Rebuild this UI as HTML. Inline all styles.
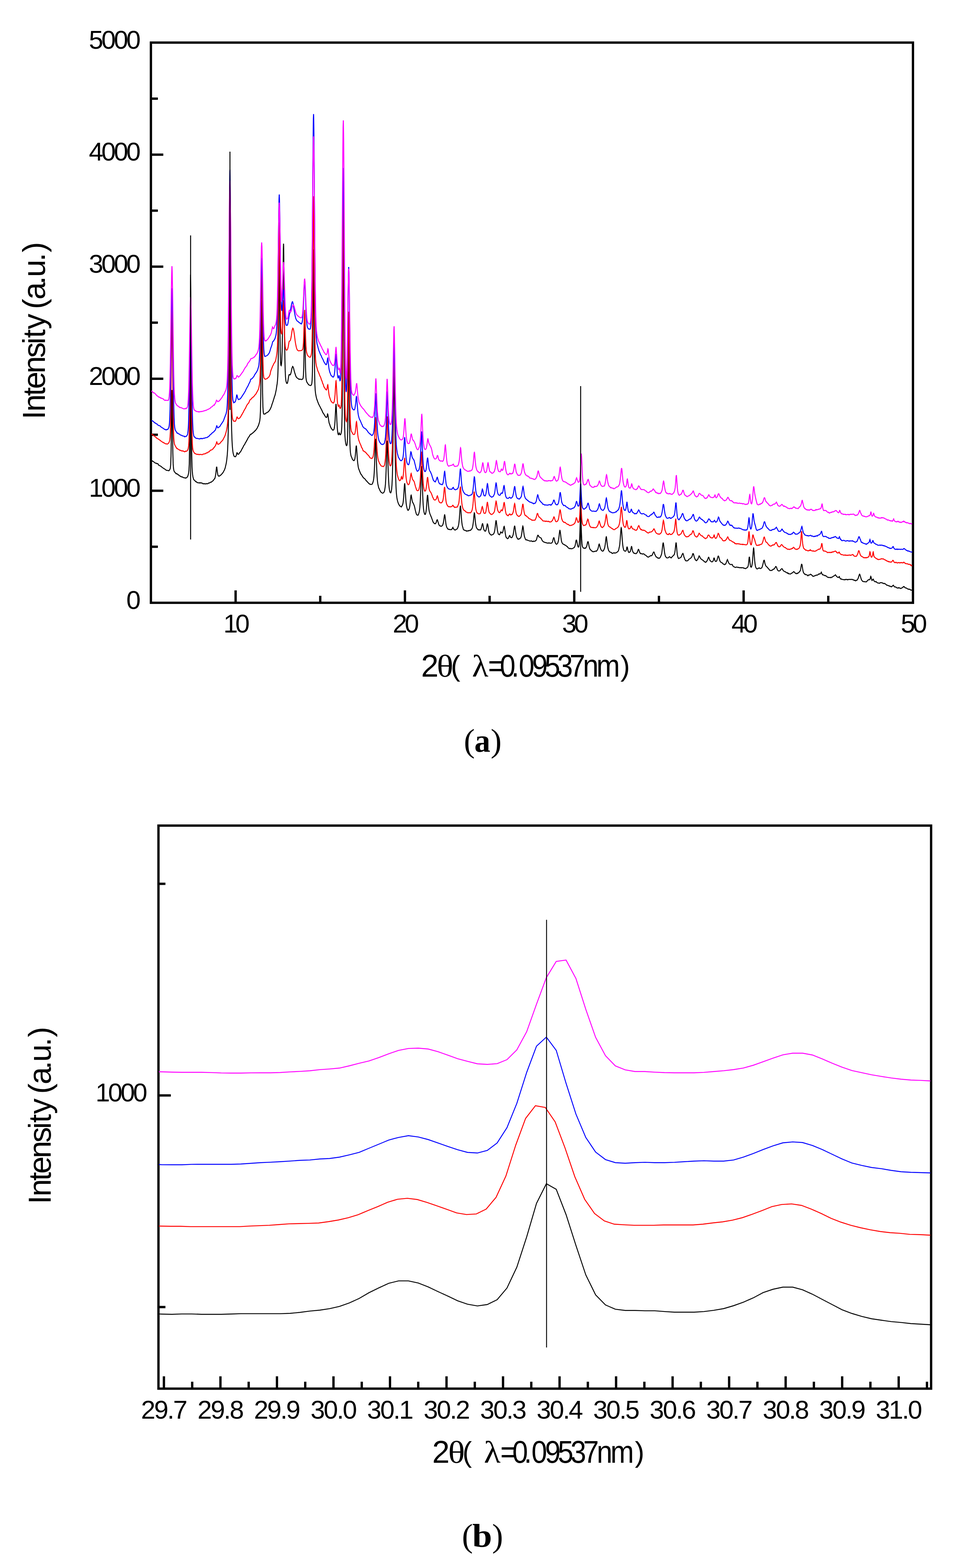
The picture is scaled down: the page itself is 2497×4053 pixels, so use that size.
<!DOCTYPE html>
<html lang="en"><head><meta charset="utf-8"><title>XRD patterns</title>
<style>
html,body{margin:0;padding:0;background:#fff;}
body{width:2497px;height:4053px;overflow:hidden;}
svg{display:block;}
text{font-family:"Liberation Sans",Arial,Helvetica,sans-serif;fill:#000;}
.sym{font-family:"Liberation Serif","DejaVu Serif",serif;}
.cap{font-family:"Liberation Serif","DejaVu Serif",serif;}
.capb{font-family:"Liberation Serif","DejaVu Serif",serif;font-weight:bold;}
.c{fill:none;stroke-linejoin:round;stroke-linecap:butt;}
</style></head><body>
<svg width="2497" height="4053" viewBox="0 0 2497 4053">
<rect width="2497" height="4053" fill="#fff"/>
<rect x="390.1" y="110.1" width="1969.8" height="1448.0" fill="none" stroke="#000" stroke-width="6"/>
<path d="M390.1 1413.3h18M390.1 1268.5h32M390.1 1123.7h18M390.1 978.9h32M390.1 834.1h18M390.1 689.3h32M390.1 544.5h18M390.1 399.7h32M390.1 254.9h18M609.0 1558.1v-32M827.8 1558.1v-18M1046.7 1558.1v-32M1265.6 1558.1v-18M1484.4 1558.1v-32M1703.3 1558.1v-18M1922.2 1558.1v-32M2141.0 1558.1v-18" stroke="#000" stroke-width="6" fill="none"/>
<text x="358.8" y="1573.8" font-size="67" text-anchor="end" letter-spacing="-5" >0</text>
<text x="358.8" y="1284.2" font-size="67" text-anchor="end" letter-spacing="-5" >1000</text>
<text x="358.8" y="994.6" font-size="67" text-anchor="end" letter-spacing="-5" >2000</text>
<text x="358.8" y="705.0" font-size="67" text-anchor="end" letter-spacing="-5" >3000</text>
<text x="358.8" y="415.4" font-size="67" text-anchor="end" letter-spacing="-5" >4000</text>
<text x="358.8" y="125.8" font-size="67" text-anchor="end" letter-spacing="-5" >5000</text>
<text x="577.6 608.3" y="1635" font-size="67">10</text>
<text x="1015.3 1046.0" y="1635" font-size="67">20</text>
<text x="1453.0 1483.7" y="1635" font-size="67">30</text>
<text x="1890.8 1921.5" y="1635" font-size="67">40</text>
<text x="2328.5 2359.2" y="1635" font-size="67">50</text>
<text font-size="81" ><tspan x="1088.5" y="1749.0">2</tspan><tspan x="1128.9" y="1749.0" textLength="42.90" lengthAdjust="spacingAndGlyphs" class="sym">θ</tspan><tspan x="1165.2 1195.0" y="1746.7" font-size="74">( </tspan><tspan x="1219.9" y="1749.0" textLength="42.59" lengthAdjust="spacingAndGlyphs" class="sym">λ</tspan><tspan x="1261.6 1292.1 1321.7 1340.9 1375.2 1407.7 1440.2 1472.3 1506.8 1541.7" y="1749.0" textLength="407.36" lengthAdjust="spacingAndGlyphs">=0.09537nm</tspan><tspan x="1603.8" y="1746.7" font-size="74">)</tspan></text>
<text transform="rotate(-90)" font-size="81" ><tspan x="-1084.0 -1064.0 -1023.4 -1005.4 -965.3 -925.1 -890.1 -873.7 -851.2 -815.0 -799.0 -774.4 -736.1 -716.2 -676.1 -652.5" y="116.0">Intensity (a.u.)</tspan></text>
<text font-size="85.3" ><tspan x="1198.9" y="1942.5" class="cap">(</tspan><tspan x="1226.3" y="1942.5" textLength="41.20" lengthAdjust="spacingAndGlyphs" class="capb">a</tspan><tspan x="1268.3" y="1942.5" class="cap">)</tspan></text>
<path class="c" d="M391.6 1191.4L392.4 1191.4L393.2 1191.0L394.0 1191.8L394.8 1192.5L395.6 1192.5L396.4 1193.1L397.2 1193.7L398.0 1194.2L398.8 1194.8L399.6 1195.7L400.4 1196.4L401.2 1196.5L402.0 1197.1L402.8 1197.4L403.6 1197.5L404.4 1197.4L405.2 1198.2L406.0 1198.8L406.8 1198.4L407.6 1198.3L408.4 1199.0L409.2 1200.7L410.0 1202.2L410.8 1202.6L411.6 1203.0L412.4 1203.2L413.2 1203.9L414.0 1204.1L414.8 1204.8L415.6 1205.1L416.4 1205.5L417.2 1206.3L418.0 1207.0L418.8 1208.0L419.6 1208.4L420.4 1208.9L421.2 1209.4L422.0 1210.3L422.8 1210.6L423.6 1211.3L424.4 1211.6L425.2 1211.9L426.0 1212.5L426.8 1213.1L427.6 1213.8L428.4 1214.4L429.2 1215.1L430.0 1215.7L430.8 1215.7L431.6 1215.8L432.4 1215.9L433.2 1215.9L434.0 1216.3L434.8 1216.3L435.6 1216.4L436.4 1216.9L437.2 1216.2L438.0 1215.1L438.8 1213.9L439.6 1212.2L440.4 1209.0L441.2 1201.2L442.0 1179.1L442.8 1131.4L443.6 1059.8L444.4 1009.7L444.5 1008.1L445.2 1042.0L446.0 1115.8L446.8 1171.3L447.6 1198.9L448.4 1209.8L449.2 1214.8L450.0 1217.6L450.8 1219.7L451.6 1220.1L452.4 1221.2L453.2 1221.8L454.0 1222.7L454.8 1224.4L455.6 1224.8L456.4 1224.1L457.2 1224.8L458.0 1225.3L458.8 1225.3L459.6 1226.4L460.4 1227.4L461.2 1227.6L462.0 1227.6L462.8 1228.9L463.6 1229.5L464.4 1229.7L465.2 1230.1L466.0 1231.1L466.8 1231.7L467.6 1231.8L468.4 1232.3L469.2 1232.7L470.0 1232.3L470.8 1232.9L471.6 1232.8L472.4 1233.4L473.2 1234.3L474.0 1234.4L474.8 1234.4L475.6 1234.7L476.4 1235.3L477.2 1235.3L478.0 1235.0L478.8 1235.2L479.6 1235.4L480.4 1236.0L481.2 1235.0L482.0 1234.6L482.8 1234.1L483.6 1233.5L484.4 1232.8L485.2 1231.4L486.0 1228.8L486.8 1226.1L487.6 1222.0L488.4 1215.7L489.2 1199.8L490.0 1156.0L490.8 1054.7L491.6 885.2L492.4 727.0L492.7 710.1L493.2 755.7L494.0 932.0L494.8 1087.0L495.6 1171.5L496.4 1206.6L497.2 1220.2L498.0 1227.7L498.8 1232.8L499.6 1235.9L500.4 1238.8L501.2 1240.3L502.0 1240.7L502.8 1241.3L503.6 1242.4L504.4 1243.2L505.2 1244.2L506.0 1245.1L506.8 1244.8L507.6 1245.3L508.4 1246.2L509.2 1247.0L510.0 1247.2L510.8 1247.5L511.6 1248.0L512.4 1247.9L513.2 1247.8L514.0 1248.0L514.8 1248.1L515.6 1248.6L516.4 1248.3L517.2 1247.4L518.0 1248.3L518.8 1248.4L519.6 1248.4L520.4 1248.5L521.2 1248.0L522.0 1248.5L522.8 1249.3L523.6 1249.7L524.4 1250.4L525.2 1250.0L526.0 1249.8L526.8 1250.6L527.6 1250.9L528.4 1250.6L529.2 1250.0L530.0 1250.2L530.8 1250.7L531.6 1250.9L532.4 1251.0L533.2 1250.4L534.0 1249.9L534.8 1250.0L535.6 1250.4L536.4 1250.5L537.2 1250.5L538.0 1249.5L538.8 1248.8L539.6 1248.5L540.4 1248.3L541.2 1248.4L542.0 1248.0L542.8 1247.4L543.6 1246.8L544.4 1246.5L545.2 1246.3L546.0 1246.4L546.8 1245.7L547.6 1244.7L548.4 1244.5L549.2 1243.6L550.0 1243.1L550.8 1242.6L551.6 1241.3L552.4 1240.5L553.2 1239.1L554.0 1238.0L554.8 1237.7L555.6 1235.8L556.4 1232.6L557.2 1228.4L558.0 1222.9L558.8 1215.2L559.6 1207.9L559.9 1206.4L560.4 1207.6L561.2 1214.4L562.0 1220.8L562.8 1226.1L563.6 1228.9L564.4 1230.2L565.2 1230.4L566.0 1231.0L566.8 1230.7L567.6 1229.7L568.4 1229.7L569.2 1229.3L570.0 1228.4L570.8 1227.7L571.6 1227.2L572.4 1226.2L573.2 1225.1L574.0 1224.6L574.8 1223.7L575.6 1222.6L576.4 1221.4L577.2 1220.3L578.0 1218.7L578.8 1217.0L579.6 1215.7L580.4 1214.3L581.2 1211.7L582.0 1209.6L582.8 1206.3L583.6 1202.8L584.4 1199.2L585.2 1195.1L586.0 1189.6L586.8 1182.3L587.6 1174.2L588.4 1161.8L589.2 1143.2L590.0 1114.3L590.8 1065.6L591.6 981.2L592.4 842.9L593.2 651.2L594.0 487.2L594.3 469.8L594.8 514.2L595.6 698.0L596.4 878.4L597.2 1000.1L598.0 1072.0L598.8 1112.3L599.6 1136.0L600.4 1150.8L601.2 1160.4L602.0 1167.4L602.8 1172.1L603.6 1175.0L604.4 1177.5L605.2 1179.2L606.0 1180.0L606.8 1180.2L607.6 1180.5L608.4 1180.7L609.2 1180.2L610.0 1178.5L610.8 1176.9L611.6 1173.7L612.4 1170.3L612.8 1170.2L613.2 1170.6L614.0 1172.0L614.8 1174.0L615.6 1174.3L616.4 1174.2L617.2 1173.6L618.0 1172.7L618.8 1170.8L619.6 1170.0L620.4 1169.3L621.2 1168.5L622.0 1167.2L622.8 1166.1L623.6 1164.4L624.4 1162.8L625.2 1161.1L626.0 1159.7L626.8 1158.5L627.6 1156.9L628.4 1155.5L629.2 1153.6L630.0 1152.0L630.8 1150.7L631.6 1149.9L632.4 1149.0L633.2 1147.1L634.0 1145.3L634.8 1143.6L635.6 1143.1L636.4 1141.1L637.2 1140.1L638.0 1138.2L638.8 1137.0L639.6 1135.6L640.4 1133.9L641.2 1132.2L642.0 1130.7L642.8 1129.9L643.6 1129.1L644.4 1127.6L645.2 1126.1L646.0 1125.1L646.8 1123.4L647.2 1123.2L647.6 1122.7L648.4 1122.5L649.2 1122.7L650.0 1121.8L650.8 1120.8L651.6 1120.4L652.4 1120.1L653.2 1119.1L654.0 1118.7L654.8 1117.9L655.6 1116.8L656.4 1116.6L657.2 1115.8L658.0 1114.2L658.8 1114.1L659.6 1113.5L660.4 1112.4L661.2 1111.6L662.0 1110.5L662.8 1109.2L663.6 1108.5L664.4 1107.1L665.2 1105.8L666.0 1103.9L666.8 1102.0L667.6 1100.8L668.4 1098.8L669.2 1096.1L670.0 1093.4L670.8 1090.8L671.6 1086.7L672.4 1079.2L673.2 1063.2L674.0 1025.2L674.8 948.1L675.6 839.6L676.4 776.2L676.4 775.8L677.2 836.2L678.0 942.3L678.8 1016.7L679.6 1051.1L680.4 1064.0L681.2 1069.1L682.0 1070.4L682.8 1070.2L683.6 1070.4L684.4 1069.7L685.2 1070.0L686.0 1069.7L686.8 1068.7L687.6 1067.6L688.4 1067.0L689.2 1067.0L690.0 1066.5L690.8 1066.3L691.6 1065.4L692.4 1064.9L693.2 1064.7L694.0 1063.7L694.8 1062.7L695.6 1061.9L696.4 1060.9L697.2 1059.6L698.0 1058.3L698.8 1056.7L699.6 1055.1L700.4 1053.3L701.2 1051.4L702.0 1049.2L702.8 1046.2L703.6 1043.7L704.4 1041.6L705.2 1039.4L706.0 1036.9L706.8 1033.9L707.6 1031.6L708.4 1029.1L709.2 1026.0L710.0 1024.1L710.8 1022.0L711.6 1018.6L712.4 1014.9L713.2 1011.3L714.0 1007.4L714.8 1002.4L715.6 996.8L716.4 992.0L717.2 984.5L718.0 973.5L718.8 951.5L719.6 900.7L720.4 805.8L721.2 690.1L721.8 648.2L722.0 652.1L722.8 738.2L723.6 844.3L724.4 909.4L725.2 935.9L726.0 943.8L726.8 944.9L727.6 941.1L728.4 930.4L729.2 907.8L730.0 865.3L730.8 797.7L731.6 713.5L732.4 643.3L732.9 629.7L733.2 636.4L734.0 701.4L734.8 793.0L735.6 872.1L736.4 925.9L737.2 957.9L738.0 974.5L738.8 982.7L739.6 986.8L740.4 989.2L741.2 990.8L742.0 991.2L742.8 990.4L743.6 987.7L744.4 983.6L745.2 978.8L746.0 973.6L746.8 969.6L747.0 968.9L747.6 968.1L748.4 968.0L749.2 969.2L750.0 969.1L750.8 968.0L751.6 965.7L752.4 962.7L753.2 959.3L754.0 954.7L754.8 951.1L755.6 949.3L756.1 948.0L756.4 947.1L757.2 947.7L758.0 949.4L758.8 951.6L759.6 955.1L760.4 958.3L761.2 961.0L762.0 964.2L762.8 966.2L763.6 969.0L764.4 971.3L765.2 973.3L766.0 974.4L766.8 975.8L767.6 976.4L768.4 977.1L769.2 977.8L770.0 978.4L770.8 978.7L771.6 979.5L772.4 979.9L773.2 980.7L774.0 980.2L774.8 979.9L775.6 980.3L776.4 980.2L777.2 980.6L778.0 980.7L778.8 981.0L779.6 981.1L780.4 981.0L781.2 980.3L782.0 979.7L782.8 979.3L783.6 976.7L784.4 968.8L785.2 948.8L786.0 909.3L786.8 856.0L787.5 831.9L787.6 833.0L788.4 870.4L789.2 923.5L790.0 959.0L790.8 975.4L791.6 982.1L792.4 985.5L793.2 987.7L794.0 989.0L794.8 990.0L795.6 991.4L796.4 992.5L797.2 993.6L798.0 994.5L798.8 995.1L799.6 995.4L800.4 995.8L801.2 996.4L802.0 996.5L802.8 996.4L803.6 996.4L804.4 995.4L805.2 994.0L806.0 991.0L806.8 983.1L807.6 960.7L808.4 903.9L809.2 797.6L810.0 676.1L810.5 644.7L810.8 658.1L811.6 770.5L812.4 890.8L813.2 963.0L814.0 995.4L814.8 1009.1L815.6 1016.2L816.4 1020.9L817.2 1025.1L818.0 1028.6L818.8 1031.4L819.6 1033.8L820.4 1035.8L821.2 1038.1L822.0 1040.3L822.8 1042.2L823.6 1044.2L824.4 1045.9L825.2 1047.5L826.0 1049.0L826.8 1050.5L827.6 1052.0L828.4 1053.6L829.2 1055.3L830.0 1057.0L830.8 1058.2L831.6 1059.6L832.4 1061.7L833.2 1063.2L834.0 1065.4L834.8 1066.8L835.6 1068.2L836.4 1069.2L837.2 1070.1L838.0 1071.8L838.8 1073.1L839.6 1074.1L840.4 1075.8L841.2 1076.7L842.0 1077.8L842.8 1079.1L843.6 1079.1L844.4 1078.6L845.2 1077.2L846.0 1073.3L846.8 1070.1L847.3 1070.9L847.6 1072.2L848.4 1077.3L849.2 1083.7L850.0 1088.9L850.8 1093.5L851.6 1095.6L852.4 1097.3L853.2 1100.3L854.0 1102.4L854.8 1103.9L855.6 1105.9L856.4 1107.5L857.2 1108.1L858.0 1109.4L858.8 1110.3L859.6 1111.7L860.4 1112.0L861.2 1111.7L862.0 1111.5L862.8 1110.6L863.6 1108.7L864.4 1104.8L865.2 1098.6L866.0 1088.3L866.8 1072.4L867.6 1055.1L868.4 1044.8L868.6 1044.4L869.2 1051.2L870.0 1069.5L870.8 1088.1L871.6 1102.3L872.4 1112.2L873.2 1119.0L874.0 1122.4L874.8 1123.6L875.6 1122.6L876.4 1120.6L877.0 1119.0L877.2 1119.4L878.0 1121.7L878.8 1123.5L879.6 1123.9L880.4 1123.4L881.2 1121.6L882.0 1118.5L882.8 1113.5L883.6 1101.2L884.4 1068.7L885.2 986.3L886.0 825.8L886.8 628.4L887.4 559.5L887.6 568.5L888.4 729.7L889.2 925.6L890.0 1048.4L890.8 1103.6L891.6 1125.8L892.4 1137.0L893.2 1143.4L894.0 1148.0L894.8 1150.4L895.6 1151.9L896.4 1151.6L897.2 1148.8L898.0 1139.9L898.8 1113.4L899.6 1050.6L900.4 949.3L901.2 866.8L901.4 863.2L902.0 902.1L902.8 1009.7L903.6 1096.9L904.4 1142.9L905.2 1162.1L906.0 1170.7L906.8 1175.6L907.6 1179.0L908.4 1180.8L909.2 1182.4L910.0 1184.7L910.8 1186.9L911.6 1188.0L912.4 1189.0L913.2 1189.6L914.0 1190.4L914.8 1190.7L915.6 1189.9L916.4 1188.9L917.2 1186.3L918.0 1181.4L918.8 1173.7L919.6 1163.6L920.4 1154.7L921.1 1152.0L921.2 1151.8L922.0 1160.0L922.8 1173.3L923.6 1185.9L924.4 1194.8L925.2 1201.2L926.0 1206.7L926.8 1210.4L927.6 1212.8L928.4 1214.9L929.2 1217.1L930.0 1219.0L930.8 1220.8L931.6 1223.1L932.4 1224.4L933.2 1226.1L934.0 1226.7L934.8 1227.7L935.6 1229.0L936.4 1230.6L937.2 1231.9L938.0 1232.8L938.8 1234.1L939.6 1235.2L940.4 1235.9L941.2 1236.3L942.0 1236.7L942.8 1237.4L943.6 1238.4L944.4 1239.6L945.2 1240.3L946.0 1241.7L946.8 1243.1L947.6 1243.2L948.4 1243.6L949.2 1245.3L950.0 1246.2L950.8 1246.9L951.6 1247.7L952.4 1248.4L953.2 1249.5L954.0 1250.3L954.8 1250.4L955.6 1251.2L956.4 1251.7L957.2 1251.8L958.0 1252.2L958.8 1252.0L959.6 1252.3L960.4 1252.1L961.2 1251.8L962.0 1251.3L962.8 1250.0L963.6 1247.8L964.4 1245.5L965.2 1242.2L966.0 1237.2L966.8 1229.3L967.6 1216.5L968.4 1197.5L969.2 1172.4L970.0 1146.6L970.8 1134.6L970.8 1134.2L971.6 1144.5L972.4 1170.5L973.2 1197.3L974.0 1217.7L974.8 1231.7L975.6 1242.4L976.4 1249.2L977.2 1253.6L978.0 1257.0L978.8 1260.6L979.6 1262.4L980.4 1263.8L981.2 1265.7L982.0 1267.4L982.8 1268.9L983.6 1270.7L984.4 1271.7L985.2 1272.2L986.0 1273.0L986.8 1273.6L987.6 1274.2L988.4 1274.6L989.2 1274.9L990.0 1274.5L990.8 1274.0L991.6 1273.3L992.4 1272.5L993.2 1270.8L994.0 1268.7L994.8 1264.1L995.6 1258.7L996.4 1250.4L997.2 1236.9L998.0 1217.8L998.8 1192.3L999.6 1163.0L1000.4 1141.4L1000.7 1139.3L1001.2 1144.1L1002.0 1167.7L1002.8 1197.7L1003.6 1222.7L1004.4 1240.1L1005.2 1252.9L1006.0 1261.3L1006.8 1266.8L1007.6 1270.7L1008.4 1272.9L1009.2 1273.6L1010.0 1273.9L1010.8 1272.0L1011.6 1269.1L1012.4 1263.8L1013.2 1254.0L1014.0 1237.7L1014.8 1209.9L1015.6 1166.9L1016.4 1108.2L1017.2 1039.8L1018.0 982.6L1018.6 966.3L1018.8 968.6L1019.6 1009.9L1020.4 1077.6L1021.2 1143.8L1022.0 1196.6L1022.8 1233.7L1023.6 1257.5L1024.4 1272.3L1025.2 1280.6L1026.0 1287.0L1026.8 1291.4L1027.6 1294.8L1028.4 1297.6L1029.2 1299.9L1030.0 1302.1L1030.8 1303.4L1031.6 1304.9L1032.4 1306.5L1033.2 1307.5L1034.0 1308.1L1034.8 1308.6L1035.6 1308.8L1036.4 1309.8L1037.2 1310.4L1038.0 1309.4L1038.8 1308.2L1039.6 1306.9L1040.4 1305.1L1041.2 1302.9L1042.0 1298.7L1042.8 1292.2L1043.6 1282.0L1044.4 1268.9L1045.2 1255.8L1046.0 1249.6L1046.0 1249.0L1046.8 1255.4L1047.6 1269.0L1048.4 1282.5L1049.2 1293.6L1050.0 1302.0L1050.8 1307.5L1051.6 1311.0L1052.4 1314.5L1053.2 1316.7L1054.0 1318.2L1054.8 1319.2L1055.6 1318.6L1056.4 1317.5L1057.2 1316.6L1058.0 1314.2L1058.8 1310.7L1059.6 1305.5L1060.4 1298.1L1061.2 1289.5L1062.0 1282.4L1062.5 1280.1L1062.8 1279.8L1063.6 1283.2L1064.4 1288.5L1065.2 1293.2L1066.0 1296.3L1066.8 1298.6L1067.6 1299.9L1068.4 1301.3L1069.2 1303.3L1070.0 1304.9L1070.8 1307.4L1071.6 1309.9L1072.4 1313.6L1073.2 1317.5L1074.0 1320.8L1074.8 1323.7L1075.6 1326.9L1076.4 1329.0L1077.2 1330.5L1078.0 1331.2L1078.8 1331.1L1079.6 1331.7L1080.4 1331.7L1081.2 1330.8L1082.0 1328.7L1082.8 1326.3L1083.6 1323.2L1084.4 1318.8L1085.2 1311.7L1086.0 1300.8L1086.8 1286.2L1087.6 1265.2L1088.4 1238.7L1089.2 1213.9L1089.9 1205.0L1090.0 1205.9L1090.8 1221.0L1091.6 1247.5L1092.4 1273.1L1093.2 1292.6L1094.0 1306.4L1094.8 1315.6L1095.6 1321.5L1096.4 1325.1L1097.2 1327.6L1098.0 1329.5L1098.8 1329.8L1099.6 1329.0L1100.4 1326.6L1101.2 1322.6L1102.0 1316.7L1102.8 1307.1L1103.6 1295.6L1104.4 1284.3L1105.2 1279.3L1105.2 1279.3L1106.0 1284.6L1106.8 1295.0L1107.6 1305.8L1108.4 1314.1L1109.2 1319.5L1110.0 1323.2L1110.8 1326.4L1111.6 1328.9L1112.4 1330.7L1113.2 1332.3L1114.0 1334.8L1114.8 1336.3L1115.6 1338.2L1116.4 1340.9L1117.2 1342.9L1118.0 1345.1L1118.8 1347.3L1119.6 1349.5L1120.4 1350.7L1121.2 1351.7L1122.0 1352.3L1122.8 1352.8L1123.6 1353.6L1124.4 1353.9L1125.2 1353.8L1126.0 1352.7L1126.8 1351.9L1127.6 1350.3L1128.4 1347.2L1129.2 1344.6L1130.0 1343.5L1130.4 1343.4L1130.8 1343.8L1131.6 1346.8L1132.4 1349.5L1133.2 1352.1L1134.0 1354.9L1134.8 1356.8L1135.6 1358.1L1136.4 1358.8L1137.2 1359.3L1138.0 1359.4L1138.8 1359.9L1139.6 1359.8L1140.4 1360.3L1141.2 1360.0L1142.0 1359.6L1142.8 1359.1L1143.6 1358.3L1144.4 1356.9L1145.2 1354.4L1146.0 1351.4L1146.8 1347.1L1147.6 1341.4L1148.4 1334.8L1149.2 1330.7L1149.4 1330.6L1150.0 1332.5L1150.8 1338.2L1151.6 1344.8L1152.4 1352.0L1153.2 1357.3L1154.0 1360.2L1154.8 1362.7L1155.6 1364.0L1156.4 1365.5L1157.2 1367.2L1158.0 1367.2L1158.8 1367.4L1159.6 1368.5L1160.4 1368.8L1161.2 1368.7L1162.0 1368.2L1162.8 1368.8L1163.6 1369.2L1164.4 1369.1L1165.2 1368.8L1166.0 1369.0L1166.8 1369.2L1167.6 1368.2L1168.4 1367.5L1169.2 1366.2L1170.0 1363.8L1170.6 1363.1L1170.8 1363.8L1171.6 1365.3L1172.4 1366.7L1173.2 1367.6L1174.0 1368.9L1174.8 1369.6L1175.6 1369.9L1176.4 1370.2L1177.2 1369.6L1178.0 1369.7L1178.8 1368.5L1179.6 1368.1L1180.4 1368.0L1181.2 1367.3L1182.0 1366.6L1182.8 1365.3L1183.6 1363.0L1184.4 1360.8L1185.2 1357.8L1186.0 1352.9L1186.8 1346.5L1187.6 1337.4L1188.4 1325.6L1189.2 1313.7L1190.0 1307.6L1190.1 1307.1L1190.8 1310.9L1191.6 1321.9L1192.4 1334.3L1193.2 1344.3L1194.0 1351.8L1194.8 1357.5L1195.6 1360.9L1196.4 1363.2L1197.2 1366.6L1198.0 1368.7L1198.8 1369.5L1199.6 1370.1L1200.4 1370.4L1201.2 1370.3L1202.0 1371.2L1202.8 1371.4L1203.6 1371.4L1204.4 1371.5L1205.2 1372.3L1206.0 1373.0L1206.8 1372.2L1207.6 1372.3L1208.4 1372.4L1209.2 1372.7L1210.0 1372.3L1210.8 1371.4L1211.6 1372.1L1212.4 1371.9L1213.2 1371.2L1214.0 1371.2L1214.8 1370.6L1215.6 1370.8L1216.4 1370.9L1217.2 1369.9L1218.0 1368.6L1218.8 1368.0L1219.6 1367.1L1220.4 1365.6L1221.2 1363.0L1222.0 1359.3L1222.8 1354.6L1223.6 1348.5L1224.4 1340.6L1225.2 1331.5L1226.0 1325.8L1226.2 1326.0L1226.8 1328.1L1227.6 1336.0L1228.4 1344.5L1229.2 1352.0L1230.0 1357.1L1230.8 1361.0L1231.6 1363.9L1232.4 1365.0L1233.2 1366.4L1234.0 1367.3L1234.8 1368.2L1235.6 1369.0L1236.4 1369.9L1237.2 1369.5L1238.0 1369.0L1238.8 1369.4L1239.6 1370.0L1240.4 1369.8L1241.2 1370.0L1242.0 1369.9L1242.8 1368.7L1243.6 1366.4L1244.4 1364.2L1245.2 1361.1L1246.0 1357.0L1246.8 1354.4L1247.4 1353.6L1247.6 1353.9L1248.4 1356.8L1249.2 1361.3L1250.0 1366.0L1250.8 1368.9L1251.6 1370.3L1252.4 1371.8L1253.2 1372.6L1254.0 1373.0L1254.8 1373.0L1255.6 1372.0L1256.4 1369.4L1257.2 1366.3L1258.0 1362.4L1258.8 1357.7L1259.6 1354.2L1259.9 1354.3L1260.4 1354.8L1261.2 1358.2L1262.0 1363.6L1262.8 1369.4L1263.6 1374.2L1264.4 1377.0L1265.2 1378.5L1266.0 1379.6L1266.8 1380.7L1267.6 1381.6L1268.4 1382.0L1269.2 1382.8L1270.0 1383.3L1270.8 1383.0L1271.6 1382.3L1272.4 1382.1L1273.2 1382.0L1274.0 1381.6L1274.8 1380.9L1275.6 1380.6L1276.4 1379.1L1277.2 1377.5L1278.0 1374.9L1278.8 1371.2L1279.6 1366.2L1280.4 1359.1L1281.2 1351.5L1282.0 1345.9L1282.3 1345.0L1282.8 1346.8L1283.6 1352.8L1284.4 1359.8L1285.2 1366.7L1286.0 1372.1L1286.8 1376.0L1287.6 1378.9L1288.4 1380.9L1289.2 1381.1L1290.0 1381.6L1290.8 1382.4L1291.6 1381.7L1292.4 1380.0L1293.2 1378.2L1294.0 1375.7L1294.6 1374.9L1294.8 1375.1L1295.6 1376.1L1296.4 1376.6L1297.2 1377.5L1298.0 1377.8L1298.8 1376.5L1299.6 1374.9L1300.4 1372.5L1301.2 1368.3L1302.0 1364.0L1302.8 1360.9L1303.3 1360.5L1303.6 1361.9L1304.4 1365.6L1305.2 1371.3L1306.0 1377.7L1306.8 1382.7L1307.6 1386.7L1308.4 1389.2L1309.2 1389.8L1310.0 1390.5L1310.8 1391.4L1311.6 1392.5L1312.4 1392.2L1313.2 1392.0L1314.0 1391.0L1314.8 1389.5L1315.6 1387.4L1316.4 1385.7L1317.2 1384.4L1317.4 1384.1L1318.0 1384.7L1318.8 1386.8L1319.6 1388.8L1320.4 1389.0L1321.2 1389.6L1322.0 1389.9L1322.8 1389.7L1323.6 1389.1L1324.4 1387.3L1325.2 1385.6L1326.0 1383.6L1326.8 1380.3L1327.6 1375.1L1328.4 1369.4L1329.2 1363.3L1330.0 1360.0L1330.3 1359.8L1330.8 1360.7L1331.6 1365.9L1332.4 1371.8L1333.2 1377.8L1334.0 1382.2L1334.8 1385.9L1335.6 1388.6L1336.4 1389.9L1337.2 1391.3L1338.0 1392.8L1338.8 1393.4L1339.6 1394.1L1340.4 1393.3L1341.2 1392.6L1342.0 1393.2L1342.8 1392.9L1343.6 1392.0L1344.4 1391.4L1345.2 1390.7L1346.0 1390.2L1346.8 1387.7L1347.6 1385.3L1348.4 1380.8L1349.2 1375.1L1350.0 1368.7L1350.8 1362.8L1351.5 1360.0L1351.6 1360.2L1352.4 1363.3L1353.2 1370.3L1354.0 1376.9L1354.8 1382.5L1355.6 1386.8L1356.4 1388.9L1357.2 1391.4L1358.0 1393.3L1358.8 1394.6L1359.6 1395.7L1360.4 1395.6L1361.2 1395.1L1362.0 1395.4L1362.8 1395.9L1363.6 1396.5L1364.4 1396.8L1365.2 1396.9L1366.0 1397.1L1366.8 1397.4L1367.6 1397.6L1368.4 1398.0L1369.2 1398.6L1370.0 1398.6L1370.8 1398.6L1371.6 1398.6L1372.4 1398.5L1373.2 1398.0L1374.0 1398.4L1374.8 1398.6L1375.6 1399.5L1376.4 1399.3L1377.2 1399.5L1378.0 1399.8L1378.8 1398.9L1379.6 1398.6L1380.4 1399.2L1381.2 1399.4L1382.0 1399.2L1382.8 1398.7L1383.6 1398.5L1384.4 1397.7L1385.2 1396.9L1386.0 1396.4L1386.8 1394.6L1387.6 1391.6L1388.4 1388.5L1389.2 1385.8L1390.0 1384.1L1390.2 1383.6L1390.8 1383.6L1391.6 1384.3L1392.4 1386.2L1393.2 1387.7L1394.0 1388.1L1394.8 1388.5L1395.6 1388.9L1396.4 1389.8L1397.2 1389.9L1398.0 1390.4L1398.8 1391.0L1399.6 1392.7L1400.4 1394.8L1401.2 1396.7L1402.0 1397.7L1402.8 1398.3L1403.6 1399.6L1404.4 1400.4L1405.2 1400.8L1406.0 1401.0L1406.8 1401.0L1407.6 1401.6L1408.4 1402.3L1409.2 1402.5L1410.0 1402.2L1410.8 1402.4L1411.6 1402.9L1412.4 1403.0L1413.2 1403.2L1414.0 1403.7L1414.8 1403.8L1415.6 1404.0L1416.4 1403.9L1417.2 1403.5L1418.0 1403.9L1418.8 1403.6L1419.6 1403.2L1420.4 1403.7L1421.2 1404.1L1422.0 1404.1L1422.8 1404.1L1423.6 1404.3L1424.4 1403.9L1425.2 1403.8L1426.0 1403.8L1426.8 1402.8L1427.6 1401.4L1428.4 1399.8L1429.2 1396.3L1430.0 1392.5L1430.8 1390.4L1431.5 1389.8L1431.6 1389.8L1432.4 1391.6L1433.2 1394.9L1434.0 1398.7L1434.8 1401.6L1435.6 1403.4L1436.4 1405.0L1437.2 1405.8L1438.0 1406.5L1438.8 1406.9L1439.6 1406.1L1440.4 1405.4L1441.2 1404.5L1442.0 1403.0L1442.8 1400.1L1443.6 1397.0L1444.4 1391.8L1445.2 1384.9L1446.0 1377.7L1446.8 1372.1L1447.3 1370.9L1447.6 1371.2L1448.4 1375.8L1449.2 1382.4L1450.0 1389.5L1450.8 1395.3L1451.6 1399.4L1452.4 1401.9L1453.2 1403.7L1454.0 1404.7L1454.8 1405.8L1455.6 1406.2L1456.4 1406.7L1457.2 1407.3L1458.0 1407.5L1458.8 1407.7L1459.6 1408.7L1460.4 1409.1L1461.2 1409.2L1462.0 1409.6L1462.8 1410.4L1463.6 1410.8L1464.4 1411.5L1465.2 1412.4L1466.0 1412.7L1466.8 1412.9L1467.6 1414.5L1468.4 1415.9L1469.2 1416.3L1470.0 1416.7L1470.8 1417.6L1471.6 1417.6L1472.4 1418.3L1473.2 1417.8L1474.0 1417.5L1474.8 1418.2L1475.6 1418.5L1476.4 1418.3L1477.2 1418.3L1478.0 1418.4L1478.8 1418.1L1479.6 1418.1L1480.4 1417.7L1481.2 1417.3L1482.0 1416.6L1482.8 1416.0L1483.6 1415.5L1484.4 1415.2L1485.2 1413.8L1486.0 1411.9L1486.8 1409.3L1487.6 1405.4L1488.4 1400.2L1489.2 1396.5L1490.0 1395.4L1490.0 1395.1L1490.8 1397.9L1491.6 1402.2L1492.4 1406.4L1493.2 1410.1L1494.0 1412.7L1494.8 1414.2L1495.6 1414.1L1496.4 1412.4L1497.2 1407.6L1498.0 1397.1L1498.8 1379.7L1499.6 1356.8L1500.4 1335.7L1500.9 1330.6L1501.2 1331.3L1502.0 1349.7L1502.8 1374.5L1503.6 1392.9L1504.4 1404.7L1505.2 1410.9L1506.0 1413.5L1506.8 1415.1L1507.6 1416.4L1508.4 1416.9L1509.2 1416.7L1510.0 1416.7L1510.8 1417.6L1511.6 1417.6L1512.4 1416.6L1513.2 1416.8L1514.0 1416.9L1514.8 1415.2L1515.6 1413.7L1516.4 1412.0L1517.2 1409.4L1518.0 1405.3L1518.8 1401.6L1519.6 1400.6L1519.8 1400.2L1520.4 1400.6L1521.2 1404.1L1522.0 1408.5L1522.8 1412.6L1523.6 1415.2L1524.4 1418.0L1525.2 1419.9L1526.0 1420.6L1526.8 1421.0L1527.6 1422.2L1528.4 1423.5L1529.2 1423.6L1530.0 1424.3L1530.8 1425.1L1531.6 1425.0L1532.4 1425.7L1533.2 1426.4L1534.0 1426.1L1534.8 1425.7L1535.6 1425.5L1536.4 1425.4L1537.2 1425.6L1538.0 1425.2L1538.8 1424.6L1539.6 1424.8L1540.4 1424.5L1541.2 1424.7L1542.0 1424.7L1542.8 1423.2L1543.6 1422.3L1544.4 1421.1L1545.2 1419.1L1546.0 1416.9L1546.8 1413.8L1547.6 1409.8L1548.4 1406.8L1548.9 1406.3L1549.2 1407.2L1550.0 1409.4L1550.8 1412.8L1551.6 1415.8L1552.4 1418.1L1553.2 1419.9L1554.0 1421.6L1554.8 1422.9L1555.6 1423.4L1556.4 1424.1L1557.2 1424.8L1558.0 1424.4L1558.8 1423.9L1559.6 1424.0L1560.4 1422.3L1561.2 1420.5L1562.0 1418.8L1562.8 1416.5L1563.6 1412.4L1564.4 1407.6L1565.2 1401.5L1566.0 1393.8L1566.8 1388.4L1567.2 1387.6L1567.6 1388.4L1568.4 1394.6L1569.2 1402.4L1570.0 1408.9L1570.8 1413.6L1571.6 1417.4L1572.4 1420.1L1573.2 1422.6L1574.0 1423.9L1574.8 1425.3L1575.6 1426.2L1576.4 1426.9L1577.2 1427.2L1578.0 1427.6L1578.8 1427.8L1579.6 1427.7L1580.4 1428.2L1581.2 1429.1L1582.0 1430.3L1582.8 1430.8L1583.6 1430.3L1584.4 1430.0L1585.2 1429.4L1586.0 1429.1L1586.8 1429.3L1587.6 1428.8L1588.4 1429.1L1589.2 1429.6L1590.0 1429.5L1590.8 1429.3L1591.6 1429.1L1592.4 1428.6L1593.2 1428.5L1594.0 1428.2L1594.8 1427.4L1595.6 1426.8L1596.4 1426.1L1597.2 1425.4L1598.0 1424.5L1598.8 1422.7L1599.6 1419.7L1600.4 1415.7L1601.2 1412.3L1602.0 1407.2L1602.8 1398.6L1603.6 1387.6L1604.4 1376.5L1605.2 1367.5L1605.8 1364.2L1606.0 1364.5L1606.8 1371.6L1607.6 1382.5L1608.4 1393.8L1609.2 1403.6L1610.0 1410.8L1610.8 1416.1L1611.6 1419.2L1612.4 1422.0L1613.2 1423.1L1614.0 1423.7L1614.8 1424.3L1615.6 1424.6L1616.4 1424.7L1617.2 1424.5L1618.0 1424.0L1618.8 1422.1L1619.6 1419.2L1620.4 1414.4L1621.1 1413.0L1621.2 1413.7L1622.0 1416.8L1622.8 1421.2L1623.6 1424.2L1624.4 1426.5L1625.2 1427.3L1626.0 1428.2L1626.8 1427.5L1627.6 1426.8L1628.4 1426.7L1629.2 1425.3L1630.0 1422.8L1630.8 1419.4L1631.6 1414.9L1632.4 1412.4L1632.6 1412.4L1633.2 1414.1L1634.0 1419.0L1634.8 1422.8L1635.6 1425.3L1636.4 1427.1L1637.2 1428.6L1638.0 1429.3L1638.8 1429.5L1639.6 1430.6L1640.4 1430.3L1641.2 1430.3L1642.0 1430.8L1642.8 1430.9L1643.6 1431.2L1644.4 1431.0L1645.2 1430.4L1646.0 1429.1L1646.8 1428.4L1647.6 1426.8L1648.4 1424.5L1649.2 1422.1L1650.0 1419.9L1650.4 1419.9L1650.8 1420.0L1651.6 1422.1L1652.4 1424.5L1653.2 1426.6L1654.0 1428.4L1654.8 1430.0L1655.6 1431.1L1656.4 1431.0L1657.2 1430.9L1658.0 1431.2L1658.8 1431.2L1659.6 1431.5L1660.4 1432.2L1661.2 1431.9L1662.0 1431.9L1662.8 1431.5L1663.6 1431.5L1664.4 1431.9L1665.2 1432.7L1666.0 1433.7L1666.8 1434.1L1667.6 1434.4L1668.4 1435.0L1669.2 1435.1L1670.0 1436.1L1670.8 1436.9L1671.6 1437.5L1672.4 1438.2L1673.2 1439.0L1674.0 1439.4L1674.8 1440.0L1675.6 1440.3L1676.4 1439.6L1677.2 1439.2L1678.0 1439.1L1678.8 1438.4L1679.6 1437.7L1680.4 1437.1L1681.2 1436.4L1682.0 1436.7L1682.8 1436.4L1683.6 1436.6L1684.4 1436.0L1685.2 1435.0L1686.0 1434.7L1686.8 1432.9L1687.6 1430.3L1688.4 1428.8L1689.2 1427.1L1690.0 1426.7L1690.1 1426.7L1690.8 1427.4L1691.6 1429.9L1692.4 1432.5L1693.2 1434.2L1694.0 1435.4L1694.8 1437.3L1695.6 1438.8L1696.4 1440.0L1697.2 1439.8L1698.0 1440.1L1698.8 1441.2L1699.6 1442.1L1700.4 1442.6L1701.2 1442.3L1702.0 1442.2L1702.8 1443.1L1703.6 1443.0L1704.4 1442.7L1705.2 1442.6L1706.0 1441.3L1706.8 1439.9L1707.6 1439.0L1708.4 1436.7L1709.2 1434.8L1710.0 1432.4L1710.8 1428.4L1711.6 1422.2L1712.4 1415.0L1713.2 1408.1L1714.0 1403.6L1714.3 1403.4L1714.8 1404.4L1715.6 1409.8L1716.4 1416.6L1717.2 1423.5L1718.0 1429.3L1718.8 1433.5L1719.6 1436.5L1720.4 1438.5L1721.2 1439.3L1722.0 1440.6L1722.8 1441.7L1723.6 1441.9L1724.4 1441.9L1725.2 1442.1L1726.0 1442.2L1726.8 1441.8L1727.6 1441.4L1728.4 1441.0L1729.2 1440.3L1730.0 1439.0L1730.4 1438.9L1730.8 1439.2L1731.6 1439.7L1732.4 1440.2L1733.2 1440.6L1734.0 1441.8L1734.8 1442.2L1735.6 1441.0L1736.4 1440.4L1737.2 1439.2L1738.0 1438.8L1738.8 1437.9L1739.6 1436.7L1740.4 1435.9L1741.2 1435.6L1742.0 1434.7L1742.8 1433.4L1743.6 1431.0L1744.4 1427.4L1745.2 1421.9L1746.0 1414.7L1746.8 1406.6L1747.6 1402.5L1747.7 1402.3L1748.4 1407.3L1749.2 1417.1L1750.0 1426.5L1750.8 1433.7L1751.6 1437.7L1752.4 1440.5L1753.2 1442.9L1754.0 1443.8L1754.8 1443.1L1755.6 1443.1L1756.4 1442.9L1757.2 1442.3L1758.0 1441.6L1758.8 1441.6L1759.6 1441.0L1760.4 1440.3L1761.2 1438.4L1762.0 1436.6L1762.8 1434.5L1763.6 1432.7L1764.4 1431.4L1765.1 1430.5L1765.2 1430.7L1766.0 1431.7L1766.8 1434.8L1767.6 1438.3L1768.4 1440.8L1769.2 1442.6L1770.0 1445.1L1770.8 1447.0L1771.6 1447.9L1772.4 1449.5L1773.2 1449.7L1774.0 1449.5L1774.8 1449.9L1775.6 1450.0L1776.4 1449.4L1777.2 1449.3L1778.0 1449.1L1778.8 1448.3L1779.6 1446.6L1780.4 1445.9L1781.2 1445.4L1782.0 1445.0L1782.8 1444.6L1783.6 1443.7L1784.4 1443.4L1785.2 1443.0L1786.0 1442.0L1786.8 1440.9L1787.6 1440.1L1788.4 1439.1L1789.2 1437.0L1790.0 1433.9L1790.8 1431.2L1791.6 1431.2L1791.7 1431.1L1792.4 1431.6L1793.2 1434.3L1794.0 1437.7L1794.8 1440.7L1795.6 1442.6L1796.4 1444.9L1797.2 1446.6L1798.0 1447.7L1798.8 1448.2L1799.6 1448.2L1800.4 1449.3L1801.2 1448.3L1802.0 1447.4L1802.8 1447.1L1803.6 1445.6L1804.4 1443.7L1805.2 1442.0L1806.0 1440.1L1806.8 1437.8L1807.2 1437.0L1807.6 1437.6L1808.4 1438.1L1809.2 1440.0L1810.0 1442.0L1810.8 1442.9L1811.6 1444.2L1812.4 1444.8L1813.2 1446.0L1814.0 1446.3L1814.8 1446.6L1815.6 1447.0L1816.4 1447.8L1817.2 1448.6L1818.0 1449.1L1818.8 1449.7L1819.6 1450.8L1820.4 1451.1L1821.2 1452.0L1822.0 1452.6L1822.8 1452.6L1823.6 1453.6L1824.4 1453.2L1825.2 1452.4L1826.0 1452.2L1826.8 1451.0L1827.6 1449.2L1828.4 1447.8L1829.2 1446.5L1830.0 1444.2L1830.8 1441.9L1831.6 1439.7L1831.6 1439.5L1832.4 1441.1L1833.2 1443.6L1834.0 1445.6L1834.8 1447.6L1835.6 1449.3L1836.4 1450.0L1837.2 1450.4L1838.0 1451.3L1838.8 1451.7L1839.6 1451.9L1840.4 1452.5L1841.2 1452.0L1842.0 1451.5L1842.8 1450.5L1843.6 1449.4L1844.4 1446.5L1845.2 1442.8L1845.9 1442.3L1846.0 1442.3L1846.8 1444.3L1847.6 1447.6L1848.4 1449.8L1849.2 1451.1L1850.0 1451.1L1850.8 1451.3L1851.6 1450.8L1852.4 1449.7L1853.2 1448.3L1854.0 1445.4L1854.8 1442.6L1855.6 1439.4L1856.4 1437.4L1856.8 1437.2L1857.2 1437.3L1858.0 1439.3L1858.8 1442.4L1859.6 1445.3L1860.4 1448.3L1861.2 1450.5L1862.0 1452.0L1862.8 1452.7L1863.6 1453.3L1864.4 1453.9L1865.2 1454.0L1866.0 1454.7L1866.8 1455.2L1867.6 1455.5L1868.4 1456.8L1869.2 1457.8L1870.0 1458.2L1870.8 1458.3L1871.6 1458.5L1872.4 1459.4L1873.2 1459.7L1874.0 1459.2L1874.8 1458.1L1875.6 1457.9L1876.4 1456.6L1877.2 1454.3L1878.0 1452.1L1878.8 1450.0L1879.6 1447.8L1880.3 1446.8L1880.4 1446.6L1881.2 1448.7L1882.0 1451.1L1882.8 1453.0L1883.6 1455.0L1884.4 1455.9L1885.2 1457.2L1886.0 1458.2L1886.8 1458.4L1887.6 1458.8L1888.4 1459.2L1889.2 1459.2L1890.0 1459.2L1890.8 1459.0L1891.6 1458.7L1892.4 1458.9L1893.2 1460.5L1894.0 1461.8L1894.8 1463.3L1895.6 1464.2L1896.4 1464.9L1897.2 1465.1L1898.0 1465.4L1898.8 1465.7L1899.6 1466.3L1900.4 1466.5L1901.2 1466.8L1902.0 1466.8L1902.8 1466.3L1903.6 1465.9L1904.4 1465.6L1905.2 1465.9L1906.0 1466.1L1906.8 1466.3L1907.6 1467.1L1908.4 1466.6L1909.2 1466.5L1910.0 1466.7L1910.8 1467.0L1911.6 1467.5L1912.4 1467.7L1913.2 1467.6L1914.0 1467.2L1914.8 1467.1L1915.6 1467.5L1916.4 1467.8L1917.2 1467.3L1918.0 1467.5L1918.8 1467.4L1919.6 1467.4L1920.4 1467.4L1921.2 1467.5L1922.0 1468.3L1922.8 1468.8L1923.6 1468.5L1924.4 1468.9L1925.2 1469.4L1926.0 1469.2L1926.8 1469.6L1927.6 1469.8L1928.4 1469.1L1929.2 1468.3L1930.0 1468.0L1930.8 1467.9L1931.6 1466.8L1932.4 1466.1L1933.2 1464.7L1934.0 1462.3L1934.8 1457.4L1935.6 1449.4L1936.4 1441.5L1937.1 1439.2L1937.2 1439.8L1938.0 1446.0L1938.8 1454.4L1939.6 1461.0L1940.4 1464.8L1941.2 1465.7L1942.0 1466.1L1942.8 1464.7L1943.6 1461.7L1944.4 1457.2L1945.2 1450.0L1946.0 1439.0L1946.8 1427.2L1947.6 1418.2L1948.0 1416.8L1948.4 1417.6L1949.2 1426.8L1950.0 1438.8L1950.8 1449.4L1951.6 1456.6L1952.4 1461.8L1953.2 1465.2L1954.0 1467.4L1954.8 1468.6L1955.6 1469.6L1956.4 1470.5L1957.2 1470.5L1958.0 1470.5L1958.8 1469.7L1959.6 1469.5L1960.4 1469.2L1961.2 1468.4L1962.0 1467.9L1962.8 1468.0L1963.6 1468.8L1964.4 1469.3L1965.2 1469.4L1966.0 1469.7L1966.8 1469.3L1967.6 1468.7L1968.4 1468.1L1969.2 1467.4L1970.0 1465.7L1970.8 1462.8L1971.6 1460.4L1972.4 1457.1L1973.2 1453.5L1974.0 1449.9L1974.8 1447.9L1974.8 1447.4L1975.6 1448.4L1976.4 1451.6L1977.2 1456.2L1978.0 1458.8L1978.8 1460.7L1979.6 1462.4L1980.4 1463.8L1981.2 1464.6L1982.0 1465.0L1982.8 1465.9L1983.6 1466.5L1984.4 1467.6L1985.2 1468.6L1986.0 1469.8L1986.8 1470.5L1987.6 1471.0L1988.4 1472.3L1989.2 1473.6L1990.0 1474.2L1990.8 1474.4L1991.6 1474.5L1992.4 1474.7L1993.2 1474.5L1994.0 1474.7L1994.8 1474.2L1995.6 1473.8L1996.4 1473.6L1997.2 1473.0L1998.0 1471.9L1998.8 1471.1L1999.6 1471.5L2000.4 1471.3L2001.2 1470.4L2002.0 1469.1L2002.8 1468.3L2003.6 1467.3L2004.4 1465.5L2005.2 1464.2L2005.9 1464.4L2006.0 1465.0L2006.8 1465.5L2007.6 1467.2L2008.4 1470.0L2009.2 1472.2L2010.0 1473.1L2010.8 1474.6L2011.6 1475.5L2012.4 1475.5L2013.2 1475.8L2014.0 1475.9L2014.8 1475.7L2015.6 1475.2L2016.4 1475.0L2017.2 1473.4L2018.0 1472.4L2018.8 1471.6L2019.6 1470.8L2020.4 1469.8L2020.4 1470.0L2021.2 1470.0L2022.0 1470.5L2022.8 1471.7L2023.6 1473.6L2024.4 1474.3L2025.2 1475.3L2026.0 1476.2L2026.8 1476.8L2027.6 1476.9L2028.4 1477.5L2029.2 1477.8L2030.0 1478.0L2030.8 1478.2L2031.6 1479.4L2032.4 1480.0L2033.2 1480.2L2034.0 1480.3L2034.8 1480.0L2035.6 1481.3L2036.4 1482.2L2037.2 1481.4L2038.0 1482.4L2038.8 1483.3L2039.6 1483.1L2040.4 1483.1L2041.2 1483.4L2042.0 1483.6L2042.8 1483.9L2043.6 1483.5L2044.4 1482.8L2045.2 1482.6L2046.0 1481.8L2046.8 1481.3L2047.6 1480.8L2048.4 1480.8L2049.2 1480.0L2050.0 1479.0L2050.8 1478.2L2051.5 1477.7L2051.6 1477.8L2052.4 1477.8L2053.2 1478.9L2054.0 1479.9L2054.8 1480.4L2055.6 1481.3L2056.4 1481.9L2057.2 1482.2L2058.0 1483.0L2058.8 1482.4L2059.6 1482.0L2060.4 1481.8L2061.2 1482.7L2062.0 1482.2L2062.8 1480.8L2063.6 1480.8L2064.4 1480.5L2065.2 1479.9L2066.0 1478.3L2066.8 1477.4L2067.6 1476.6L2068.4 1475.6L2069.2 1473.0L2070.0 1468.7L2070.8 1463.8L2071.6 1459.2L2072.4 1457.7L2072.4 1458.0L2073.2 1460.3L2074.0 1465.4L2074.8 1470.8L2075.6 1475.1L2076.4 1478.6L2077.2 1480.5L2078.0 1481.5L2078.8 1482.7L2079.6 1483.7L2080.4 1484.4L2081.2 1484.0L2082.0 1485.0L2082.8 1485.5L2083.6 1485.2L2084.4 1485.4L2085.2 1485.8L2086.0 1486.2L2086.8 1486.7L2087.6 1487.2L2088.4 1488.4L2089.2 1487.3L2090.0 1486.5L2090.8 1486.3L2091.6 1486.2L2092.4 1486.2L2093.2 1485.9L2094.0 1485.0L2094.8 1484.2L2095.2 1484.3L2095.6 1484.7L2096.4 1485.3L2097.2 1485.3L2098.0 1486.5L2098.8 1487.2L2099.6 1487.5L2100.4 1488.4L2101.2 1489.8L2102.0 1489.8L2102.8 1489.2L2103.6 1489.3L2104.4 1489.3L2105.2 1488.8L2106.0 1488.0L2106.8 1487.7L2107.6 1487.9L2108.4 1487.3L2109.2 1486.9L2110.0 1487.1L2110.8 1486.4L2111.6 1486.5L2112.4 1486.4L2113.2 1486.4L2114.0 1485.9L2114.8 1485.0L2115.6 1484.8L2116.4 1483.7L2117.0 1483.3L2117.2 1483.7L2118.0 1483.4L2118.8 1483.7L2119.6 1483.8L2120.4 1483.2L2121.2 1482.1L2122.0 1481.0L2122.8 1479.5L2123.0 1479.1L2123.6 1480.6L2124.4 1482.5L2125.2 1484.4L2126.0 1485.5L2126.8 1486.1L2127.6 1485.6L2128.4 1486.1L2129.2 1486.4L2130.0 1486.9L2130.8 1487.6L2131.6 1487.6L2132.4 1488.2L2133.2 1487.6L2134.0 1488.1L2134.8 1488.7L2135.6 1488.7L2136.4 1489.5L2137.2 1490.5L2138.0 1491.3L2138.8 1491.8L2139.6 1491.9L2140.4 1491.8L2141.2 1492.7L2142.0 1492.8L2142.8 1492.8L2143.6 1492.9L2144.4 1493.0L2145.2 1492.7L2146.0 1492.3L2146.8 1493.0L2147.6 1493.4L2148.4 1493.1L2149.2 1492.5L2150.0 1491.9L2150.8 1491.5L2151.6 1491.5L2152.4 1490.9L2153.2 1490.3L2154.0 1489.6L2154.8 1489.2L2155.6 1488.6L2156.4 1488.4L2157.2 1487.8L2158.0 1486.9L2158.8 1486.9L2159.4 1486.4L2159.6 1486.0L2160.4 1487.1L2161.2 1488.0L2162.0 1489.4L2162.8 1490.3L2163.6 1490.7L2164.4 1491.6L2165.2 1492.1L2166.0 1492.4L2166.8 1492.8L2167.6 1492.5L2168.4 1491.8L2169.2 1490.2L2169.4 1490.1L2170.0 1491.4L2170.8 1493.5L2171.6 1495.1L2172.4 1496.3L2173.2 1496.6L2174.0 1496.1L2174.8 1496.6L2175.6 1497.4L2176.4 1497.4L2177.2 1497.6L2178.0 1497.8L2178.8 1497.9L2179.6 1498.1L2180.4 1498.5L2181.2 1498.2L2182.0 1498.0L2182.8 1498.7L2183.6 1498.7L2184.4 1498.6L2185.2 1497.8L2186.0 1498.1L2186.8 1497.6L2187.6 1497.7L2188.4 1497.8L2189.2 1497.8L2190.0 1498.8L2190.8 1498.8L2191.6 1498.0L2192.4 1497.8L2193.2 1498.1L2194.0 1498.2L2194.8 1497.6L2195.6 1497.8L2196.4 1497.7L2197.2 1497.8L2198.0 1497.6L2198.8 1497.8L2199.6 1498.1L2200.4 1497.7L2201.2 1497.5L2202.0 1497.6L2202.8 1497.7L2203.6 1498.4L2204.4 1498.1L2205.2 1498.2L2206.0 1499.1L2206.8 1499.6L2207.6 1499.6L2208.4 1500.4L2209.2 1500.2L2210.0 1499.8L2210.8 1500.7L2211.6 1501.4L2212.4 1500.9L2213.2 1500.6L2214.0 1499.8L2214.8 1499.5L2215.6 1499.4L2216.4 1497.9L2217.2 1496.7L2218.0 1495.3L2218.8 1493.3L2219.6 1490.0L2220.4 1488.0L2221.2 1485.3L2221.9 1484.0L2222.0 1484.0L2222.8 1485.4L2223.6 1488.0L2224.4 1490.9L2225.2 1493.5L2226.0 1496.1L2226.8 1498.7L2227.6 1499.8L2228.4 1500.7L2229.2 1501.7L2230.0 1502.9L2230.8 1503.3L2231.6 1503.1L2232.4 1503.3L2233.2 1503.5L2234.0 1503.3L2234.8 1503.7L2235.6 1503.8L2236.4 1503.9L2237.2 1503.8L2238.0 1503.7L2238.8 1504.2L2239.6 1503.5L2240.4 1503.2L2241.2 1502.1L2242.0 1500.9L2242.8 1500.5L2243.6 1499.7L2244.4 1498.7L2245.2 1498.5L2246.0 1498.5L2246.8 1498.3L2247.6 1498.5L2248.4 1497.9L2249.2 1496.1L2250.0 1492.8L2250.8 1489.8L2251.1 1490.2L2251.6 1491.8L2252.4 1495.7L2253.2 1498.4L2254.0 1500.4L2254.8 1499.7L2255.6 1499.0L2256.4 1497.8L2257.1 1497.1L2257.2 1497.4L2258.0 1498.6L2258.8 1500.2L2259.6 1501.9L2260.4 1503.1L2261.2 1503.4L2262.0 1503.6L2262.8 1503.8L2263.6 1503.1L2264.4 1502.9L2265.2 1504.4L2266.0 1505.3L2266.8 1505.7L2267.6 1506.2L2268.4 1506.6L2269.2 1507.0L2270.0 1506.9L2270.8 1507.0L2271.6 1507.2L2272.4 1507.5L2273.2 1507.6L2274.0 1507.3L2274.8 1506.6L2275.6 1506.2L2276.4 1506.3L2277.2 1505.8L2278.0 1505.9L2278.8 1506.2L2279.6 1506.4L2280.4 1506.5L2281.2 1506.8L2282.0 1507.7L2282.8 1507.9L2283.6 1508.3L2284.4 1507.9L2285.2 1508.5L2286.0 1508.0L2286.8 1508.4L2287.6 1509.0L2288.4 1509.1L2289.2 1509.8L2290.0 1510.6L2290.8 1511.2L2291.6 1512.3L2292.4 1512.6L2293.2 1512.5L2294.0 1512.6L2294.8 1513.4L2295.6 1513.6L2296.4 1513.8L2297.2 1514.2L2298.0 1513.9L2298.8 1514.9L2299.6 1515.4L2300.4 1515.1L2301.2 1515.3L2302.0 1516.1L2302.8 1516.1L2303.6 1516.8L2304.4 1516.9L2305.2 1516.0L2306.0 1515.4L2306.8 1515.1L2307.6 1514.0L2308.4 1512.8L2309.2 1512.7L2309.2 1513.2L2310.0 1513.8L2310.8 1515.0L2311.6 1516.3L2312.4 1517.1L2313.2 1517.2L2314.0 1517.4L2314.8 1516.9L2315.6 1517.5L2316.4 1517.9L2317.2 1518.2L2318.0 1519.3L2318.8 1519.9L2319.6 1519.7L2320.4 1519.9L2321.2 1520.2L2322.0 1519.4L2322.8 1519.0L2323.6 1519.8L2324.4 1519.6L2325.2 1519.7L2326.0 1519.8L2326.8 1520.5L2327.6 1521.2L2328.4 1520.9L2329.2 1520.8L2330.0 1520.6L2330.8 1519.8L2331.6 1519.5L2332.4 1518.7L2333.2 1518.6L2334.0 1518.4L2334.8 1516.5L2335.6 1516.0L2336.4 1516.6L2336.6 1516.4L2337.2 1516.5L2338.0 1517.1L2338.8 1518.5L2339.6 1519.3L2340.4 1519.6L2341.2 1519.5L2342.0 1519.8L2342.8 1520.1L2343.6 1520.2L2344.4 1521.4L2345.2 1522.0L2346.0 1522.0L2346.8 1522.2L2347.6 1522.9L2348.4 1522.7L2349.2 1523.4L2350.0 1523.6L2350.8 1523.4L2351.6 1522.8L2352.4 1523.4L2353.2 1524.2L2354.0 1525.2L2354.8 1525.6L2355.6 1525.2L2356.4 1525.1L2357.2 1525.7L2357.4 1525.9" stroke="#000000" stroke-width="2.5" style="stroke-linejoin:miter;stroke-miterlimit:3"/>
<path class="c" d="M391.6 1123.0L392.4 1122.8L393.2 1122.7L394.0 1122.6L394.8 1123.8L395.6 1124.5L396.4 1125.0L397.2 1126.0L398.0 1126.6L398.8 1126.7L399.6 1127.3L400.4 1128.3L401.2 1129.4L402.0 1129.9L402.8 1129.8L403.6 1130.5L404.4 1131.9L405.2 1132.9L406.0 1132.9L406.8 1133.1L407.6 1134.0L408.4 1134.2L409.2 1135.0L410.0 1135.8L410.8 1135.9L411.6 1136.4L412.4 1137.2L413.2 1137.6L414.0 1138.3L414.8 1139.0L415.6 1139.8L416.4 1140.3L417.2 1140.8L418.0 1141.3L418.8 1141.9L419.6 1142.4L420.4 1143.1L421.2 1143.7L422.0 1143.5L422.8 1144.6L423.6 1144.7L424.4 1144.7L425.2 1145.4L426.0 1146.3L426.8 1146.8L427.6 1146.7L428.4 1147.3L429.2 1147.5L430.0 1147.1L430.8 1147.2L431.6 1147.8L432.4 1147.9L433.2 1147.7L434.0 1147.1L434.8 1146.2L435.6 1145.6L436.4 1144.7L437.2 1142.7L438.0 1140.6L438.8 1136.9L439.6 1129.3L440.4 1114.4L441.2 1081.4L442.0 1022.1L442.8 934.9L443.6 838.2L444.4 785.0L444.5 784.8L445.2 819.0L446.0 910.8L446.8 1004.9L447.6 1072.9L448.4 1112.3L449.2 1132.1L450.0 1141.8L450.8 1146.7L451.6 1149.5L452.4 1151.3L453.2 1152.7L454.0 1154.0L454.8 1155.8L455.6 1156.6L456.4 1158.3L457.2 1159.5L458.0 1159.2L458.8 1159.7L459.6 1160.5L460.4 1161.4L461.2 1161.5L462.0 1161.9L462.8 1162.4L463.6 1163.0L464.4 1163.7L465.2 1163.4L466.0 1163.9L466.8 1164.5L467.6 1164.7L468.4 1164.5L469.2 1165.4L470.0 1165.7L470.8 1165.9L471.6 1165.6L472.4 1165.1L473.2 1165.7L474.0 1166.5L474.8 1166.5L475.6 1166.7L476.4 1167.6L477.2 1167.8L478.0 1167.3L478.8 1167.3L479.6 1166.0L480.4 1165.8L481.2 1166.6L482.0 1166.3L482.8 1166.0L483.6 1165.4L484.4 1164.3L485.2 1163.1L486.0 1160.9L486.8 1157.3L487.6 1151.9L488.4 1140.3L489.2 1114.9L490.0 1065.7L490.8 990.2L491.6 900.0L492.4 835.9L492.7 830.6L493.2 847.4L494.0 923.8L494.8 1013.6L495.6 1083.2L496.4 1125.0L497.2 1147.0L498.0 1158.0L498.8 1163.1L499.6 1165.8L500.4 1167.7L501.2 1169.1L502.0 1170.0L502.8 1171.6L503.6 1172.3L504.4 1172.5L505.2 1172.4L506.0 1173.0L506.8 1173.8L507.6 1174.0L508.4 1174.0L509.2 1174.5L510.0 1174.7L510.8 1174.3L511.6 1174.3L512.4 1174.2L513.2 1174.4L514.0 1175.2L514.8 1175.3L515.6 1175.1L516.4 1174.5L517.2 1174.5L518.0 1174.8L518.8 1174.8L519.6 1174.9L520.4 1174.6L521.2 1175.0L522.0 1175.4L522.8 1175.2L523.6 1174.8L524.4 1174.0L525.2 1173.9L526.0 1173.6L526.8 1173.7L527.6 1173.3L528.4 1173.0L529.2 1173.0L530.0 1173.1L530.8 1172.7L531.6 1172.0L532.4 1171.3L533.2 1171.0L534.0 1170.5L534.8 1171.0L535.6 1170.5L536.4 1170.1L537.2 1169.4L538.0 1168.4L538.8 1168.1L539.6 1168.2L540.4 1168.1L541.2 1166.7L542.0 1165.9L542.8 1165.3L543.6 1164.1L544.4 1163.5L545.2 1163.5L546.0 1163.2L546.8 1162.9L547.6 1162.8L548.4 1161.9L549.2 1161.3L550.0 1161.1L550.8 1160.1L551.6 1158.2L552.4 1157.7L553.2 1157.3L554.0 1155.9L554.8 1154.9L555.6 1153.9L556.4 1152.6L557.2 1151.2L558.0 1149.4L558.8 1146.8L559.6 1144.0L559.9 1142.7L560.4 1142.2L561.2 1144.7L562.0 1146.8L562.8 1148.2L563.6 1148.4L564.4 1148.0L565.2 1148.1L566.0 1147.2L566.8 1147.0L567.6 1146.9L568.4 1146.3L569.2 1145.4L570.0 1143.4L570.8 1143.0L571.6 1142.3L572.4 1141.3L573.2 1140.5L574.0 1139.4L574.8 1138.9L575.6 1138.0L576.4 1136.4L577.2 1134.8L578.0 1133.4L578.8 1131.8L579.6 1130.5L580.4 1128.6L581.2 1127.0L582.0 1125.0L582.8 1122.4L583.6 1119.7L584.4 1116.7L585.2 1113.6L586.0 1110.0L586.8 1105.8L587.6 1099.8L588.4 1092.0L589.2 1079.4L590.0 1056.0L590.8 1011.3L591.6 930.2L592.4 803.0L593.2 646.9L594.0 531.5L594.3 519.9L594.8 549.6L595.6 682.7L596.4 832.5L597.2 946.4L598.0 1015.3L598.8 1050.4L599.6 1067.7L600.4 1076.6L601.2 1081.8L602.0 1084.6L602.8 1086.7L603.6 1088.2L604.4 1088.8L605.2 1089.0L606.0 1088.7L606.8 1088.6L607.6 1089.4L608.4 1088.9L609.2 1087.6L610.0 1086.1L610.8 1083.9L611.6 1080.8L612.4 1078.4L612.8 1077.6L613.2 1077.7L614.0 1079.6L614.8 1081.1L615.6 1082.1L616.4 1082.3L617.2 1081.9L618.0 1081.5L618.8 1081.4L619.6 1080.3L620.4 1079.6L621.2 1078.1L622.0 1077.4L622.8 1076.2L623.6 1074.2L624.4 1072.5L625.2 1072.2L626.0 1070.2L626.8 1068.6L627.6 1067.5L628.4 1066.2L629.2 1064.7L630.0 1062.8L630.8 1061.1L631.6 1060.1L632.4 1058.3L633.2 1057.1L634.0 1056.0L634.8 1054.6L635.6 1052.7L636.4 1051.0L637.2 1049.4L638.0 1047.6L638.8 1046.5L639.6 1045.3L640.4 1044.1L641.2 1043.4L642.0 1042.4L642.8 1041.7L643.6 1040.0L644.4 1037.5L645.2 1036.1L646.0 1034.3L646.8 1033.0L647.2 1032.6L647.6 1032.4L648.4 1032.0L649.2 1031.7L650.0 1030.6L650.8 1029.1L651.6 1028.6L652.4 1028.0L653.2 1027.3L654.0 1026.5L654.8 1026.3L655.6 1025.1L656.4 1024.5L657.2 1023.5L658.0 1022.8L658.8 1021.3L659.6 1020.5L660.4 1019.3L661.2 1018.8L662.0 1017.8L662.8 1015.6L663.6 1014.3L664.4 1013.3L665.2 1011.6L666.0 1009.8L666.8 1008.7L667.6 1006.8L668.4 1004.6L669.2 1001.5L670.0 997.4L670.8 993.0L671.6 985.5L672.4 969.0L673.2 938.2L674.0 884.7L674.8 808.5L675.6 728.6L676.4 690.2L676.4 690.9L677.2 725.7L678.0 802.4L678.8 876.5L679.6 927.9L680.4 956.3L681.2 970.0L682.0 976.1L682.8 977.5L683.6 978.2L684.4 979.7L685.2 980.2L686.0 980.4L686.8 980.3L687.6 979.3L688.4 979.1L689.2 979.1L690.0 979.1L690.8 978.5L691.6 977.3L692.4 976.5L693.2 976.1L694.0 975.2L694.8 974.8L695.6 973.3L696.4 971.6L697.2 970.0L698.0 968.3L698.8 964.2L699.6 960.0L700.4 957.5L701.2 955.2L702.0 953.3L702.8 951.5L703.6 949.0L704.4 947.2L705.2 945.5L706.0 944.1L706.8 942.3L707.6 940.5L708.4 939.1L709.2 938.1L710.0 936.8L710.8 935.8L711.6 934.0L712.4 931.5L713.2 927.9L714.0 923.8L714.8 919.3L715.6 914.1L716.4 906.0L717.2 893.4L718.0 870.8L718.8 830.5L719.6 764.6L720.4 679.8L721.2 600.5L721.8 575.1L722.0 576.3L722.8 626.8L723.6 708.2L724.4 778.8L725.2 825.0L726.0 849.4L726.8 859.7L727.6 862.8L728.4 863.3L729.2 859.5L730.0 848.5L730.8 828.3L731.6 801.7L732.4 779.8L732.9 776.5L733.2 780.0L734.0 804.6L734.8 837.7L735.6 864.6L736.4 883.1L737.2 894.2L738.0 899.6L738.8 902.2L739.6 904.0L740.4 905.0L741.2 905.1L742.0 904.3L742.8 903.5L743.6 901.9L744.4 899.2L745.2 895.5L746.0 890.5L746.8 885.7L747.6 881.8L747.7 882.6L748.4 881.8L749.2 881.2L750.0 880.7L750.8 878.6L751.6 875.7L752.4 871.4L753.2 866.9L754.0 861.5L754.8 855.8L755.6 851.6L756.4 849.4L757.2 849.4L757.2 848.7L758.0 849.6L758.8 852.5L759.6 856.7L760.4 861.7L761.2 867.2L762.0 873.6L762.8 880.4L763.6 885.6L764.4 890.0L765.2 893.9L766.0 897.8L766.8 900.7L767.6 902.6L768.4 904.4L769.2 905.1L770.0 905.8L770.8 906.6L771.6 906.8L772.4 907.0L773.2 906.6L774.0 906.4L774.8 906.6L775.6 906.6L776.4 906.6L777.2 906.4L778.0 906.1L778.8 906.1L779.6 905.8L780.4 905.1L781.2 904.8L782.0 903.9L782.8 901.8L783.6 896.1L784.4 885.0L785.2 864.6L786.0 837.5L786.8 811.1L787.5 801.2L787.6 801.4L788.4 817.4L789.2 847.5L790.0 875.1L790.8 893.8L791.6 904.4L792.4 910.4L793.2 913.2L794.0 916.1L794.8 918.0L795.6 919.4L796.4 920.0L797.2 920.6L798.0 921.5L798.8 922.3L799.6 923.1L800.4 923.2L801.2 923.3L802.0 923.2L802.8 922.3L803.6 919.8L804.4 917.4L805.2 912.8L806.0 901.1L806.8 874.6L807.6 822.3L808.4 735.9L809.2 623.9L810.0 527.9L810.5 507.2L810.8 515.5L811.6 599.5L812.4 715.9L813.2 812.8L814.0 876.4L814.8 910.8L815.6 927.4L816.4 936.6L817.2 941.8L818.0 946.1L818.8 949.0L819.6 951.5L820.4 954.7L821.2 957.6L822.0 959.2L822.8 961.2L823.6 962.8L824.4 964.8L825.2 967.2L826.0 969.1L826.8 971.2L827.6 973.2L828.4 974.4L829.2 976.4L830.0 979.1L830.8 981.9L831.6 983.3L832.4 985.2L833.2 988.0L834.0 990.7L834.8 992.1L835.6 994.1L836.4 996.6L837.2 999.2L838.0 1001.1L838.8 1001.6L839.6 1002.7L840.4 1004.8L841.2 1006.0L842.0 1006.2L842.8 1007.4L843.6 1008.1L844.4 1006.9L845.2 1004.5L846.0 1000.0L846.8 995.3L847.3 994.5L847.6 995.5L848.4 1002.6L849.2 1010.4L850.0 1017.1L850.8 1022.1L851.6 1025.1L852.4 1027.7L853.2 1029.9L854.0 1032.1L854.8 1034.9L855.6 1036.4L856.4 1038.0L857.2 1038.8L858.0 1039.5L858.8 1040.2L859.6 1041.0L860.4 1041.5L861.2 1041.9L862.0 1041.2L862.8 1040.6L863.6 1038.9L864.4 1035.2L865.2 1029.5L866.0 1020.7L866.8 1007.9L867.6 993.3L868.4 984.7L868.6 984.4L869.2 989.7L870.0 1004.2L870.8 1019.3L871.6 1031.9L872.4 1040.9L873.2 1046.3L874.0 1049.2L874.8 1050.4L875.6 1048.9L876.4 1047.0L876.6 1047.2L877.2 1048.9L878.0 1052.9L878.8 1055.0L879.6 1055.7L880.4 1054.9L881.2 1052.0L882.0 1045.9L882.8 1031.4L883.6 999.0L884.4 931.6L885.2 816.9L886.0 661.3L886.8 517.2L887.4 476.1L887.6 482.6L888.4 588.3L889.2 752.2L890.0 895.3L890.8 990.4L891.6 1042.0L892.4 1067.5L893.2 1079.6L894.0 1086.0L894.8 1088.8L895.6 1090.0L896.4 1087.2L897.2 1077.3L898.0 1053.2L898.8 1008.1L899.6 939.2L900.4 858.8L901.2 807.9L901.4 805.7L902.0 828.0L902.8 902.3L903.6 982.3L904.4 1042.8L905.2 1079.4L906.0 1097.6L906.8 1106.8L907.6 1111.8L908.4 1115.0L909.2 1116.6L910.0 1117.4L910.8 1119.1L911.6 1120.7L912.4 1122.2L913.2 1122.8L914.0 1123.0L914.8 1123.3L915.6 1123.1L916.4 1122.4L917.2 1120.8L918.0 1117.8L918.8 1112.7L919.6 1105.4L920.4 1096.4L921.2 1090.3L921.5 1089.8L922.0 1092.1L922.8 1100.9L923.6 1111.2L924.4 1120.1L925.2 1126.9L926.0 1131.8L926.8 1135.0L927.6 1138.5L928.4 1140.3L929.2 1142.6L930.0 1144.7L930.8 1146.7L931.6 1148.3L932.4 1150.0L933.2 1152.0L934.0 1154.5L934.8 1156.8L935.6 1157.9L936.4 1158.7L937.2 1160.9L938.0 1163.4L938.8 1165.4L939.6 1165.3L940.4 1165.8L941.2 1166.9L942.0 1167.2L942.8 1167.3L943.6 1168.3L944.4 1168.5L945.2 1169.5L946.0 1170.7L946.8 1170.9L947.6 1172.1L948.4 1173.6L949.2 1174.0L950.0 1174.4L950.8 1175.7L951.6 1176.9L952.4 1177.2L953.2 1178.3L954.0 1179.2L954.8 1180.6L955.6 1182.3L956.4 1183.0L957.2 1183.6L958.0 1184.3L958.8 1184.3L959.6 1184.5L960.4 1185.4L961.2 1185.1L962.0 1184.1L962.8 1183.6L963.6 1182.4L964.4 1179.9L965.2 1176.2L966.0 1170.5L966.8 1162.7L967.6 1150.9L968.4 1134.9L969.2 1112.8L970.0 1090.0L970.8 1078.3L970.8 1078.3L971.6 1087.6L972.4 1111.0L973.2 1134.9L974.0 1153.2L974.8 1165.9L975.6 1174.6L976.4 1181.8L977.2 1186.4L978.0 1189.8L978.8 1192.3L979.6 1193.9L980.4 1196.2L981.2 1198.4L982.0 1199.0L982.8 1200.3L983.6 1201.7L984.4 1203.5L985.2 1204.1L986.0 1204.4L986.8 1205.1L987.6 1205.3L988.4 1205.3L989.2 1205.4L990.0 1206.0L990.8 1206.0L991.6 1205.8L992.4 1204.7L993.2 1203.6L994.0 1201.6L994.8 1197.1L995.6 1191.5L996.4 1184.3L997.2 1172.3L998.0 1152.9L998.8 1127.6L999.6 1099.4L1000.4 1078.6L1000.7 1076.3L1001.2 1080.1L1002.0 1103.4L1002.8 1131.9L1003.6 1155.2L1004.4 1172.7L1005.2 1185.4L1006.0 1193.3L1006.8 1198.2L1007.6 1202.0L1008.4 1203.9L1009.2 1204.2L1010.0 1203.7L1010.8 1202.0L1011.6 1198.5L1012.4 1192.0L1013.2 1180.0L1014.0 1160.4L1014.8 1131.4L1015.6 1089.6L1016.4 1036.3L1017.2 978.7L1018.0 932.5L1018.6 921.2L1018.8 922.7L1019.6 954.8L1020.4 1012.1L1021.2 1072.3L1022.0 1122.1L1022.8 1158.9L1023.6 1185.2L1024.4 1202.3L1025.2 1212.4L1026.0 1219.8L1026.8 1225.4L1027.6 1229.1L1028.4 1232.1L1029.2 1235.2L1030.0 1237.1L1030.8 1239.1L1031.6 1240.9L1032.4 1241.6L1033.2 1242.6L1034.0 1242.1L1034.8 1241.4L1035.6 1240.3L1036.4 1237.9L1037.2 1234.0L1037.7 1232.3L1038.0 1231.9L1038.8 1235.0L1039.6 1237.6L1040.4 1238.3L1041.2 1236.2L1042.0 1231.1L1042.8 1224.9L1043.6 1215.4L1044.4 1202.7L1045.2 1189.8L1046.0 1183.3L1046.0 1183.3L1046.8 1190.4L1047.6 1204.3L1048.4 1217.9L1049.2 1228.9L1050.0 1236.6L1050.8 1241.9L1051.6 1246.2L1052.4 1248.4L1053.2 1249.7L1054.0 1251.3L1054.8 1252.9L1055.6 1253.0L1056.4 1252.5L1057.2 1251.6L1058.0 1250.2L1058.8 1247.3L1059.6 1242.6L1060.4 1237.5L1061.2 1231.3L1062.0 1226.2L1062.5 1224.3L1062.8 1223.8L1063.6 1227.2L1064.4 1231.2L1065.2 1234.4L1066.0 1237.8L1066.8 1239.6L1067.6 1240.9L1068.4 1241.7L1069.2 1242.7L1070.0 1244.0L1070.8 1245.7L1071.6 1248.5L1072.4 1251.8L1073.2 1254.8L1074.0 1257.8L1074.8 1260.1L1075.6 1262.2L1076.4 1265.2L1077.2 1266.8L1078.0 1267.8L1078.8 1268.5L1079.6 1268.3L1080.4 1268.2L1081.2 1267.6L1082.0 1267.2L1082.8 1265.1L1083.6 1262.2L1084.4 1258.3L1085.2 1252.3L1086.0 1244.3L1086.8 1232.2L1087.6 1214.9L1088.4 1193.1L1089.2 1174.0L1089.9 1167.7L1090.0 1167.5L1090.8 1179.7L1091.6 1201.5L1092.4 1222.0L1093.2 1238.3L1094.0 1250.1L1094.8 1257.4L1095.6 1261.8L1096.4 1265.3L1097.2 1268.7L1098.0 1269.5L1098.8 1269.0L1099.6 1269.0L1100.4 1267.8L1101.2 1264.4L1102.0 1259.4L1102.8 1253.8L1103.6 1245.3L1104.4 1236.7L1105.2 1233.2L1105.2 1233.0L1106.0 1236.7L1106.8 1244.7L1107.6 1251.9L1108.4 1258.8L1109.2 1263.3L1110.0 1266.3L1110.8 1268.5L1111.6 1270.2L1112.4 1271.3L1113.2 1272.2L1114.0 1273.3L1114.8 1275.2L1115.6 1276.9L1116.4 1278.8L1117.2 1281.5L1118.0 1283.9L1118.8 1285.9L1119.6 1286.9L1120.4 1289.1L1121.2 1290.7L1122.0 1291.6L1122.8 1292.3L1123.6 1292.1L1124.4 1292.5L1125.2 1292.4L1126.0 1292.0L1126.8 1291.0L1127.6 1289.9L1128.4 1288.0L1129.2 1284.9L1130.0 1282.3L1130.6 1281.7L1130.8 1282.4L1131.6 1284.4L1132.4 1288.1L1133.2 1291.7L1134.0 1294.1L1134.8 1296.2L1135.6 1297.6L1136.4 1298.9L1137.2 1299.3L1138.0 1299.4L1138.8 1299.3L1139.6 1299.8L1140.4 1300.1L1141.2 1299.6L1142.0 1298.6L1142.8 1297.9L1143.6 1296.9L1144.4 1294.8L1145.2 1291.5L1146.0 1287.5L1146.8 1280.1L1147.6 1270.9L1148.4 1262.0L1149.2 1258.6L1149.2 1259.1L1150.0 1263.0L1150.8 1272.6L1151.6 1282.6L1152.4 1291.0L1153.2 1297.4L1154.0 1300.9L1154.8 1303.2L1155.6 1304.8L1156.4 1306.6L1157.2 1307.9L1158.0 1308.4L1158.8 1309.0L1159.6 1309.9L1160.4 1310.2L1161.2 1309.9L1162.0 1309.6L1162.8 1309.7L1163.6 1310.4L1164.4 1309.8L1165.2 1310.0L1166.0 1309.9L1166.8 1309.6L1167.6 1309.6L1168.4 1308.7L1169.2 1307.8L1170.0 1306.0L1170.6 1305.9L1170.8 1306.1L1171.6 1306.8L1172.4 1309.1L1173.2 1309.8L1174.0 1309.6L1174.8 1311.2L1175.6 1311.9L1176.4 1311.3L1177.2 1311.2L1178.0 1311.2L1178.8 1310.6L1179.6 1311.0L1180.4 1311.1L1181.2 1310.5L1182.0 1310.5L1182.8 1309.8L1183.6 1307.0L1184.4 1305.1L1185.2 1303.2L1186.0 1299.9L1186.8 1293.9L1187.6 1285.0L1188.4 1274.2L1189.2 1263.5L1190.0 1258.5L1190.1 1257.7L1190.8 1261.9L1191.6 1273.3L1192.4 1284.6L1193.2 1294.3L1194.0 1302.3L1194.8 1307.3L1195.6 1310.5L1196.4 1313.4L1197.2 1315.8L1198.0 1316.9L1198.8 1318.2L1199.6 1319.5L1200.4 1319.9L1201.2 1319.6L1202.0 1320.4L1202.8 1321.4L1203.6 1322.3L1204.4 1323.3L1205.2 1323.9L1206.0 1323.7L1206.8 1323.9L1207.6 1324.5L1208.4 1324.8L1209.2 1325.6L1210.0 1325.5L1210.8 1325.3L1211.6 1325.5L1212.4 1325.1L1213.2 1325.1L1214.0 1325.3L1214.8 1325.6L1215.6 1325.8L1216.4 1325.3L1217.2 1324.5L1218.0 1323.3L1218.8 1322.1L1219.6 1320.4L1220.4 1318.1L1221.2 1314.1L1222.0 1308.9L1222.8 1301.7L1223.6 1292.0L1224.4 1280.5L1225.2 1272.3L1225.6 1270.9L1226.0 1272.4L1226.8 1281.7L1227.6 1292.9L1228.4 1302.2L1229.2 1310.0L1230.0 1316.1L1230.8 1319.5L1231.6 1322.1L1232.4 1324.5L1233.2 1325.4L1234.0 1326.3L1234.8 1327.2L1235.6 1327.4L1236.4 1327.8L1237.2 1328.2L1238.0 1328.3L1238.8 1328.0L1239.6 1328.1L1240.4 1328.0L1241.2 1327.7L1242.0 1326.1L1242.8 1324.0L1243.6 1321.4L1244.4 1317.9L1245.2 1314.1L1246.0 1310.6L1246.6 1309.7L1246.8 1309.4L1247.6 1311.6L1248.4 1316.1L1249.2 1319.9L1250.0 1323.2L1250.8 1325.8L1251.6 1326.9L1252.4 1326.9L1253.2 1327.1L1254.0 1327.1L1254.8 1325.9L1255.6 1323.7L1256.4 1320.2L1257.2 1314.9L1258.0 1309.2L1258.8 1302.7L1259.6 1298.5L1259.9 1298.4L1260.4 1299.8L1261.2 1305.3L1262.0 1311.6L1262.8 1316.8L1263.6 1320.8L1264.4 1324.1L1265.2 1325.5L1266.0 1326.1L1266.8 1327.4L1267.6 1328.4L1268.4 1328.5L1269.2 1329.4L1270.0 1330.0L1270.8 1329.7L1271.6 1329.6L1272.4 1329.2L1273.2 1328.4L1274.0 1327.9L1274.8 1327.1L1275.6 1326.2L1276.4 1325.1L1277.2 1323.9L1278.0 1321.6L1278.8 1318.2L1279.6 1313.1L1280.4 1307.4L1281.2 1301.3L1282.0 1296.5L1282.3 1295.5L1282.8 1296.4L1283.6 1301.2L1284.4 1307.4L1285.2 1312.9L1286.0 1317.2L1286.8 1319.5L1287.6 1321.2L1288.4 1323.1L1289.2 1324.0L1290.0 1324.1L1290.8 1325.1L1291.6 1325.0L1292.4 1324.2L1293.2 1322.7L1294.0 1321.3L1294.8 1319.8L1295.6 1318.5L1295.6 1318.0L1296.4 1318.0L1297.2 1319.4L1298.0 1320.2L1298.8 1318.9L1299.6 1316.5L1300.4 1313.6L1301.2 1309.1L1302.0 1303.2L1302.8 1299.3L1303.3 1298.9L1303.6 1299.4L1304.4 1304.1L1305.2 1311.1L1306.0 1317.1L1306.8 1321.5L1307.6 1325.8L1308.4 1328.5L1309.2 1330.1L1310.0 1331.1L1310.8 1331.6L1311.6 1331.6L1312.4 1332.7L1313.2 1333.2L1314.0 1332.8L1314.8 1331.5L1315.6 1329.9L1316.4 1329.0L1317.2 1328.6L1317.4 1329.0L1318.0 1328.5L1318.8 1329.7L1319.6 1330.8L1320.4 1331.2L1321.2 1330.6L1322.0 1329.7L1322.8 1330.2L1323.6 1329.9L1324.4 1328.8L1325.2 1326.9L1326.0 1324.9L1326.8 1322.5L1327.6 1317.9L1328.4 1312.1L1329.2 1306.2L1330.0 1302.7L1330.3 1301.8L1330.8 1303.1L1331.6 1308.7L1332.4 1315.0L1333.2 1320.8L1334.0 1325.0L1334.8 1328.1L1335.6 1329.8L1336.4 1331.2L1337.2 1332.1L1338.0 1332.6L1338.8 1333.8L1339.6 1333.9L1340.4 1334.7L1341.2 1335.1L1342.0 1334.8L1342.8 1334.1L1343.6 1333.2L1344.4 1332.3L1345.2 1332.1L1346.0 1331.1L1346.8 1329.6L1347.6 1326.4L1348.4 1322.4L1349.2 1316.9L1350.0 1310.8L1350.8 1305.1L1351.5 1302.8L1351.6 1302.4L1352.4 1305.9L1353.2 1312.6L1354.0 1319.1L1354.8 1323.6L1355.6 1326.8L1356.4 1330.0L1357.2 1331.7L1358.0 1332.7L1358.8 1332.6L1359.6 1332.5L1360.4 1333.7L1361.2 1334.8L1362.0 1335.6L1362.8 1335.7L1363.6 1336.2L1364.4 1336.9L1365.2 1337.9L1366.0 1338.6L1366.8 1339.8L1367.6 1340.5L1368.4 1340.8L1369.2 1340.9L1370.0 1341.5L1370.8 1342.0L1371.6 1342.0L1372.4 1342.7L1373.2 1343.0L1374.0 1343.9L1374.8 1344.8L1375.6 1344.7L1376.4 1344.2L1377.2 1344.9L1378.0 1344.8L1378.8 1344.7L1379.6 1344.7L1380.4 1344.5L1381.2 1344.7L1382.0 1344.5L1382.8 1344.5L1383.6 1343.3L1384.4 1341.2L1385.2 1339.8L1386.0 1337.7L1386.8 1334.9L1387.6 1331.5L1388.4 1328.4L1389.2 1326.5L1389.2 1326.3L1390.0 1327.6L1390.8 1330.3L1391.6 1332.7L1392.4 1335.0L1393.2 1336.2L1394.0 1336.6L1394.8 1337.2L1395.6 1337.9L1396.4 1338.8L1397.2 1339.5L1398.0 1340.7L1398.8 1341.5L1399.6 1341.7L1400.4 1342.5L1401.2 1343.8L1402.0 1345.0L1402.8 1345.9L1403.6 1346.5L1404.4 1346.7L1405.2 1346.6L1406.0 1346.8L1406.8 1346.8L1407.6 1347.2L1408.4 1347.3L1409.2 1346.8L1410.0 1347.1L1410.8 1348.0L1411.6 1347.3L1412.4 1347.1L1413.2 1347.1L1414.0 1347.4L1414.8 1348.2L1415.6 1348.0L1416.4 1347.9L1417.2 1347.6L1418.0 1347.3L1418.8 1348.4L1419.6 1348.4L1420.4 1348.7L1421.2 1349.3L1422.0 1349.0L1422.8 1348.9L1423.6 1349.1L1424.4 1349.1L1425.2 1348.0L1426.0 1347.2L1426.8 1346.2L1427.6 1345.9L1428.4 1344.7L1429.2 1342.6L1430.0 1340.7L1430.8 1338.1L1431.6 1336.5L1431.9 1336.0L1432.4 1336.8L1433.2 1338.5L1434.0 1341.4L1434.8 1343.9L1435.6 1345.7L1436.4 1347.7L1437.2 1348.4L1438.0 1348.2L1438.8 1348.4L1439.6 1348.1L1440.4 1347.7L1441.2 1346.9L1442.0 1345.4L1442.8 1343.8L1443.6 1341.2L1444.4 1337.2L1445.2 1332.3L1446.0 1326.6L1446.8 1320.7L1447.6 1318.2L1447.7 1317.9L1448.4 1318.7L1449.2 1323.8L1450.0 1329.4L1450.8 1334.9L1451.6 1339.1L1452.4 1342.0L1453.2 1343.9L1454.0 1346.2L1454.8 1347.5L1455.6 1348.0L1456.4 1348.9L1457.2 1349.9L1458.0 1350.3L1458.8 1350.0L1459.6 1350.6L1460.4 1350.1L1461.2 1350.5L1462.0 1351.4L1462.8 1352.6L1463.6 1353.0L1464.4 1353.6L1465.2 1354.4L1466.0 1354.5L1466.8 1354.9L1467.6 1355.8L1468.4 1355.8L1469.2 1355.5L1470.0 1355.8L1470.8 1357.1L1471.6 1358.3L1472.4 1358.3L1473.2 1358.3L1474.0 1358.4L1474.8 1357.8L1475.6 1358.1L1476.4 1357.9L1477.2 1358.0L1478.0 1357.2L1478.8 1357.2L1479.6 1356.7L1480.4 1356.3L1481.2 1356.1L1482.0 1355.7L1482.8 1355.6L1483.6 1354.3L1484.4 1353.1L1485.2 1353.1L1486.0 1352.0L1486.8 1349.7L1487.6 1347.1L1488.4 1343.4L1489.2 1339.5L1490.0 1337.6L1490.0 1337.9L1490.8 1339.6L1491.6 1342.6L1492.4 1345.1L1493.2 1347.8L1494.0 1350.1L1494.8 1350.4L1495.6 1349.9L1496.4 1348.8L1497.2 1346.2L1498.0 1339.3L1498.8 1327.5L1499.6 1311.6L1500.4 1296.8L1500.9 1293.5L1501.2 1294.6L1502.0 1307.9L1502.8 1325.0L1503.6 1338.6L1504.4 1346.8L1505.2 1351.9L1506.0 1354.6L1506.8 1356.1L1507.6 1357.4L1508.4 1358.5L1509.2 1358.5L1510.0 1358.1L1510.8 1358.1L1511.6 1357.9L1512.4 1356.9L1513.2 1356.8L1514.0 1356.9L1514.8 1356.1L1515.6 1354.3L1516.4 1351.8L1517.2 1348.4L1518.0 1345.6L1518.8 1343.3L1519.6 1342.6L1519.6 1342.3L1520.4 1343.2L1521.2 1347.0L1522.0 1351.1L1522.8 1354.0L1523.6 1356.7L1524.4 1358.9L1525.2 1360.3L1526.0 1361.4L1526.8 1362.5L1527.6 1363.1L1528.4 1363.0L1529.2 1363.0L1530.0 1363.3L1530.8 1363.7L1531.6 1363.7L1532.4 1363.2L1533.2 1363.3L1534.0 1363.7L1534.8 1364.2L1535.6 1363.8L1536.4 1363.7L1537.2 1364.0L1538.0 1363.9L1538.8 1363.9L1539.6 1364.1L1540.4 1363.8L1541.2 1363.3L1542.0 1362.8L1542.8 1361.8L1543.6 1360.7L1544.4 1358.9L1545.2 1357.9L1546.0 1356.4L1546.8 1353.2L1547.6 1349.9L1548.4 1347.3L1548.9 1346.7L1549.2 1347.3L1550.0 1349.6L1550.8 1353.0L1551.6 1355.7L1552.4 1358.3L1553.2 1360.1L1554.0 1361.6L1554.8 1362.6L1555.6 1362.5L1556.4 1362.8L1557.2 1363.7L1558.0 1362.8L1558.8 1362.0L1559.6 1361.5L1560.4 1360.5L1561.2 1359.4L1562.0 1357.4L1562.8 1355.0L1563.6 1351.8L1564.4 1347.8L1565.2 1342.1L1566.0 1336.2L1566.8 1331.6L1567.2 1330.3L1567.6 1331.2L1568.4 1335.3L1569.2 1341.6L1570.0 1348.1L1570.8 1352.8L1571.6 1355.8L1572.4 1358.1L1573.2 1359.7L1574.0 1360.8L1574.8 1361.4L1575.6 1361.7L1576.4 1362.5L1577.2 1362.6L1578.0 1362.9L1578.8 1363.8L1579.6 1364.7L1580.4 1365.4L1581.2 1365.8L1582.0 1366.0L1582.8 1366.4L1583.6 1367.2L1584.4 1367.8L1585.2 1368.1L1586.0 1368.4L1586.8 1369.3L1587.6 1369.2L1588.4 1368.8L1589.2 1368.2L1590.0 1367.8L1590.8 1367.5L1591.6 1366.3L1592.4 1365.9L1593.2 1365.7L1594.0 1365.3L1594.8 1364.7L1595.6 1364.2L1596.4 1363.0L1597.2 1362.8L1598.0 1361.8L1598.8 1360.4L1599.6 1358.5L1600.4 1356.4L1601.2 1353.0L1602.0 1348.7L1602.8 1342.6L1603.6 1335.3L1604.4 1325.7L1605.2 1315.8L1606.0 1311.0L1606.2 1311.0L1606.8 1313.6L1607.6 1321.5L1608.4 1331.9L1609.2 1341.1L1610.0 1347.7L1610.8 1353.6L1611.6 1357.1L1612.4 1359.2L1613.2 1360.4L1614.0 1361.7L1614.8 1363.1L1615.6 1363.1L1616.4 1362.5L1617.2 1361.6L1618.0 1358.6L1618.8 1353.4L1619.6 1347.1L1620.3 1344.7L1620.4 1345.7L1621.2 1349.8L1622.0 1355.9L1622.8 1361.0L1623.6 1363.4L1624.4 1365.5L1625.2 1367.1L1626.0 1367.1L1626.8 1366.7L1627.6 1366.5L1628.4 1366.4L1629.2 1364.7L1630.0 1363.3L1630.8 1361.1L1631.6 1359.3L1631.6 1359.2L1632.4 1360.5L1633.2 1363.3L1634.0 1365.0L1634.8 1365.9L1635.6 1367.0L1636.4 1367.5L1637.2 1367.5L1638.0 1367.6L1638.8 1367.8L1639.6 1368.7L1640.4 1369.6L1641.2 1369.7L1642.0 1370.4L1642.8 1370.6L1643.6 1370.5L1644.4 1370.9L1645.2 1370.3L1646.0 1369.2L1646.8 1368.5L1647.6 1366.9L1648.4 1364.1L1649.2 1362.0L1650.0 1359.9L1650.8 1359.1L1650.8 1359.4L1651.6 1359.3L1652.4 1360.8L1653.2 1362.9L1654.0 1365.3L1654.8 1366.7L1655.6 1367.0L1656.4 1369.0L1657.2 1369.6L1658.0 1368.5L1658.8 1368.9L1659.6 1370.0L1660.4 1370.3L1661.2 1370.6L1662.0 1370.5L1662.8 1370.7L1663.6 1370.2L1664.4 1370.8L1665.2 1371.1L1666.0 1371.1L1666.8 1371.2L1667.6 1372.3L1668.4 1373.4L1669.2 1373.5L1670.0 1374.0L1670.8 1374.7L1671.6 1375.2L1672.4 1376.2L1673.2 1376.9L1674.0 1376.9L1674.8 1377.0L1675.6 1377.9L1676.4 1377.7L1677.2 1377.2L1678.0 1376.7L1678.8 1375.9L1679.6 1375.1L1680.4 1375.2L1681.2 1375.2L1682.0 1375.3L1682.8 1375.1L1683.6 1374.4L1684.4 1374.5L1685.2 1373.9L1686.0 1373.2L1686.8 1372.1L1687.6 1371.2L1688.4 1369.8L1689.2 1368.6L1690.0 1367.0L1690.7 1367.0L1690.8 1367.2L1691.6 1368.5L1692.4 1370.5L1693.2 1372.4L1694.0 1374.1L1694.8 1376.0L1695.6 1377.1L1696.4 1377.6L1697.2 1378.6L1698.0 1378.9L1698.8 1379.4L1699.6 1379.8L1700.4 1380.2L1701.2 1380.4L1702.0 1380.1L1702.8 1380.6L1703.6 1380.3L1704.4 1380.9L1705.2 1380.6L1706.0 1379.6L1706.8 1379.5L1707.6 1378.7L1708.4 1377.5L1709.2 1376.7L1710.0 1374.6L1710.8 1371.4L1711.6 1367.4L1712.4 1361.4L1713.2 1354.7L1714.0 1348.8L1714.8 1345.3L1714.9 1345.5L1715.6 1347.4L1716.4 1352.6L1717.2 1359.1L1718.0 1365.1L1718.8 1369.6L1719.6 1372.3L1720.4 1373.9L1721.2 1376.4L1722.0 1378.1L1722.8 1379.6L1723.6 1380.1L1724.4 1380.7L1725.2 1381.4L1726.0 1381.4L1726.8 1381.2L1727.6 1381.9L1728.4 1381.3L1729.2 1380.1L1730.0 1379.1L1730.4 1379.8L1730.8 1379.7L1731.6 1380.2L1732.4 1380.7L1733.2 1381.7L1734.0 1381.8L1734.8 1381.3L1735.6 1381.4L1736.4 1380.5L1737.2 1380.3L1738.0 1379.9L1738.8 1378.9L1739.6 1377.5L1740.4 1376.5L1741.2 1375.8L1742.0 1374.1L1742.8 1371.2L1743.6 1367.0L1744.4 1361.2L1745.2 1353.7L1746.0 1345.2L1746.7 1342.1L1746.8 1342.0L1747.6 1348.7L1748.4 1359.1L1749.2 1367.6L1750.0 1374.2L1750.8 1378.3L1751.6 1380.6L1752.4 1382.3L1753.2 1383.1L1754.0 1383.1L1754.8 1383.3L1755.6 1382.5L1756.4 1382.9L1757.2 1381.8L1758.0 1381.4L1758.8 1381.0L1759.6 1380.4L1760.4 1379.4L1761.2 1378.2L1762.0 1376.2L1762.8 1374.6L1763.6 1372.5L1764.4 1371.3L1764.9 1371.3L1765.2 1371.0L1766.0 1373.0L1766.8 1376.0L1767.6 1378.7L1768.4 1381.1L1769.2 1382.9L1770.0 1383.9L1770.8 1384.6L1771.6 1385.5L1772.4 1386.5L1773.2 1387.3L1774.0 1387.8L1774.8 1387.4L1775.6 1387.5L1776.4 1387.1L1777.2 1387.1L1778.0 1387.5L1778.8 1387.2L1779.6 1386.1L1780.4 1385.6L1781.2 1385.1L1782.0 1384.4L1782.8 1383.6L1783.6 1382.4L1784.4 1381.2L1785.2 1381.0L1786.0 1381.2L1786.8 1380.9L1787.6 1380.5L1788.4 1378.8L1789.2 1376.9L1790.0 1374.1L1790.8 1372.1L1791.6 1372.1L1791.7 1372.7L1792.4 1373.3L1793.2 1375.4L1794.0 1378.6L1794.8 1381.3L1795.6 1383.4L1796.4 1384.8L1797.2 1385.6L1798.0 1386.4L1798.8 1387.3L1799.6 1387.7L1800.4 1387.6L1801.2 1388.1L1802.0 1387.4L1802.8 1386.2L1803.6 1385.6L1804.4 1384.6L1805.2 1382.2L1806.0 1380.3L1806.8 1379.1L1807.2 1378.2L1807.6 1378.4L1808.4 1379.7L1809.2 1381.1L1810.0 1381.8L1810.8 1383.1L1811.6 1383.7L1812.4 1384.0L1813.2 1384.4L1814.0 1385.3L1814.8 1385.1L1815.6 1385.4L1816.4 1386.5L1817.2 1387.3L1818.0 1388.5L1818.8 1389.1L1819.6 1389.8L1820.4 1390.3L1821.2 1390.2L1822.0 1390.8L1822.8 1392.3L1823.6 1391.9L1824.4 1391.9L1825.2 1391.2L1826.0 1390.9L1826.8 1390.4L1827.6 1389.9L1828.4 1388.0L1829.2 1385.7L1830.0 1383.9L1830.8 1383.1L1831.6 1383.0L1831.6 1383.6L1832.4 1383.8L1833.2 1384.0L1834.0 1385.5L1834.8 1386.9L1835.6 1388.4L1836.4 1389.2L1837.2 1389.1L1838.0 1390.2L1838.8 1390.5L1839.6 1390.2L1840.4 1390.2L1841.2 1390.7L1842.0 1390.1L1842.8 1389.3L1843.6 1388.8L1844.4 1387.3L1845.2 1384.4L1845.9 1382.4L1846.0 1382.4L1846.8 1385.3L1847.6 1388.6L1848.4 1390.5L1849.2 1391.1L1850.0 1391.9L1850.8 1391.6L1851.6 1390.2L1852.4 1389.2L1853.2 1387.8L1854.0 1385.4L1854.8 1383.1L1855.6 1380.6L1856.4 1378.6L1856.8 1378.8L1857.2 1379.3L1858.0 1380.4L1858.8 1382.9L1859.6 1385.2L1860.4 1387.6L1861.2 1389.0L1862.0 1389.4L1862.8 1389.8L1863.6 1390.8L1864.4 1391.5L1865.2 1391.9L1866.0 1392.9L1866.8 1394.6L1867.6 1396.4L1868.4 1397.2L1869.2 1397.6L1870.0 1397.8L1870.8 1398.1L1871.6 1398.0L1872.4 1397.3L1873.2 1397.5L1874.0 1397.6L1874.8 1397.3L1875.6 1396.4L1876.4 1395.0L1877.2 1394.5L1878.0 1393.3L1878.8 1392.1L1879.6 1390.1L1880.4 1388.7L1880.9 1388.3L1881.2 1387.8L1882.0 1389.2L1882.8 1391.0L1883.6 1393.1L1884.4 1394.1L1885.2 1395.1L1886.0 1396.4L1886.8 1396.6L1887.6 1396.7L1888.4 1397.2L1889.2 1397.6L1890.0 1397.9L1890.8 1398.1L1891.6 1399.2L1892.4 1399.8L1893.2 1400.5L1894.0 1400.6L1894.8 1400.6L1895.6 1401.6L1896.4 1401.9L1897.2 1402.4L1898.0 1402.3L1898.8 1403.4L1899.6 1405.1L1900.4 1405.3L1901.2 1404.8L1902.0 1405.4L1902.8 1405.9L1903.6 1406.1L1904.4 1405.3L1905.2 1405.1L1906.0 1405.8L1906.8 1405.6L1907.6 1405.4L1908.4 1405.5L1909.2 1406.0L1910.0 1405.7L1910.8 1406.1L1911.6 1406.2L1912.4 1406.0L1913.2 1406.7L1914.0 1407.1L1914.8 1406.9L1915.6 1406.8L1916.4 1407.0L1917.2 1406.9L1918.0 1407.4L1918.8 1407.7L1919.6 1406.8L1920.4 1406.7L1921.2 1407.5L1922.0 1407.3L1922.8 1407.4L1923.6 1407.7L1924.4 1407.7L1925.2 1407.8L1926.0 1407.7L1926.8 1407.9L1927.6 1408.3L1928.4 1408.5L1929.2 1408.1L1930.0 1407.9L1930.8 1407.4L1931.6 1406.2L1932.4 1404.0L1933.2 1400.4L1934.0 1393.7L1934.8 1384.8L1935.6 1375.6L1936.1 1373.5L1936.4 1374.3L1937.2 1383.6L1938.0 1393.6L1938.8 1400.3L1939.6 1404.7L1940.4 1406.9L1941.2 1408.3L1942.0 1408.1L1942.8 1405.2L1943.6 1399.8L1944.4 1393.3L1945.2 1386.8L1946.0 1382.8L1946.0 1382.8L1946.8 1383.0L1947.6 1386.3L1948.4 1389.3L1949.2 1392.0L1950.0 1393.4L1950.8 1395.4L1951.6 1398.3L1952.4 1401.4L1953.2 1404.1L1954.0 1406.2L1954.8 1408.1L1955.6 1409.7L1956.4 1410.0L1957.2 1409.9L1958.0 1409.7L1958.8 1409.2L1959.6 1409.6L1960.4 1409.5L1961.2 1408.6L1962.0 1408.4L1962.8 1409.1L1963.6 1408.9L1964.4 1408.0L1965.2 1407.4L1966.0 1407.0L1966.8 1407.3L1967.6 1407.1L1968.4 1406.7L1969.2 1406.3L1970.0 1404.5L1970.8 1402.6L1971.6 1400.6L1972.4 1397.8L1973.2 1394.7L1974.0 1391.1L1974.8 1389.1L1975.2 1389.2L1975.6 1388.4L1976.4 1389.9L1977.2 1393.0L1978.0 1395.7L1978.8 1398.0L1979.6 1400.2L1980.4 1401.5L1981.2 1401.7L1982.0 1402.3L1982.8 1402.6L1983.6 1404.0L1984.4 1404.6L1985.2 1406.0L1986.0 1407.6L1986.8 1408.5L1987.6 1408.7L1988.4 1409.0L1989.2 1410.6L1990.0 1410.9L1990.8 1411.4L1991.6 1411.2L1992.4 1411.4L1993.2 1411.7L1994.0 1410.5L1994.8 1410.1L1995.6 1410.1L1996.4 1409.7L1997.2 1408.5L1998.0 1408.8L1998.8 1408.4L1999.6 1408.5L2000.4 1408.8L2001.2 1407.9L2002.0 1407.4L2002.8 1406.6L2003.6 1405.1L2004.4 1403.9L2005.2 1402.8L2006.0 1402.2L2006.5 1402.1L2006.8 1402.3L2007.6 1403.8L2008.4 1406.0L2009.2 1407.5L2010.0 1409.7L2010.8 1411.4L2011.6 1411.5L2012.4 1412.1L2013.2 1413.3L2014.0 1413.2L2014.8 1413.1L2015.6 1413.3L2016.4 1412.7L2017.2 1411.5L2018.0 1410.4L2018.8 1408.9L2019.6 1407.9L2020.4 1407.5L2020.8 1407.7L2021.2 1408.1L2022.0 1409.2L2022.8 1410.0L2023.6 1411.4L2024.4 1412.1L2025.2 1412.5L2026.0 1413.5L2026.8 1414.2L2027.6 1414.8L2028.4 1415.2L2029.2 1415.3L2030.0 1415.3L2030.8 1416.0L2031.6 1416.9L2032.4 1417.6L2033.2 1418.1L2034.0 1418.5L2034.8 1419.1L2035.6 1419.7L2036.4 1419.7L2037.2 1419.4L2038.0 1419.3L2038.8 1419.9L2039.6 1420.2L2040.4 1420.0L2041.2 1420.2L2042.0 1419.5L2042.8 1419.4L2043.6 1419.3L2044.4 1419.0L2045.2 1419.2L2046.0 1418.5L2046.8 1417.7L2047.6 1417.3L2048.4 1417.8L2049.2 1417.3L2050.0 1415.6L2050.8 1414.6L2051.5 1414.8L2051.6 1415.1L2052.4 1415.5L2053.2 1416.5L2054.0 1417.3L2054.8 1418.9L2055.6 1419.4L2056.4 1419.6L2057.2 1419.6L2058.0 1420.2L2058.8 1420.4L2059.6 1419.6L2060.4 1419.6L2061.2 1419.8L2062.0 1419.3L2062.8 1418.5L2063.6 1418.2L2064.4 1418.1L2065.2 1417.3L2066.0 1416.1L2066.8 1414.7L2067.6 1412.2L2068.4 1409.7L2069.2 1405.3L2070.0 1397.0L2070.8 1385.1L2071.6 1374.7L2072.0 1373.1L2072.4 1374.8L2073.2 1385.3L2074.0 1396.7L2074.8 1405.2L2075.6 1410.2L2076.4 1413.6L2077.2 1416.6L2078.0 1417.6L2078.8 1418.6L2079.6 1419.4L2080.4 1419.9L2081.2 1420.8L2082.0 1421.2L2082.8 1422.4L2083.6 1421.9L2084.4 1422.0L2085.2 1422.5L2086.0 1422.7L2086.8 1423.0L2087.6 1423.5L2088.4 1424.0L2089.2 1424.0L2090.0 1423.1L2090.8 1423.3L2091.6 1423.2L2092.4 1422.3L2093.2 1421.9L2094.0 1422.8L2094.8 1422.3L2095.2 1421.5L2095.6 1422.5L2096.4 1423.0L2097.2 1423.3L2098.0 1423.8L2098.8 1423.7L2099.6 1424.1L2100.4 1424.5L2101.2 1423.9L2102.0 1423.7L2102.8 1424.1L2103.6 1424.9L2104.4 1424.7L2105.2 1424.8L2106.0 1424.9L2106.8 1425.0L2107.6 1424.5L2108.4 1423.9L2109.2 1424.1L2110.0 1423.6L2110.8 1422.9L2111.6 1422.2L2112.4 1421.7L2113.2 1421.4L2114.0 1421.1L2114.8 1420.7L2115.6 1420.1L2116.4 1419.5L2117.2 1419.3L2118.0 1419.4L2118.8 1419.4L2119.6 1419.0L2120.4 1417.9L2121.2 1416.5L2122.0 1415.0L2122.8 1411.7L2123.6 1406.6L2124.4 1404.2L2124.4 1404.0L2125.2 1408.3L2126.0 1414.4L2126.8 1420.2L2127.6 1422.7L2128.4 1423.8L2129.2 1424.4L2130.0 1424.2L2130.8 1424.0L2131.6 1424.5L2132.4 1424.4L2133.2 1424.4L2134.0 1425.1L2134.8 1425.6L2135.6 1425.9L2136.4 1426.3L2137.2 1427.0L2138.0 1427.1L2138.8 1428.1L2139.6 1428.6L2140.4 1428.1L2141.2 1428.1L2142.0 1427.8L2142.8 1428.1L2143.6 1427.6L2144.4 1427.7L2145.2 1428.3L2146.0 1428.6L2146.8 1428.2L2147.6 1427.5L2148.4 1427.1L2149.2 1427.5L2150.0 1428.3L2150.8 1427.7L2151.6 1426.5L2152.4 1426.3L2153.2 1426.3L2154.0 1426.8L2154.8 1426.4L2155.6 1425.7L2156.4 1425.8L2157.2 1425.3L2158.0 1424.7L2158.8 1424.7L2159.4 1425.0L2159.6 1424.5L2160.4 1424.9L2161.2 1425.4L2162.0 1426.7L2162.8 1428.2L2163.6 1428.6L2164.4 1428.5L2165.2 1429.0L2166.0 1429.7L2166.8 1429.2L2167.6 1428.4L2168.4 1427.7L2169.0 1426.9L2169.2 1427.0L2170.0 1428.9L2170.8 1430.2L2171.6 1431.2L2172.4 1431.9L2173.2 1432.5L2174.0 1433.0L2174.8 1433.8L2175.6 1433.6L2176.4 1433.6L2177.2 1433.8L2178.0 1433.9L2178.8 1434.2L2179.6 1434.6L2180.4 1434.9L2181.2 1435.2L2182.0 1435.0L2182.8 1434.6L2183.6 1434.7L2184.4 1434.8L2185.2 1435.4L2186.0 1434.6L2186.8 1435.0L2187.6 1435.4L2188.4 1435.1L2189.2 1435.3L2190.0 1435.7L2190.8 1435.1L2191.6 1435.3L2192.4 1435.0L2193.2 1434.9L2194.0 1435.4L2194.8 1435.0L2195.6 1434.8L2196.4 1434.6L2197.2 1434.8L2198.0 1435.1L2198.8 1435.7L2199.6 1435.3L2200.4 1434.6L2201.2 1434.5L2202.0 1434.4L2202.8 1433.8L2203.6 1433.4L2204.4 1433.1L2205.2 1433.7L2206.0 1435.6L2206.8 1436.1L2207.6 1437.1L2208.4 1437.5L2209.2 1437.7L2210.0 1437.6L2210.8 1438.1L2211.6 1438.3L2212.4 1437.9L2213.2 1438.0L2214.0 1437.6L2214.8 1436.3L2215.6 1434.5L2216.4 1432.6L2217.2 1431.6L2218.0 1428.6L2218.8 1425.0L2219.6 1423.4L2220.0 1423.4L2220.4 1423.8L2221.2 1425.9L2222.0 1428.5L2222.8 1431.4L2223.6 1433.5L2224.4 1435.1L2225.2 1436.2L2226.0 1437.5L2226.8 1438.3L2227.6 1438.2L2228.4 1438.5L2229.2 1439.3L2230.0 1439.4L2230.8 1440.1L2231.6 1441.1L2232.4 1441.7L2233.2 1441.4L2234.0 1441.7L2234.8 1441.9L2235.6 1441.2L2236.4 1441.3L2237.2 1441.8L2238.0 1442.0L2238.8 1441.1L2239.6 1441.0L2240.4 1441.7L2241.2 1441.6L2242.0 1440.7L2242.8 1440.7L2243.6 1440.7L2244.4 1439.8L2245.2 1438.7L2246.0 1438.4L2246.8 1436.6L2247.6 1432.0L2248.4 1427.6L2248.7 1426.3L2249.2 1427.0L2250.0 1432.5L2250.8 1436.2L2251.6 1439.1L2252.4 1440.2L2253.2 1440.3L2254.0 1438.8L2254.8 1437.7L2255.6 1435.0L2256.4 1429.5L2257.1 1426.5L2257.2 1426.4L2258.0 1431.1L2258.8 1436.4L2259.6 1439.3L2260.4 1439.7L2261.2 1440.5L2262.0 1441.4L2262.8 1442.3L2263.6 1442.7L2264.4 1442.9L2265.2 1443.5L2266.0 1444.4L2266.8 1444.9L2267.6 1444.7L2268.4 1445.1L2269.2 1446.0L2270.0 1446.7L2270.8 1446.1L2271.6 1446.1L2272.4 1446.0L2273.2 1445.9L2274.0 1446.1L2274.8 1445.6L2275.6 1445.2L2276.4 1445.1L2277.2 1444.9L2278.0 1444.3L2278.8 1444.2L2279.6 1444.6L2280.4 1444.4L2281.2 1444.8L2282.0 1444.7L2282.8 1444.6L2283.6 1444.8L2284.4 1445.1L2285.2 1446.3L2286.0 1446.8L2286.8 1446.7L2287.6 1446.7L2288.4 1447.2L2289.2 1448.1L2290.0 1448.9L2290.8 1448.7L2291.6 1448.9L2292.4 1450.0L2293.2 1450.5L2294.0 1450.4L2294.8 1450.5L2295.6 1451.7L2296.4 1452.2L2297.2 1451.5L2298.0 1451.3L2298.8 1451.9L2299.6 1452.6L2300.4 1453.1L2301.2 1452.9L2302.0 1452.5L2302.8 1453.1L2303.6 1453.1L2304.4 1452.6L2305.2 1452.1L2306.0 1450.9L2306.8 1449.7L2307.6 1448.3L2308.3 1448.4L2308.4 1448.6L2309.2 1449.0L2310.0 1451.0L2310.8 1452.6L2311.6 1453.5L2312.4 1454.1L2313.2 1454.1L2314.0 1454.6L2314.8 1454.0L2315.6 1453.3L2316.4 1453.5L2317.2 1453.8L2318.0 1454.6L2318.8 1455.2L2319.6 1455.2L2320.4 1454.8L2321.2 1454.4L2322.0 1454.1L2322.8 1454.2L2323.6 1454.7L2324.4 1454.4L2325.2 1454.7L2326.0 1455.1L2326.8 1455.0L2327.6 1454.2L2328.4 1454.0L2329.2 1454.2L2330.0 1454.7L2330.8 1454.0L2331.6 1454.1L2332.4 1454.7L2333.2 1455.1L2334.0 1455.1L2334.8 1454.3L2335.6 1453.9L2336.4 1453.1L2337.0 1453.8L2337.2 1454.3L2338.0 1454.6L2338.8 1454.9L2339.6 1456.1L2340.4 1456.8L2341.2 1456.6L2342.0 1456.8L2342.8 1456.9L2343.6 1457.2L2344.4 1457.4L2345.2 1457.1L2346.0 1457.3L2346.8 1457.9L2347.6 1458.4L2348.4 1459.0L2349.2 1458.8L2350.0 1458.6L2350.8 1458.6L2351.6 1459.2L2352.4 1459.3L2353.2 1459.6L2354.0 1460.8L2354.8 1460.4L2355.6 1461.7L2356.4 1462.5L2357.2 1461.6L2357.4 1461.1" stroke="#ff0000" stroke-width="2.5" style="stroke-linejoin:miter;stroke-miterlimit:3"/>
<path class="c" d="M391.6 1087.1L392.4 1087.3L393.2 1087.7L394.0 1087.8L394.8 1088.6L395.6 1088.7L396.4 1089.4L397.2 1090.1L398.0 1090.9L398.8 1092.4L399.6 1092.3L400.4 1092.9L401.2 1093.6L402.0 1093.6L402.8 1094.7L403.6 1095.1L404.4 1095.6L405.2 1095.5L406.0 1096.0L406.8 1097.5L407.6 1098.1L408.4 1098.7L409.2 1099.5L410.0 1100.0L410.8 1099.9L411.6 1099.8L412.4 1100.3L413.2 1100.7L414.0 1101.2L414.8 1102.2L415.6 1103.0L416.4 1103.8L417.2 1104.5L418.0 1104.8L418.8 1105.4L419.6 1105.9L420.4 1106.1L421.2 1106.7L422.0 1107.4L422.8 1107.8L423.6 1108.2L424.4 1109.1L425.2 1110.0L426.0 1110.1L426.8 1110.0L427.6 1110.2L428.4 1110.9L429.2 1111.4L430.0 1110.3L430.8 1110.7L431.6 1110.7L432.4 1110.2L433.2 1109.3L434.0 1109.5L434.8 1108.4L435.6 1107.0L436.4 1105.1L437.2 1101.3L438.0 1094.3L438.8 1080.6L439.6 1056.7L440.4 1018.1L441.2 963.8L442.0 897.6L442.8 828.5L443.6 772.1L444.4 746.6L444.5 746.7L445.2 762.2L446.0 812.4L446.8 880.8L447.6 949.9L448.4 1008.1L449.2 1050.4L450.0 1079.3L450.8 1096.1L451.6 1104.5L452.4 1109.2L453.2 1111.8L454.0 1113.5L454.8 1114.5L455.6 1115.6L456.4 1117.2L457.2 1118.7L458.0 1119.8L458.8 1119.3L459.6 1119.3L460.4 1120.4L461.2 1121.0L462.0 1121.6L462.8 1121.8L463.6 1121.9L464.4 1122.7L465.2 1123.8L466.0 1124.1L466.8 1124.2L467.6 1124.9L468.4 1124.8L469.2 1125.4L470.0 1126.0L470.8 1125.8L471.6 1126.1L472.4 1126.9L473.2 1127.2L474.0 1127.3L474.8 1127.3L475.6 1127.2L476.4 1127.8L477.2 1129.0L478.0 1128.3L478.8 1128.4L479.6 1128.0L480.4 1128.3L481.2 1128.2L482.0 1127.4L482.8 1126.1L483.6 1125.0L484.4 1124.0L485.2 1120.4L486.0 1114.8L486.8 1105.0L487.6 1085.7L488.4 1053.8L489.2 1008.1L490.0 950.3L490.8 887.8L491.6 832.5L492.4 801.3L492.7 799.1L493.2 806.9L494.0 845.1L494.8 903.9L495.6 967.4L496.4 1023.1L497.2 1064.7L498.0 1092.9L498.8 1110.3L499.6 1118.9L500.4 1124.0L501.2 1127.4L502.0 1129.2L502.8 1129.6L503.6 1129.5L504.4 1131.0L505.2 1131.9L506.0 1132.2L506.8 1132.9L507.6 1133.5L508.4 1133.2L509.2 1132.9L510.0 1132.9L510.8 1133.6L511.6 1133.7L512.4 1133.7L513.2 1133.7L514.0 1134.3L514.8 1134.7L515.6 1134.4L516.4 1134.0L517.2 1134.4L518.0 1134.0L518.8 1133.2L519.6 1133.6L520.4 1133.1L521.2 1133.3L522.0 1134.2L522.8 1134.1L523.6 1133.5L524.4 1133.3L525.2 1133.2L526.0 1132.6L526.8 1132.9L527.6 1132.8L528.4 1132.7L529.2 1132.2L530.0 1131.8L530.8 1132.0L531.6 1131.7L532.4 1131.1L533.2 1131.0L534.0 1131.1L534.8 1131.2L535.6 1131.0L536.4 1130.1L537.2 1129.1L538.0 1128.8L538.8 1128.7L539.6 1128.1L540.4 1127.0L541.2 1126.5L542.0 1125.5L542.8 1124.1L543.6 1123.6L544.4 1123.2L545.2 1122.5L546.0 1121.7L546.8 1120.9L547.6 1120.3L548.4 1119.0L549.2 1118.2L550.0 1118.1L550.8 1117.4L551.6 1116.9L552.4 1116.1L553.2 1115.7L554.0 1114.2L554.8 1113.2L555.6 1113.0L556.4 1112.1L557.2 1109.8L558.0 1108.0L558.8 1105.3L559.6 1102.3L559.9 1101.2L560.4 1100.6L561.2 1102.3L562.0 1104.5L562.8 1105.8L563.6 1105.8L564.4 1105.3L565.2 1104.8L566.0 1103.8L566.8 1103.4L567.6 1102.6L568.4 1102.2L569.2 1100.9L570.0 1099.3L570.8 1098.0L571.6 1096.7L572.4 1095.8L573.2 1094.3L574.0 1093.3L574.8 1092.4L575.6 1090.8L576.4 1089.5L577.2 1088.5L578.0 1086.4L578.8 1084.4L579.6 1082.0L580.4 1079.8L581.2 1078.1L582.0 1075.5L582.8 1073.0L583.6 1071.8L584.4 1069.4L585.2 1065.9L586.0 1062.1L586.8 1054.8L587.6 1042.2L588.4 1020.4L589.2 983.3L590.0 922.7L590.8 836.1L591.6 726.6L592.4 607.4L593.2 502.7L594.0 443.6L594.3 438.5L594.8 452.0L595.6 522.5L596.4 631.2L597.2 746.9L598.0 848.7L598.8 926.2L599.6 977.8L600.4 1008.8L601.2 1025.7L602.0 1033.8L602.8 1037.2L603.6 1039.5L604.4 1041.2L605.2 1040.4L606.0 1039.3L606.8 1039.5L607.6 1039.3L608.4 1037.7L609.2 1035.0L610.0 1032.0L610.8 1027.6L611.6 1022.1L612.3 1020.0L612.4 1020.7L613.2 1023.3L614.0 1027.6L614.8 1030.0L615.6 1031.7L616.4 1032.5L617.2 1033.0L618.0 1032.4L618.8 1031.8L619.6 1031.3L620.4 1031.2L621.2 1030.7L622.0 1029.5L622.8 1028.7L623.6 1027.4L624.4 1026.1L625.2 1025.3L626.0 1024.0L626.8 1021.7L627.6 1021.3L628.4 1020.6L629.2 1018.8L630.0 1017.7L630.8 1016.5L631.6 1015.0L632.4 1013.6L633.2 1012.5L634.0 1011.0L634.8 1009.2L635.6 1007.6L636.4 1005.6L637.2 1004.3L638.0 1002.9L638.8 1001.3L639.6 999.7L640.4 998.7L641.2 997.1L642.0 995.3L642.8 993.3L643.6 991.8L644.4 990.2L645.2 988.7L646.0 987.3L646.8 984.9L647.6 981.7L647.7 980.9L648.4 980.0L649.2 979.9L650.0 980.0L650.8 979.0L651.6 978.1L652.4 977.7L653.2 976.7L654.0 975.7L654.8 974.7L655.6 973.7L656.4 972.5L657.2 971.1L658.0 969.4L658.8 968.0L659.6 966.8L660.4 965.5L661.2 964.3L662.0 963.4L662.8 962.5L663.6 960.6L664.4 959.1L665.2 957.8L666.0 956.0L666.8 953.1L667.6 950.4L668.4 948.0L669.2 943.4L670.0 935.4L670.8 922.6L671.6 902.4L672.4 870.9L673.2 827.6L674.0 776.2L674.8 724.5L675.6 684.3L676.4 667.4L676.4 666.8L677.2 680.9L678.0 719.5L678.8 768.5L679.6 816.6L680.4 856.5L681.2 885.6L682.0 904.1L682.8 914.1L683.6 919.0L684.4 921.2L685.2 921.5L686.0 921.1L686.8 920.6L687.6 920.2L688.4 919.9L689.2 919.7L690.0 919.1L690.8 918.4L691.6 918.1L692.4 917.0L693.2 916.5L694.0 914.9L694.8 913.8L695.6 913.0L696.4 911.3L697.2 909.0L698.0 906.7L698.8 903.6L699.6 900.9L700.4 898.6L701.2 896.2L702.0 894.3L702.8 891.6L703.6 888.5L704.4 885.0L705.2 882.5L705.3 882.8L706.0 882.3L706.8 882.0L707.6 880.8L708.4 879.2L709.2 877.9L710.0 877.1L710.8 875.0L711.6 872.3L712.4 869.4L713.2 866.5L714.0 861.5L714.8 854.2L715.6 842.4L716.4 823.5L717.2 794.0L718.0 750.0L718.8 691.6L719.6 624.2L720.4 559.5L721.2 514.3L721.8 502.7L722.0 503.7L722.8 528.8L723.6 581.3L724.4 643.9L725.2 703.2L726.0 750.3L726.8 781.4L727.6 798.5L728.4 803.6L729.2 798.6L730.0 787.4L730.8 773.7L731.6 759.5L732.4 750.2L732.9 748.9L733.2 750.0L734.0 759.5L734.8 774.8L735.6 792.7L736.4 808.9L737.2 822.1L738.0 831.4L738.8 836.9L739.6 840.3L740.4 841.1L741.2 841.1L742.0 841.1L742.8 840.2L743.6 838.3L744.4 835.0L745.2 830.8L746.0 825.7L746.8 819.7L747.6 815.2L747.7 814.5L748.4 811.3L749.2 808.6L750.0 806.0L750.8 801.6L751.6 797.4L752.4 793.3L753.2 788.8L754.0 784.3L754.8 782.0L755.5 781.0L755.6 780.0L756.4 780.1L757.2 783.4L758.0 787.1L758.8 791.8L759.6 797.3L760.4 802.4L761.2 807.1L762.0 811.7L762.8 815.7L763.6 819.5L764.4 822.5L765.2 824.8L766.0 826.3L766.8 827.9L767.6 829.1L768.4 830.0L769.2 830.3L770.0 830.4L770.8 831.5L771.6 832.1L772.4 833.2L773.2 833.6L774.0 833.9L774.8 834.5L775.6 835.5L776.4 835.5L777.2 836.4L778.0 837.1L778.8 837.5L779.6 836.5L780.4 834.6L781.2 831.9L782.0 827.1L782.8 818.9L783.6 806.8L784.4 788.7L785.2 766.9L786.0 746.1L786.8 730.6L787.5 726.1L787.6 725.9L788.4 734.0L789.2 752.9L790.0 776.2L790.8 798.1L791.6 815.9L792.4 828.6L793.2 837.3L794.0 842.9L794.8 846.1L795.6 847.5L796.4 848.9L797.2 850.3L798.0 850.2L798.8 850.4L799.6 850.6L800.4 851.0L801.2 851.1L802.0 849.8L802.8 846.5L803.6 839.4L804.4 824.1L805.2 795.7L806.0 747.7L806.8 676.2L807.6 581.2L808.4 473.5L809.2 372.2L810.0 306.5L810.5 294.7L810.8 299.9L811.6 356.0L812.4 454.6L813.2 566.2L814.0 668.6L814.8 750.4L815.6 807.9L816.4 843.7L817.2 865.4L818.0 876.8L818.8 883.5L819.6 889.0L820.4 892.0L821.2 894.3L822.0 898.0L822.8 900.8L823.6 903.7L824.4 906.4L825.2 908.6L826.0 910.1L826.8 911.9L827.6 914.6L828.4 916.3L829.2 917.7L830.0 919.0L830.8 921.0L831.6 923.1L832.4 924.8L833.2 926.4L834.0 927.6L834.8 929.0L835.6 931.2L836.4 933.0L837.2 935.0L838.0 936.5L838.8 937.4L839.6 938.6L840.4 940.4L841.2 941.3L842.0 941.8L842.8 942.9L843.6 942.4L844.4 940.5L845.2 936.9L846.0 931.8L846.8 926.5L847.3 925.7L847.6 927.0L848.4 934.4L849.2 942.8L850.0 950.0L850.8 955.1L851.6 958.7L852.4 961.5L853.2 963.8L854.0 965.9L854.8 968.0L855.6 969.9L856.4 971.4L857.2 971.9L858.0 972.3L858.8 972.6L859.6 974.0L860.4 974.8L861.2 974.7L862.0 974.3L862.8 972.9L863.6 970.6L864.4 966.7L865.2 960.5L866.0 951.3L866.8 939.4L867.6 925.1L868.4 916.0L868.6 915.8L869.2 921.1L870.0 934.9L870.8 949.4L871.6 961.2L872.4 969.5L873.2 974.7L874.0 976.9L874.8 976.2L875.6 973.2L876.4 970.1L876.6 970.7L877.2 973.8L878.0 979.7L878.8 984.1L879.6 983.6L880.4 977.9L881.2 965.5L882.0 939.9L882.8 895.9L883.6 827.2L884.4 734.2L885.2 626.8L886.0 523.7L886.8 451.5L887.4 434.3L887.6 437.7L888.4 489.2L889.2 586.3L890.0 700.6L890.8 807.0L891.6 892.2L892.4 953.1L893.2 989.4L894.0 1008.0L894.8 1013.2L895.6 1007.6L896.4 988.7L897.2 955.5L898.0 906.3L898.8 844.2L899.6 777.3L900.4 720.3L901.2 691.6L901.4 690.3L902.0 702.4L902.8 749.0L903.6 815.3L904.4 883.7L905.2 943.7L906.0 988.2L906.8 1017.7L907.6 1035.6L908.4 1044.6L909.2 1050.1L910.0 1053.8L910.8 1055.7L911.6 1057.2L912.4 1057.9L913.2 1058.4L914.0 1059.4L914.8 1059.6L915.6 1059.3L916.4 1058.6L917.2 1056.9L918.0 1052.6L918.8 1047.3L919.6 1040.2L920.4 1030.7L921.2 1024.7L921.5 1024.9L922.0 1027.3L922.8 1037.0L923.6 1048.2L924.4 1057.5L925.2 1065.7L926.0 1071.5L926.8 1075.4L927.6 1078.4L928.4 1081.1L929.2 1083.4L930.0 1084.9L930.8 1086.4L931.6 1088.1L932.4 1090.1L933.2 1091.7L934.0 1093.9L934.8 1096.1L935.6 1097.0L936.4 1099.0L937.2 1101.4L938.0 1102.7L938.8 1104.0L939.6 1104.4L940.4 1105.3L941.2 1106.5L942.0 1106.7L942.8 1107.2L943.6 1107.8L944.4 1108.5L945.2 1108.4L946.0 1109.3L946.8 1110.4L947.6 1111.5L948.4 1112.3L949.2 1113.3L950.0 1114.2L950.8 1116.0L951.6 1116.9L952.4 1117.9L953.2 1119.1L954.0 1119.5L954.8 1120.2L955.6 1121.3L956.4 1122.1L957.2 1121.9L958.0 1122.4L958.8 1123.9L959.6 1124.4L960.4 1125.0L961.2 1125.7L962.0 1124.9L962.8 1124.4L963.6 1123.9L964.4 1122.1L965.2 1120.2L966.0 1117.0L966.8 1112.1L967.6 1104.2L968.4 1091.8L969.2 1074.5L970.0 1051.5L970.8 1027.7L971.6 1016.8L971.6 1016.6L972.4 1027.0L973.2 1051.6L974.0 1076.8L974.8 1096.4L975.6 1111.0L976.4 1121.0L977.2 1127.2L978.0 1131.8L978.8 1135.6L979.6 1138.7L980.4 1140.6L981.2 1142.5L982.0 1143.3L982.8 1144.2L983.6 1146.4L984.4 1147.2L985.2 1147.4L986.0 1147.9L986.8 1148.6L987.6 1149.2L988.4 1148.8L989.2 1148.7L990.0 1148.5L990.8 1148.1L991.6 1148.0L992.4 1147.1L993.2 1145.8L994.0 1144.2L994.8 1140.0L995.6 1136.2L996.4 1129.2L997.2 1119.2L998.0 1105.0L998.8 1084.1L999.6 1056.3L1000.4 1026.9L1001.2 1012.6L1001.3 1012.0L1002.0 1023.5L1002.8 1052.1L1003.6 1080.8L1004.4 1103.5L1005.2 1119.8L1006.0 1130.3L1006.8 1137.2L1007.6 1142.6L1008.4 1145.5L1009.2 1146.7L1010.0 1146.9L1010.8 1146.0L1011.6 1143.1L1012.4 1137.3L1013.2 1126.2L1014.0 1108.0L1014.8 1081.4L1015.6 1042.8L1016.4 993.1L1017.2 938.8L1018.0 895.0L1018.6 883.7L1018.8 886.7L1019.6 917.8L1020.4 970.6L1021.2 1026.0L1022.0 1073.5L1022.8 1108.5L1023.6 1133.2L1024.4 1148.9L1025.2 1158.8L1026.0 1164.7L1026.8 1170.2L1027.6 1173.7L1028.4 1176.4L1029.2 1179.6L1030.0 1182.6L1030.8 1183.3L1031.6 1184.4L1032.4 1186.5L1033.2 1187.3L1034.0 1188.6L1034.8 1190.1L1035.6 1190.6L1036.4 1190.9L1037.2 1191.0L1038.0 1190.3L1038.8 1189.4L1039.6 1188.7L1040.4 1187.2L1041.2 1184.5L1042.0 1180.1L1042.8 1173.3L1043.6 1163.2L1044.4 1149.2L1045.2 1135.6L1046.0 1129.8L1046.0 1130.1L1046.8 1135.9L1047.6 1150.0L1048.4 1165.5L1049.2 1176.8L1050.0 1185.1L1050.8 1190.9L1051.6 1194.8L1052.4 1196.9L1053.2 1199.3L1054.0 1200.2L1054.8 1201.1L1055.6 1201.2L1056.4 1201.2L1057.2 1198.9L1058.0 1195.7L1058.8 1191.4L1059.6 1185.7L1060.4 1179.8L1061.2 1172.0L1062.0 1167.7L1062.1 1167.8L1062.8 1168.5L1063.6 1172.4L1064.4 1176.9L1065.2 1181.0L1066.0 1183.1L1066.8 1184.2L1067.6 1185.6L1068.4 1187.2L1069.2 1188.2L1070.0 1189.0L1070.8 1191.9L1071.6 1194.9L1072.4 1198.3L1073.2 1201.2L1074.0 1204.4L1074.8 1208.1L1075.6 1211.3L1076.4 1213.8L1077.2 1215.5L1078.0 1217.3L1078.8 1218.3L1079.6 1217.7L1080.4 1217.1L1081.2 1216.7L1082.0 1215.6L1082.8 1214.4L1083.6 1211.6L1084.4 1208.2L1085.2 1203.0L1086.0 1194.0L1086.8 1181.5L1087.6 1164.4L1088.4 1142.3L1089.2 1121.7L1089.9 1115.3L1090.0 1115.6L1090.8 1128.3L1091.6 1150.9L1092.4 1172.2L1093.2 1188.5L1094.0 1200.1L1094.8 1207.5L1095.6 1212.0L1096.4 1215.2L1097.2 1217.4L1098.0 1218.7L1098.8 1219.0L1099.6 1218.1L1100.4 1217.2L1101.2 1214.9L1102.0 1210.3L1102.8 1203.2L1103.6 1194.7L1104.4 1187.2L1105.2 1182.9L1105.2 1182.7L1106.0 1186.2L1106.8 1193.3L1107.6 1201.0L1108.4 1207.6L1109.2 1212.1L1110.0 1214.6L1110.8 1216.8L1111.6 1218.3L1112.4 1219.3L1113.2 1220.6L1114.0 1223.0L1114.8 1224.7L1115.6 1226.5L1116.4 1229.0L1117.2 1232.2L1118.0 1234.5L1118.8 1236.6L1119.6 1239.5L1120.4 1241.5L1121.2 1242.5L1122.0 1243.0L1122.8 1244.2L1123.6 1245.0L1124.4 1245.0L1125.2 1245.6L1126.0 1244.2L1126.8 1242.3L1127.6 1240.4L1128.4 1238.6L1129.2 1235.7L1130.0 1233.6L1130.4 1233.5L1130.8 1234.7L1131.6 1237.6L1132.4 1240.9L1133.2 1243.9L1134.0 1246.1L1134.8 1248.2L1135.6 1249.4L1136.4 1250.4L1137.2 1250.9L1138.0 1251.4L1138.8 1251.2L1139.6 1251.7L1140.4 1252.0L1141.2 1252.2L1142.0 1252.7L1142.8 1253.0L1143.6 1252.3L1144.4 1250.9L1145.2 1248.2L1146.0 1244.2L1146.8 1238.4L1147.6 1231.1L1148.4 1223.2L1149.2 1218.4L1149.4 1218.2L1150.0 1221.2L1150.8 1229.3L1151.6 1237.3L1152.4 1244.6L1153.2 1250.7L1154.0 1254.2L1154.8 1256.4L1155.6 1258.4L1156.4 1259.4L1157.2 1261.2L1158.0 1261.9L1158.8 1262.4L1159.6 1263.3L1160.4 1263.9L1161.2 1264.4L1162.0 1264.2L1162.8 1264.2L1163.6 1264.0L1164.4 1264.4L1165.2 1264.7L1166.0 1264.9L1166.8 1264.6L1167.6 1263.9L1168.4 1264.3L1169.2 1263.4L1170.0 1261.3L1170.8 1260.1L1171.0 1260.0L1171.6 1259.7L1172.4 1261.6L1173.2 1263.5L1174.0 1264.6L1174.8 1265.0L1175.6 1265.0L1176.4 1265.8L1177.2 1266.2L1178.0 1265.8L1178.8 1265.2L1179.6 1264.8L1180.4 1264.9L1181.2 1264.6L1182.0 1263.6L1182.8 1262.9L1183.6 1262.1L1184.4 1260.3L1185.2 1256.9L1186.0 1252.5L1186.8 1246.9L1187.6 1238.0L1188.4 1227.4L1189.2 1217.2L1190.0 1211.7L1190.1 1211.1L1190.8 1215.8L1191.6 1227.2L1192.4 1239.5L1193.2 1249.6L1194.0 1256.3L1194.8 1260.7L1195.6 1265.0L1196.4 1267.8L1197.2 1269.8L1198.0 1271.4L1198.8 1272.5L1199.6 1273.7L1200.4 1275.1L1201.2 1276.2L1202.0 1276.9L1202.8 1277.4L1203.6 1277.9L1204.4 1278.1L1205.2 1278.2L1206.0 1279.2L1206.8 1279.4L1207.6 1279.4L1208.4 1279.3L1209.2 1280.2L1210.0 1281.5L1210.8 1281.0L1211.6 1281.1L1212.4 1281.4L1213.2 1281.0L1214.0 1280.4L1214.8 1280.4L1215.6 1280.3L1216.4 1279.7L1217.2 1279.0L1218.0 1278.9L1218.8 1279.1L1219.6 1278.2L1220.4 1276.6L1221.2 1274.3L1222.0 1270.2L1222.8 1264.7L1223.6 1258.1L1224.4 1248.1L1225.2 1238.1L1226.0 1232.4L1226.2 1232.5L1226.8 1234.6L1227.6 1242.8L1228.4 1252.9L1229.2 1262.0L1230.0 1269.2L1230.8 1274.0L1231.6 1276.6L1232.4 1278.7L1233.2 1280.6L1234.0 1281.6L1234.8 1282.1L1235.6 1282.6L1236.4 1283.6L1237.2 1284.4L1238.0 1284.7L1238.8 1284.5L1239.6 1284.1L1240.4 1283.8L1241.2 1282.5L1242.0 1282.1L1242.8 1281.0L1243.6 1278.2L1244.4 1275.0L1245.2 1271.8L1246.0 1267.2L1246.8 1264.5L1247.0 1264.9L1247.6 1265.6L1248.4 1268.7L1249.2 1273.3L1250.0 1277.1L1250.8 1280.1L1251.6 1281.5L1252.4 1281.2L1253.2 1281.5L1254.0 1281.9L1254.8 1280.4L1255.6 1277.9L1256.4 1274.5L1257.2 1269.8L1258.0 1263.2L1258.8 1256.0L1259.6 1251.0L1259.9 1250.1L1260.4 1250.8L1261.2 1256.3L1262.0 1263.8L1262.8 1270.2L1263.6 1275.1L1264.4 1278.3L1265.2 1280.2L1266.0 1281.2L1266.8 1282.0L1267.6 1282.7L1268.4 1283.1L1269.2 1283.7L1270.0 1285.0L1270.8 1285.0L1271.6 1285.0L1272.4 1284.4L1273.2 1283.9L1274.0 1284.0L1274.8 1283.2L1275.6 1281.9L1276.4 1280.3L1277.2 1278.8L1278.0 1276.7L1278.8 1273.1L1279.6 1267.7L1280.4 1260.9L1281.2 1253.8L1282.0 1249.2L1282.3 1248.4L1282.8 1249.3L1283.6 1254.3L1284.4 1262.2L1285.2 1268.3L1286.0 1272.1L1286.8 1275.1L1287.6 1277.5L1288.4 1278.6L1289.2 1279.3L1290.0 1279.8L1290.8 1280.1L1291.6 1280.0L1292.4 1280.1L1293.2 1278.7L1294.0 1277.6L1294.8 1275.6L1295.6 1274.0L1295.6 1274.4L1296.4 1274.1L1297.2 1275.1L1298.0 1275.3L1298.8 1274.3L1299.6 1271.8L1300.4 1268.2L1301.2 1262.8L1302.0 1257.5L1302.8 1255.2L1302.9 1255.1L1303.6 1257.6L1304.4 1264.0L1305.2 1270.7L1306.0 1276.3L1306.8 1280.4L1307.6 1283.5L1308.4 1285.4L1309.2 1286.5L1310.0 1287.6L1310.8 1288.2L1311.6 1288.0L1312.4 1288.1L1313.2 1288.4L1314.0 1287.9L1314.8 1287.4L1315.6 1286.8L1316.4 1286.1L1317.2 1285.6L1317.4 1285.3L1318.0 1285.6L1318.8 1286.3L1319.6 1287.4L1320.4 1288.0L1321.2 1287.8L1322.0 1286.7L1322.8 1286.3L1323.6 1285.5L1324.4 1284.7L1325.2 1283.2L1326.0 1280.5L1326.8 1277.1L1327.6 1272.8L1328.4 1267.4L1329.2 1261.6L1330.0 1258.1L1330.3 1257.7L1330.8 1258.2L1331.6 1263.5L1332.4 1270.0L1333.2 1275.5L1334.0 1279.7L1334.8 1283.4L1335.6 1285.7L1336.4 1286.9L1337.2 1288.1L1338.0 1288.4L1338.8 1288.4L1339.6 1289.4L1340.4 1289.7L1341.2 1289.4L1342.0 1289.8L1342.8 1290.0L1343.6 1289.0L1344.4 1287.7L1345.2 1286.8L1346.0 1286.1L1346.8 1284.8L1347.6 1282.8L1348.4 1278.9L1349.2 1273.9L1350.0 1268.1L1350.8 1262.4L1351.6 1258.1L1351.9 1257.5L1352.4 1259.3L1353.2 1263.5L1354.0 1270.0L1354.8 1276.4L1355.6 1280.6L1356.4 1283.5L1357.2 1285.7L1358.0 1287.7L1358.8 1289.0L1359.6 1289.7L1360.4 1290.2L1361.2 1291.3L1362.0 1291.6L1362.8 1292.7L1363.6 1293.7L1364.4 1293.5L1365.2 1294.2L1366.0 1295.3L1366.8 1296.1L1367.6 1296.5L1368.4 1296.7L1369.2 1297.5L1370.0 1298.0L1370.8 1298.5L1371.6 1298.2L1372.4 1298.0L1373.2 1298.5L1374.0 1299.1L1374.8 1299.9L1375.6 1300.3L1376.4 1300.1L1377.2 1300.5L1378.0 1300.8L1378.8 1302.2L1379.6 1301.7L1380.4 1301.2L1381.2 1301.1L1382.0 1301.4L1382.8 1301.3L1383.6 1300.1L1384.4 1299.1L1385.2 1297.8L1386.0 1295.7L1386.8 1292.6L1387.6 1288.9L1388.4 1284.5L1389.2 1280.9L1389.8 1278.7L1390.0 1278.7L1390.8 1280.8L1391.6 1284.5L1392.4 1287.7L1393.2 1290.1L1394.0 1292.2L1394.8 1293.7L1395.6 1294.1L1396.4 1295.3L1397.2 1296.0L1398.0 1297.3L1398.8 1298.4L1399.6 1298.5L1400.4 1299.2L1401.2 1300.4L1402.0 1301.5L1402.8 1302.9L1403.6 1303.6L1404.4 1303.3L1405.2 1303.5L1406.0 1304.1L1406.8 1304.4L1407.6 1305.2L1408.4 1305.6L1409.2 1305.1L1410.0 1304.8L1410.8 1305.1L1411.6 1305.5L1412.4 1305.5L1413.2 1305.4L1414.0 1305.4L1414.8 1305.8L1415.6 1305.5L1416.4 1305.6L1417.2 1305.6L1418.0 1304.7L1418.8 1304.8L1419.6 1304.6L1420.4 1304.6L1421.2 1304.7L1422.0 1304.3L1422.8 1304.6L1423.6 1305.8L1424.4 1305.7L1425.2 1304.7L1426.0 1303.5L1426.8 1302.8L1427.6 1301.9L1428.4 1300.7L1429.2 1299.1L1430.0 1296.5L1430.8 1293.5L1431.6 1292.4L1431.9 1292.4L1432.4 1293.1L1433.2 1295.2L1434.0 1297.9L1434.8 1300.0L1435.6 1302.2L1436.4 1303.3L1437.2 1304.1L1438.0 1304.8L1438.8 1304.7L1439.6 1304.2L1440.4 1304.9L1441.2 1304.2L1442.0 1303.2L1442.8 1301.7L1443.6 1299.3L1444.4 1296.1L1445.2 1291.6L1446.0 1285.5L1446.8 1278.5L1447.6 1273.5L1448.1 1273.1L1448.4 1273.2L1449.2 1277.2L1450.0 1284.0L1450.8 1290.1L1451.6 1295.6L1452.4 1299.0L1453.2 1301.0L1454.0 1302.5L1454.8 1303.7L1455.6 1304.8L1456.4 1306.1L1457.2 1307.0L1458.0 1306.8L1458.8 1306.6L1459.6 1306.7L1460.4 1306.5L1461.2 1307.1L1462.0 1308.3L1462.8 1309.5L1463.6 1309.9L1464.4 1310.6L1465.2 1311.0L1466.0 1311.1L1466.8 1311.9L1467.6 1312.3L1468.4 1312.7L1469.2 1313.9L1470.0 1314.6L1470.8 1315.2L1471.6 1315.5L1472.4 1315.3L1473.2 1315.3L1474.0 1315.6L1474.8 1315.9L1475.6 1316.3L1476.4 1315.7L1477.2 1315.1L1478.0 1315.1L1478.8 1314.7L1479.6 1314.1L1480.4 1314.0L1481.2 1313.0L1482.0 1313.1L1482.8 1313.2L1483.6 1312.6L1484.4 1311.7L1485.2 1310.3L1486.0 1309.5L1486.8 1307.8L1487.6 1305.0L1488.4 1302.0L1489.2 1298.5L1490.0 1296.1L1490.4 1296.0L1490.8 1296.5L1491.6 1299.0L1492.4 1302.4L1493.2 1305.9L1494.0 1307.7L1494.8 1308.0L1495.6 1308.2L1496.4 1307.7L1497.2 1304.4L1498.0 1296.6L1498.8 1284.2L1499.6 1267.8L1500.4 1253.3L1500.9 1249.7L1501.2 1251.0L1502.0 1264.7L1502.8 1281.6L1503.6 1296.0L1504.4 1304.9L1505.2 1310.1L1506.0 1312.6L1506.8 1313.7L1507.6 1314.8L1508.4 1315.5L1509.2 1316.2L1510.0 1315.7L1510.8 1315.7L1511.6 1315.1L1512.4 1313.8L1513.2 1313.0L1514.0 1313.3L1514.8 1312.5L1515.6 1311.3L1516.4 1310.8L1517.2 1308.5L1518.0 1305.7L1518.8 1303.2L1519.6 1301.0L1520.2 1300.4L1520.4 1300.6L1521.2 1302.8L1522.0 1305.7L1522.8 1309.5L1523.6 1313.0L1524.4 1316.2L1525.2 1317.3L1526.0 1318.0L1526.8 1319.0L1527.6 1319.6L1528.4 1320.4L1529.2 1320.7L1530.0 1321.2L1530.8 1321.4L1531.6 1321.3L1532.4 1321.2L1533.2 1321.1L1534.0 1321.0L1534.8 1321.4L1535.6 1321.5L1536.4 1321.6L1537.2 1321.7L1538.0 1321.8L1538.8 1321.6L1539.6 1321.6L1540.4 1322.0L1541.2 1321.5L1542.0 1320.3L1542.8 1319.7L1543.6 1318.8L1544.4 1317.3L1545.2 1316.0L1546.0 1314.0L1546.8 1311.6L1547.6 1307.7L1548.4 1304.5L1549.2 1302.4L1549.3 1302.3L1550.0 1303.9L1550.8 1306.9L1551.6 1310.5L1552.4 1313.1L1553.2 1314.6L1554.0 1316.7L1554.8 1317.3L1555.6 1317.9L1556.4 1318.3L1557.2 1318.9L1558.0 1318.9L1558.8 1318.9L1559.6 1319.0L1560.4 1317.7L1561.2 1316.4L1562.0 1315.1L1562.8 1313.7L1563.6 1310.1L1564.4 1305.8L1565.2 1300.3L1566.0 1294.1L1566.8 1289.1L1567.4 1287.4L1567.6 1287.9L1568.4 1292.0L1569.2 1297.8L1570.0 1304.4L1570.8 1309.4L1571.6 1313.6L1572.4 1316.1L1573.2 1317.7L1574.0 1319.3L1574.8 1321.3L1575.6 1321.8L1576.4 1322.1L1577.2 1323.2L1578.0 1322.8L1578.8 1323.0L1579.6 1324.1L1580.4 1324.4L1581.2 1324.9L1582.0 1324.9L1582.8 1325.3L1583.6 1325.4L1584.4 1325.5L1585.2 1325.5L1586.0 1325.0L1586.8 1325.0L1587.6 1325.1L1588.4 1324.9L1589.2 1324.8L1590.0 1324.5L1590.8 1323.5L1591.6 1322.9L1592.4 1323.1L1593.2 1323.2L1594.0 1322.0L1594.8 1320.9L1595.6 1319.7L1596.4 1318.9L1597.2 1318.8L1598.0 1318.2L1598.8 1316.6L1599.6 1315.0L1600.4 1312.5L1601.2 1309.3L1602.0 1305.5L1602.8 1300.2L1603.6 1293.4L1604.4 1284.6L1605.2 1275.8L1606.0 1269.3L1606.4 1267.8L1606.8 1268.8L1607.6 1276.0L1608.4 1286.7L1609.2 1296.5L1610.0 1303.2L1610.8 1308.1L1611.6 1312.1L1612.4 1315.2L1613.2 1317.3L1614.0 1318.5L1614.8 1319.1L1615.6 1319.4L1616.4 1319.0L1617.2 1317.4L1618.0 1314.3L1618.8 1309.7L1619.6 1302.9L1620.4 1297.9L1620.7 1297.9L1621.2 1300.2L1622.0 1307.1L1622.8 1313.5L1623.6 1318.5L1624.4 1321.9L1625.2 1323.1L1626.0 1324.2L1626.8 1324.6L1627.6 1324.6L1628.4 1324.2L1629.2 1323.1L1630.0 1321.5L1630.8 1318.9L1631.6 1316.7L1632.0 1316.2L1632.4 1316.5L1633.2 1319.2L1634.0 1321.9L1634.8 1323.4L1635.6 1324.2L1636.4 1325.2L1637.2 1325.2L1638.0 1325.7L1638.8 1326.4L1639.6 1327.4L1640.4 1328.1L1641.2 1328.3L1642.0 1327.5L1642.8 1327.5L1643.6 1327.3L1644.4 1327.9L1645.2 1328.0L1646.0 1326.6L1646.8 1325.5L1647.6 1323.6L1648.4 1322.7L1649.2 1321.4L1650.0 1319.2L1650.8 1318.0L1651.0 1318.3L1651.6 1318.9L1652.4 1320.1L1653.2 1321.8L1654.0 1323.6L1654.8 1325.4L1655.6 1326.5L1656.4 1326.8L1657.2 1327.4L1658.0 1327.7L1658.8 1328.2L1659.6 1328.6L1660.4 1328.1L1661.2 1327.8L1662.0 1327.6L1662.8 1327.4L1663.6 1327.5L1664.4 1328.1L1665.2 1328.7L1666.0 1329.3L1666.8 1329.7L1667.6 1330.5L1668.4 1330.8L1669.2 1330.9L1670.0 1331.2L1670.8 1331.7L1671.6 1333.5L1672.4 1333.9L1673.2 1334.1L1674.0 1335.0L1674.8 1335.2L1675.6 1335.2L1676.4 1335.3L1677.2 1335.1L1678.0 1334.9L1678.8 1333.9L1679.6 1332.9L1680.4 1332.3L1681.2 1331.3L1682.0 1330.8L1682.8 1331.0L1683.6 1330.7L1684.4 1329.0L1685.2 1328.4L1686.0 1328.4L1686.8 1328.3L1687.6 1327.1L1688.4 1326.1L1689.2 1324.7L1690.0 1324.4L1690.1 1323.9L1690.8 1324.3L1691.6 1326.3L1692.4 1328.8L1693.2 1330.6L1694.0 1332.3L1694.8 1333.2L1695.6 1333.8L1696.4 1335.0L1697.2 1336.2L1698.0 1337.2L1698.8 1337.4L1699.6 1337.2L1700.4 1337.1L1701.2 1337.3L1702.0 1336.5L1702.8 1336.3L1703.6 1336.3L1704.4 1336.7L1705.2 1336.8L1706.0 1336.2L1706.8 1336.4L1707.6 1335.2L1708.4 1334.5L1709.2 1332.6L1710.0 1330.4L1710.8 1327.0L1711.6 1322.9L1712.4 1317.6L1713.2 1311.7L1714.0 1305.3L1714.8 1302.9L1714.9 1303.4L1715.6 1304.8L1716.4 1310.4L1717.2 1317.0L1718.0 1322.1L1718.8 1327.4L1719.6 1331.3L1720.4 1333.5L1721.2 1334.9L1722.0 1336.8L1722.8 1338.3L1723.6 1339.1L1724.4 1339.3L1725.2 1339.7L1726.0 1339.8L1726.8 1339.4L1727.6 1339.1L1728.4 1338.6L1729.2 1338.1L1730.0 1337.7L1730.4 1338.2L1730.8 1337.9L1731.6 1338.2L1732.4 1338.7L1733.2 1339.9L1734.0 1340.1L1734.8 1339.4L1735.6 1339.0L1736.4 1338.7L1737.2 1338.1L1738.0 1337.1L1738.8 1336.8L1739.6 1336.2L1740.4 1335.8L1741.2 1334.7L1742.0 1333.4L1742.8 1332.1L1743.6 1329.2L1744.4 1324.4L1745.2 1317.1L1746.0 1307.9L1746.8 1300.3L1747.3 1299.0L1747.6 1300.1L1748.4 1308.7L1749.2 1319.4L1750.0 1328.7L1750.8 1334.9L1751.6 1338.9L1752.4 1340.8L1753.2 1342.3L1754.0 1343.0L1754.8 1343.6L1755.6 1343.4L1756.4 1341.7L1757.2 1340.6L1758.0 1339.7L1758.8 1337.9L1759.6 1337.1L1760.4 1336.1L1761.2 1334.7L1762.0 1332.5L1762.8 1330.0L1763.6 1328.1L1764.4 1327.2L1764.9 1327.4L1765.2 1328.0L1766.0 1330.2L1766.8 1333.2L1767.6 1335.9L1768.4 1338.2L1769.2 1340.1L1770.0 1341.3L1770.8 1342.5L1771.6 1343.7L1772.4 1345.2L1773.2 1344.8L1774.0 1345.6L1774.8 1346.2L1775.6 1346.2L1776.4 1346.1L1777.2 1345.4L1778.0 1344.7L1778.8 1344.5L1779.6 1344.0L1780.4 1343.1L1781.2 1342.6L1782.0 1341.9L1782.8 1342.2L1783.6 1342.1L1784.4 1340.9L1785.2 1340.6L1786.0 1340.4L1786.8 1338.5L1787.6 1337.3L1788.4 1336.0L1789.2 1334.6L1790.0 1333.2L1790.8 1331.1L1791.6 1329.7L1791.9 1329.9L1792.4 1329.9L1793.2 1332.6L1794.0 1336.7L1794.8 1340.0L1795.6 1342.1L1796.4 1343.6L1797.2 1344.7L1798.0 1345.9L1798.8 1346.4L1799.6 1347.1L1800.4 1346.9L1801.2 1346.5L1802.0 1345.4L1802.8 1345.1L1803.6 1344.3L1804.4 1342.5L1805.2 1341.5L1806.0 1340.0L1806.8 1337.9L1807.6 1336.7L1807.8 1336.6L1808.4 1336.4L1809.2 1337.9L1810.0 1339.9L1810.8 1340.2L1811.6 1340.8L1812.4 1341.4L1813.2 1342.6L1814.0 1342.5L1814.8 1342.7L1815.6 1343.4L1816.4 1344.1L1817.2 1345.6L1818.0 1346.0L1818.8 1346.1L1819.6 1346.6L1820.4 1348.1L1821.2 1349.1L1822.0 1350.3L1822.8 1350.7L1823.6 1350.8L1824.4 1351.5L1825.2 1351.2L1826.0 1350.5L1826.8 1349.9L1827.6 1349.1L1828.4 1348.2L1829.2 1347.1L1830.0 1345.0L1830.8 1343.3L1831.6 1341.8L1832.4 1341.6L1832.4 1341.4L1833.2 1341.8L1834.0 1342.2L1834.8 1343.4L1835.6 1345.5L1836.4 1346.3L1837.2 1346.9L1838.0 1348.1L1838.8 1348.9L1839.6 1348.7L1840.4 1348.8L1841.2 1348.6L1842.0 1348.8L1842.8 1349.1L1843.6 1348.9L1844.4 1348.2L1845.2 1347.1L1846.0 1345.9L1846.8 1345.1L1846.9 1345.4L1847.6 1345.8L1848.4 1347.6L1849.2 1349.2L1850.0 1349.6L1850.8 1349.5L1851.6 1349.2L1852.4 1348.6L1853.2 1347.5L1854.0 1345.7L1854.8 1343.9L1855.6 1341.3L1856.4 1338.6L1857.2 1337.2L1857.2 1336.8L1858.0 1337.5L1858.8 1339.7L1859.6 1343.2L1860.4 1345.9L1861.2 1347.5L1862.0 1348.3L1862.8 1349.9L1863.6 1350.5L1864.4 1351.6L1865.2 1353.0L1866.0 1353.7L1866.8 1354.5L1867.6 1355.6L1868.4 1356.3L1869.2 1357.1L1870.0 1357.7L1870.8 1357.1L1871.6 1357.1L1872.4 1358.0L1873.2 1358.1L1874.0 1357.8L1874.8 1357.4L1875.6 1356.6L1876.4 1356.2L1877.2 1354.7L1878.0 1353.4L1878.8 1352.5L1879.6 1350.4L1880.4 1348.4L1881.2 1347.2L1881.5 1347.8L1882.0 1348.2L1882.8 1349.2L1883.6 1351.5L1884.4 1353.7L1885.2 1355.0L1886.0 1356.1L1886.8 1357.8L1887.6 1358.0L1888.4 1357.2L1889.2 1357.4L1890.0 1358.3L1890.8 1358.1L1891.6 1357.6L1892.4 1358.7L1893.2 1359.9L1894.0 1360.9L1894.8 1361.8L1895.6 1362.7L1896.4 1363.8L1897.2 1364.4L1898.0 1364.2L1898.8 1364.9L1899.6 1364.9L1900.4 1364.8L1901.2 1365.3L1902.0 1365.3L1902.8 1365.2L1903.6 1365.2L1904.4 1365.1L1905.2 1365.4L1906.0 1365.8L1906.8 1365.6L1907.6 1364.9L1908.4 1364.9L1909.2 1365.2L1910.0 1364.9L1910.8 1365.1L1911.6 1365.9L1912.4 1365.6L1913.2 1365.8L1914.0 1365.9L1914.8 1366.6L1915.6 1367.1L1916.4 1367.1L1917.2 1367.5L1918.0 1368.1L1918.8 1368.3L1919.6 1368.7L1920.4 1369.3L1921.2 1369.5L1922.0 1369.5L1922.8 1369.8L1923.6 1369.3L1924.4 1369.5L1925.2 1370.4L1926.0 1370.7L1926.8 1370.1L1927.6 1369.6L1928.4 1369.8L1929.2 1370.2L1930.0 1370.0L1930.8 1369.2L1931.6 1367.7L1932.4 1365.0L1933.2 1361.5L1934.0 1355.9L1934.8 1347.9L1935.6 1340.5L1936.1 1338.6L1936.4 1339.1L1937.2 1346.7L1938.0 1355.2L1938.8 1362.3L1939.6 1365.7L1940.4 1367.4L1941.2 1367.3L1942.0 1365.2L1942.8 1362.0L1943.6 1356.0L1944.4 1347.4L1945.2 1337.1L1946.0 1329.2L1946.4 1327.9L1946.8 1328.1L1947.6 1332.8L1948.4 1339.7L1949.2 1345.7L1950.0 1349.5L1950.8 1352.8L1951.6 1355.9L1952.4 1358.1L1953.2 1361.4L1954.0 1365.1L1954.8 1368.0L1955.6 1369.7L1956.4 1370.5L1957.2 1371.2L1958.0 1370.9L1958.8 1370.0L1959.6 1370.0L1960.4 1369.5L1961.2 1369.1L1962.0 1369.3L1962.8 1369.1L1963.6 1368.2L1964.4 1368.2L1965.2 1367.5L1966.0 1367.2L1966.8 1367.0L1967.6 1366.4L1968.4 1366.0L1969.2 1365.6L1970.0 1364.9L1970.8 1363.5L1971.6 1361.9L1972.4 1359.8L1973.2 1357.6L1974.0 1354.5L1974.8 1350.8L1975.6 1348.8L1976.2 1348.7L1976.4 1348.6L1977.2 1350.3L1978.0 1353.0L1978.8 1355.8L1979.6 1358.3L1980.4 1360.4L1981.2 1361.8L1982.0 1362.5L1982.8 1363.6L1983.6 1365.1L1984.4 1365.2L1985.2 1365.7L1986.0 1366.7L1986.8 1368.1L1987.6 1368.9L1988.4 1369.6L1989.2 1369.9L1990.0 1370.8L1990.8 1370.7L1991.6 1370.7L1992.4 1371.3L1993.2 1371.4L1994.0 1370.8L1994.8 1369.6L1995.6 1369.5L1996.4 1369.5L1997.2 1368.8L1998.0 1368.2L1998.8 1368.7L1999.6 1368.8L2000.4 1368.4L2001.2 1367.7L2002.0 1367.5L2002.8 1367.5L2003.6 1366.6L2004.4 1365.7L2005.2 1364.5L2006.0 1363.5L2006.8 1363.3L2006.9 1363.1L2007.6 1364.2L2008.4 1366.0L2009.2 1367.3L2010.0 1368.5L2010.8 1370.3L2011.6 1372.1L2012.4 1373.0L2013.2 1373.1L2014.0 1373.5L2014.8 1373.6L2015.6 1373.4L2016.4 1373.5L2017.2 1373.2L2018.0 1372.8L2018.8 1371.2L2019.6 1370.1L2020.4 1368.9L2021.2 1368.3L2021.2 1367.7L2022.0 1367.9L2022.8 1369.7L2023.6 1371.1L2024.4 1371.9L2025.2 1373.0L2026.0 1373.6L2026.8 1374.5L2027.6 1375.7L2028.4 1375.9L2029.2 1376.0L2030.0 1376.4L2030.8 1376.6L2031.6 1377.2L2032.4 1377.6L2033.2 1377.6L2034.0 1378.3L2034.8 1379.2L2035.6 1379.1L2036.4 1379.4L2037.2 1380.6L2038.0 1381.2L2038.8 1381.1L2039.6 1381.4L2040.4 1380.9L2041.2 1380.9L2042.0 1381.4L2042.8 1381.8L2043.6 1381.1L2044.4 1381.0L2045.2 1380.7L2046.0 1379.8L2046.8 1379.7L2047.6 1379.9L2048.4 1379.2L2049.2 1377.8L2050.0 1376.3L2050.8 1376.3L2051.5 1376.4L2051.6 1375.9L2052.4 1376.6L2053.2 1377.2L2054.0 1377.9L2054.8 1379.5L2055.6 1380.4L2056.4 1380.2L2057.2 1380.7L2058.0 1380.7L2058.8 1380.7L2059.6 1380.7L2060.4 1380.5L2061.2 1380.3L2062.0 1380.1L2062.8 1379.4L2063.6 1379.0L2064.4 1378.0L2065.2 1377.1L2066.0 1376.9L2066.8 1376.8L2067.6 1376.0L2068.4 1374.7L2069.2 1372.2L2070.0 1370.1L2070.8 1367.3L2071.6 1364.1L2072.4 1361.5L2072.8 1360.8L2073.2 1361.9L2074.0 1365.7L2074.8 1369.8L2075.6 1372.8L2076.4 1376.2L2077.2 1377.9L2078.0 1379.2L2078.8 1380.0L2079.6 1381.3L2080.4 1382.6L2081.2 1383.3L2082.0 1383.2L2082.8 1383.3L2083.6 1384.1L2084.4 1384.2L2085.2 1384.4L2086.0 1384.7L2086.8 1384.2L2087.6 1384.9L2088.4 1384.4L2089.2 1385.0L2090.0 1385.5L2090.8 1385.1L2091.6 1385.1L2092.4 1384.3L2093.2 1384.5L2094.0 1384.3L2094.8 1383.9L2095.6 1384.1L2095.8 1383.8L2096.4 1384.3L2097.2 1385.6L2098.0 1385.9L2098.8 1385.4L2099.6 1385.3L2100.4 1385.8L2101.2 1386.3L2102.0 1386.9L2102.8 1386.8L2103.6 1386.9L2104.4 1386.3L2105.2 1386.1L2106.0 1386.9L2106.8 1386.4L2107.6 1385.7L2108.4 1385.9L2109.2 1386.1L2110.0 1385.2L2110.8 1384.7L2111.6 1384.7L2112.4 1385.4L2113.2 1385.4L2114.0 1383.9L2114.8 1383.2L2115.6 1382.9L2116.4 1382.8L2117.2 1382.8L2118.0 1382.0L2118.8 1381.3L2119.6 1381.0L2120.4 1379.9L2121.2 1378.2L2122.0 1376.7L2122.8 1374.5L2123.6 1372.6L2123.6 1372.3L2124.4 1375.6L2125.2 1379.7L2126.0 1382.9L2126.8 1384.8L2127.6 1386.1L2128.4 1386.9L2129.2 1386.9L2130.0 1386.8L2130.8 1386.7L2131.6 1386.5L2132.4 1386.7L2133.2 1386.9L2134.0 1386.5L2134.8 1386.6L2135.6 1387.3L2136.4 1387.5L2137.2 1388.6L2138.0 1389.1L2138.8 1389.2L2139.6 1389.5L2140.4 1389.8L2141.2 1389.8L2142.0 1391.2L2142.8 1391.8L2143.6 1391.4L2144.4 1391.4L2145.2 1391.3L2146.0 1391.5L2146.8 1391.8L2147.6 1391.3L2148.4 1390.4L2149.2 1390.3L2150.0 1390.3L2150.8 1389.6L2151.6 1389.3L2152.4 1389.4L2153.2 1389.6L2154.0 1389.2L2154.8 1388.2L2155.6 1388.4L2156.4 1388.6L2157.2 1387.7L2158.0 1387.2L2158.8 1387.0L2159.4 1387.0L2159.6 1386.8L2160.4 1387.2L2161.2 1388.7L2162.0 1389.6L2162.8 1390.1L2163.6 1390.9L2164.4 1391.0L2165.2 1391.0L2166.0 1391.4L2166.8 1392.0L2167.6 1392.0L2168.4 1390.7L2169.2 1388.5L2169.8 1387.3L2170.0 1387.6L2170.8 1389.6L2171.6 1392.5L2172.4 1394.0L2173.2 1393.6L2174.0 1394.8L2174.8 1396.3L2175.6 1397.4L2176.4 1397.2L2177.2 1397.3L2178.0 1397.6L2178.8 1397.1L2179.6 1396.8L2180.4 1396.7L2181.2 1397.1L2182.0 1396.8L2182.8 1397.4L2183.6 1397.7L2184.4 1398.1L2185.2 1398.6L2186.0 1398.8L2186.8 1398.5L2187.6 1398.1L2188.4 1398.2L2189.2 1397.7L2190.0 1397.4L2190.8 1397.5L2191.6 1397.5L2192.4 1398.3L2193.2 1398.3L2194.0 1398.3L2194.8 1398.8L2195.6 1398.9L2196.4 1398.0L2197.2 1398.0L2198.0 1398.3L2198.8 1398.0L2199.6 1398.2L2200.4 1398.0L2201.2 1398.2L2202.0 1398.5L2202.8 1398.3L2203.6 1397.7L2204.4 1398.4L2205.2 1399.3L2206.0 1399.1L2206.8 1399.3L2207.6 1400.0L2208.4 1400.4L2209.2 1400.5L2210.0 1401.4L2210.8 1401.7L2211.6 1401.4L2212.4 1400.9L2213.2 1400.5L2214.0 1399.9L2214.8 1399.9L2215.6 1398.6L2216.4 1396.3L2217.2 1394.8L2218.0 1393.0L2218.8 1390.6L2219.6 1388.0L2220.4 1387.2L2220.6 1387.2L2221.2 1387.7L2222.0 1389.7L2222.8 1392.5L2223.6 1394.1L2224.4 1395.6L2225.2 1398.3L2226.0 1401.0L2226.8 1402.0L2227.6 1401.5L2228.4 1401.8L2229.2 1402.9L2230.0 1402.9L2230.8 1403.8L2231.6 1404.0L2232.4 1404.3L2233.2 1404.5L2234.0 1404.8L2234.8 1405.2L2235.6 1405.3L2236.4 1405.4L2237.2 1405.6L2238.0 1406.1L2238.8 1407.1L2239.6 1406.7L2240.4 1405.6L2241.2 1405.6L2242.0 1405.5L2242.8 1404.2L2243.6 1403.8L2244.4 1403.2L2245.2 1402.7L2246.0 1402.5L2246.8 1400.8L2247.6 1397.8L2248.4 1395.2L2248.7 1394.5L2249.2 1396.0L2250.0 1399.9L2250.8 1402.3L2251.6 1404.0L2252.4 1403.9L2253.2 1403.4L2254.0 1402.8L2254.8 1401.1L2255.6 1398.4L2256.3 1396.4L2256.4 1396.7L2257.2 1398.9L2258.0 1401.4L2258.8 1403.1L2259.6 1404.0L2260.4 1404.3L2261.2 1404.4L2262.0 1405.2L2262.8 1406.1L2263.6 1406.4L2264.4 1406.9L2265.2 1406.8L2266.0 1407.4L2266.8 1408.0L2267.6 1408.3L2268.4 1408.5L2269.2 1409.1L2270.0 1409.5L2270.8 1409.6L2271.6 1409.4L2272.4 1409.1L2273.2 1409.0L2274.0 1408.7L2274.8 1409.6L2275.6 1409.6L2276.4 1409.3L2277.2 1408.8L2278.0 1409.2L2278.8 1409.2L2279.6 1409.2L2280.4 1409.0L2281.2 1409.7L2282.0 1410.1L2282.8 1410.7L2283.6 1410.5L2284.4 1410.0L2285.2 1410.5L2286.0 1411.4L2286.8 1411.2L2287.6 1411.1L2288.4 1411.8L2289.2 1412.3L2290.0 1412.8L2290.8 1413.1L2291.6 1412.9L2292.4 1413.3L2293.2 1414.0L2294.0 1414.9L2294.8 1415.2L2295.6 1415.4L2296.4 1415.9L2297.2 1415.6L2298.0 1416.0L2298.8 1416.6L2299.6 1417.1L2300.4 1417.0L2301.2 1417.7L2302.0 1417.1L2302.8 1417.5L2303.6 1417.3L2304.4 1417.1L2305.2 1416.9L2306.0 1416.0L2306.8 1415.0L2307.6 1413.7L2308.3 1412.6L2308.4 1411.9L2309.2 1413.5L2310.0 1415.6L2310.8 1417.0L2311.6 1418.2L2312.4 1418.8L2313.2 1419.4L2314.0 1420.0L2314.8 1420.1L2315.6 1419.5L2316.4 1419.7L2317.2 1420.2L2318.0 1419.3L2318.8 1419.0L2319.6 1419.3L2320.4 1420.3L2321.2 1420.2L2322.0 1419.6L2322.8 1419.8L2323.6 1419.6L2324.4 1419.8L2325.2 1419.8L2326.0 1419.8L2326.8 1420.3L2327.6 1420.3L2328.4 1419.8L2329.2 1419.4L2330.0 1419.8L2330.8 1420.1L2331.6 1420.1L2332.4 1420.0L2333.2 1420.2L2334.0 1419.9L2334.8 1419.2L2335.6 1418.9L2336.4 1417.8L2337.0 1417.8L2337.2 1418.5L2338.0 1418.7L2338.8 1419.2L2339.6 1419.7L2340.4 1420.4L2341.2 1421.2L2342.0 1422.0L2342.8 1422.6L2343.6 1422.5L2344.4 1422.7L2345.2 1423.5L2346.0 1424.3L2346.8 1424.0L2347.6 1423.8L2348.4 1424.6L2349.2 1424.2L2350.0 1424.6L2350.8 1425.5L2351.6 1425.5L2352.4 1425.9L2353.2 1426.2L2354.0 1426.4L2354.8 1426.9L2355.6 1427.1L2356.4 1426.8L2357.2 1426.5L2357.4 1427.3" stroke="#0000ff" stroke-width="2.5" style="stroke-linejoin:miter;stroke-miterlimit:3"/>
<path class="c" d="M391.6 1010.3L392.4 1011.3L393.2 1011.8L394.0 1012.7L394.8 1013.6L395.6 1014.2L396.4 1015.0L397.2 1015.6L398.0 1016.0L398.8 1015.7L399.6 1016.0L400.4 1016.7L401.2 1017.8L402.0 1018.7L402.8 1019.8L403.6 1020.4L404.4 1021.3L405.2 1022.7L406.0 1023.0L406.8 1023.1L407.6 1023.7L408.4 1025.0L409.2 1025.7L410.0 1025.6L410.8 1026.5L411.6 1026.8L412.4 1026.6L413.2 1027.4L414.0 1028.2L414.8 1027.8L415.6 1028.7L416.4 1029.6L417.2 1029.1L418.0 1029.3L418.8 1029.9L419.6 1030.4L420.4 1030.5L421.2 1030.5L422.0 1031.3L422.8 1032.3L423.6 1033.0L424.4 1034.0L425.2 1034.2L426.0 1034.4L426.8 1035.1L427.6 1034.6L428.4 1034.2L429.2 1034.5L430.0 1034.6L430.8 1035.1L431.6 1035.2L432.4 1034.9L433.2 1034.7L434.0 1034.6L434.8 1034.9L435.6 1033.7L436.4 1030.5L437.2 1025.4L438.0 1015.8L438.8 998.9L439.6 971.8L440.4 932.0L441.2 879.2L442.0 818.4L442.8 757.9L443.6 709.9L444.4 688.4L444.5 688.1L445.2 702.4L446.0 746.1L446.8 805.2L447.6 867.9L448.4 924.2L449.2 968.0L450.0 998.3L450.8 1018.0L451.6 1029.5L452.4 1036.3L453.2 1039.8L454.0 1042.2L454.8 1044.0L455.6 1044.7L456.4 1045.9L457.2 1047.5L458.0 1048.4L458.8 1048.7L459.6 1048.7L460.4 1050.2L461.2 1050.9L462.0 1051.0L462.8 1051.1L463.6 1052.5L464.4 1053.4L465.2 1053.5L466.0 1053.7L466.8 1053.4L467.6 1053.6L468.4 1053.8L469.2 1054.1L470.0 1054.7L470.8 1055.0L471.6 1055.4L472.4 1055.8L473.2 1056.2L474.0 1056.5L474.8 1056.7L475.6 1056.6L476.4 1056.8L477.2 1056.6L478.0 1056.8L478.8 1056.6L479.6 1055.6L480.4 1055.9L481.2 1056.2L482.0 1055.5L482.8 1054.6L483.6 1053.7L484.4 1052.3L485.2 1049.0L486.0 1042.6L486.8 1030.6L487.6 1010.7L488.4 980.2L489.2 938.6L490.0 888.8L490.8 837.4L491.6 793.8L492.4 769.4L492.7 767.6L493.2 772.8L494.0 803.3L494.8 850.5L495.6 903.2L496.4 951.5L497.2 990.0L498.0 1017.5L498.8 1035.8L499.6 1047.1L500.4 1053.8L501.2 1056.9L502.0 1059.2L502.8 1060.6L503.6 1060.9L504.4 1061.2L505.2 1061.4L506.0 1062.4L506.8 1063.2L507.6 1063.1L508.4 1063.6L509.2 1064.0L510.0 1063.9L510.8 1063.8L511.6 1064.0L512.4 1063.9L513.2 1064.3L514.0 1065.1L514.8 1064.3L515.6 1064.0L516.4 1064.2L517.2 1064.4L518.0 1064.3L518.8 1063.6L519.6 1063.2L520.4 1063.4L521.2 1064.0L522.0 1064.0L522.8 1063.3L523.6 1063.1L524.4 1063.1L525.2 1062.5L526.0 1062.5L526.8 1062.5L527.6 1061.7L528.4 1061.8L529.2 1061.7L530.0 1061.0L530.8 1061.2L531.6 1060.8L532.4 1060.4L533.2 1060.5L534.0 1060.1L534.8 1059.5L535.6 1059.0L536.4 1058.5L537.2 1058.3L538.0 1058.1L538.8 1058.0L539.6 1057.3L540.4 1056.8L541.2 1056.3L542.0 1055.9L542.8 1055.4L543.6 1055.2L544.4 1054.1L545.2 1052.7L546.0 1052.4L546.8 1052.0L547.6 1051.7L548.4 1050.9L549.2 1050.4L550.0 1049.7L550.8 1048.5L551.6 1047.8L552.4 1047.2L553.2 1046.6L554.0 1047.3L554.8 1045.8L555.6 1043.9L556.4 1042.8L557.2 1041.9L558.0 1039.8L558.8 1036.7L559.6 1034.4L559.9 1034.5L560.4 1034.7L561.2 1036.2L562.0 1037.4L562.8 1038.1L563.6 1037.6L564.4 1037.8L565.2 1037.2L566.0 1036.7L566.8 1036.4L567.6 1034.9L568.4 1034.2L569.2 1033.5L570.0 1032.7L570.8 1030.9L571.6 1030.2L572.4 1029.4L573.2 1028.1L574.0 1027.0L574.8 1025.6L575.6 1024.0L576.4 1022.8L577.2 1021.4L578.0 1020.9L578.8 1019.6L579.6 1017.5L580.4 1016.4L581.2 1014.4L582.0 1012.1L582.8 1010.5L583.6 1009.0L584.4 1006.3L585.2 1002.8L586.0 998.3L586.8 990.1L587.6 976.0L588.4 952.4L589.2 915.3L590.0 859.1L590.8 782.6L591.6 691.4L592.4 596.3L593.2 515.4L594.0 470.1L594.3 466.7L594.8 476.2L595.6 529.9L596.4 614.1L597.2 708.1L598.0 793.5L598.8 861.7L599.6 911.5L600.4 942.7L601.2 960.6L602.0 970.6L602.8 975.5L603.6 978.2L604.4 979.1L605.2 979.0L606.0 979.6L606.8 979.4L607.6 978.2L608.4 978.7L609.2 978.3L610.0 977.3L610.8 975.9L611.6 973.3L612.4 971.1L612.8 970.9L613.2 971.0L614.0 971.9L614.8 972.3L615.6 973.7L616.4 974.9L617.2 974.3L618.0 973.7L618.8 972.8L619.6 971.8L620.4 971.2L621.2 970.3L622.0 968.8L622.8 967.8L623.6 966.9L624.4 965.2L625.2 964.1L626.0 963.6L626.8 962.5L627.6 960.9L628.4 960.0L629.2 958.6L630.0 956.9L630.8 955.3L631.6 954.2L632.4 952.5L633.2 951.3L634.0 950.2L634.8 949.5L635.6 948.1L636.4 946.8L637.2 946.2L638.0 945.4L638.8 943.3L639.6 940.9L640.4 939.9L641.2 938.7L642.0 937.1L642.8 936.1L643.6 935.8L644.4 934.7L645.2 933.5L646.0 932.1L646.8 930.7L647.6 929.1L648.4 927.7L648.5 927.3L649.2 926.6L650.0 926.7L650.8 926.7L651.6 926.4L652.4 926.2L653.2 925.6L654.0 925.2L654.8 924.2L655.6 924.1L656.4 923.9L657.2 922.9L658.0 921.7L658.8 921.2L659.6 920.2L660.4 919.2L661.2 917.8L662.0 916.2L662.8 915.7L663.6 914.7L664.4 913.3L665.2 911.4L666.0 910.0L666.8 907.7L667.6 904.8L668.4 901.4L669.2 896.2L670.0 887.2L670.8 873.0L671.6 849.9L672.4 816.8L673.2 773.5L674.0 724.0L674.8 676.1L675.6 640.4L676.4 626.7L676.4 626.6L677.2 638.1L678.0 672.8L678.8 718.8L679.6 765.0L680.4 805.6L681.2 836.4L682.0 857.5L682.8 870.2L683.6 876.8L684.4 880.1L685.2 881.3L686.0 881.4L686.8 880.4L687.6 881.0L688.4 880.7L689.2 879.3L690.0 878.8L690.8 878.3L691.6 877.1L692.4 876.1L693.2 875.6L694.0 874.4L694.8 872.6L695.6 871.6L696.4 870.3L697.2 868.4L698.0 867.4L698.8 866.5L699.6 864.5L700.4 862.6L701.2 860.5L702.0 856.8L702.8 852.7L703.6 848.6L704.2 846.2L704.4 845.0L705.2 846.0L706.0 848.4L706.8 849.7L707.6 849.4L708.4 847.9L709.2 846.1L710.0 843.2L710.8 841.6L711.6 840.3L712.4 838.6L713.2 835.6L714.0 831.2L714.8 825.1L715.6 813.6L716.4 795.1L717.2 766.8L718.0 726.2L718.8 676.8L719.6 621.1L720.4 568.9L721.2 533.0L721.8 523.9L722.0 524.7L722.8 545.9L723.6 589.2L724.4 643.1L725.2 694.7L726.0 736.6L726.8 764.2L727.6 777.2L728.4 776.2L729.2 763.3L730.0 742.5L730.8 718.2L731.6 695.2L732.4 680.4L732.9 677.3L733.2 678.6L734.0 691.9L734.8 714.7L735.6 741.4L736.4 767.6L737.2 788.8L738.0 804.0L738.8 814.5L739.6 820.8L740.4 823.8L741.2 825.0L742.0 824.7L742.8 823.4L743.6 822.4L744.4 819.7L745.2 815.0L746.0 809.4L746.8 805.0L747.6 802.4L747.7 802.4L748.4 801.7L749.2 802.7L750.0 805.3L750.8 806.7L751.6 806.3L752.4 804.6L753.2 801.8L754.0 798.7L754.8 795.0L755.6 792.5L756.4 790.4L757.2 789.4L757.6 788.4L758.0 787.9L758.8 788.5L759.6 790.2L760.4 792.2L761.2 795.3L762.0 798.4L762.8 801.3L763.6 804.1L764.4 806.9L765.2 810.0L766.0 811.7L766.8 812.7L767.6 814.2L768.4 814.8L769.2 815.9L770.0 816.8L770.8 817.0L771.6 817.6L772.4 818.7L773.2 819.4L774.0 820.0L774.8 820.3L775.6 820.4L776.4 821.0L777.2 821.3L778.0 821.7L778.8 821.4L779.6 820.9L780.4 819.6L781.2 816.8L782.0 811.4L782.8 802.7L783.6 789.9L784.4 773.0L785.2 754.7L786.0 736.5L786.8 723.6L787.5 720.4L787.6 720.6L788.4 727.9L789.2 743.8L790.0 763.1L790.8 783.1L791.6 799.4L792.4 812.4L793.2 822.1L794.0 827.9L794.8 831.2L795.6 832.9L796.4 834.6L797.2 835.8L798.0 836.7L798.8 837.5L799.6 838.0L800.4 837.9L801.2 836.7L802.0 834.2L802.8 829.8L803.6 820.8L804.4 803.6L805.2 773.4L806.0 726.8L806.8 661.4L807.6 579.8L808.4 491.5L809.2 411.7L810.0 361.2L810.5 352.3L810.8 356.1L811.6 399.4L812.4 476.7L813.2 567.9L814.0 655.4L814.8 728.2L815.6 781.9L816.4 818.6L817.2 841.3L818.0 854.6L818.8 862.2L819.6 867.4L820.4 871.6L821.2 874.6L822.0 877.1L822.8 880.1L823.6 881.9L824.4 883.7L825.2 885.6L826.0 886.8L826.8 888.1L827.6 890.2L828.4 891.9L829.2 893.7L830.0 895.2L830.8 896.2L831.6 898.0L832.4 900.4L833.2 902.2L834.0 903.2L834.8 904.6L835.6 906.2L836.4 908.0L837.2 910.1L838.0 911.1L838.8 911.4L839.6 912.6L840.4 914.2L841.2 915.2L842.0 916.3L842.8 916.8L843.6 916.5L844.4 915.6L845.2 913.8L846.0 910.6L846.8 905.4L847.6 901.7L847.8 902.0L848.4 904.3L849.2 912.4L850.0 920.4L850.8 925.9L851.6 928.8L852.4 931.6L853.2 933.7L854.0 934.8L854.8 936.9L855.6 938.5L856.4 939.7L857.2 941.3L858.0 942.1L858.8 943.0L859.6 944.3L860.4 944.7L861.2 945.1L862.0 944.4L862.8 944.4L863.6 943.0L864.4 940.2L865.2 935.4L866.0 927.8L866.8 916.7L867.6 904.8L868.4 897.9L868.6 897.8L869.2 902.0L870.0 914.1L870.8 926.7L871.6 936.2L872.4 943.8L873.2 949.1L874.0 952.6L874.8 955.0L875.6 955.5L876.4 954.6L877.2 952.0L877.7 952.9L878.0 955.3L878.8 962.5L879.6 965.3L880.4 958.4L881.2 939.2L882.0 902.9L882.8 841.8L883.6 755.0L884.4 644.7L885.2 521.4L886.0 407.0L886.8 329.3L887.4 311.0L887.6 313.0L888.4 365.6L889.2 468.6L890.0 593.2L890.8 715.6L891.6 818.5L892.4 894.7L893.2 943.6L894.0 970.9L894.8 980.3L895.6 975.8L896.4 956.8L897.2 924.6L898.0 879.3L898.8 823.4L899.6 765.8L900.4 718.2L901.2 695.3L901.4 694.5L902.0 703.7L902.8 741.0L903.6 795.1L904.4 853.8L905.2 906.3L906.0 948.0L906.8 978.0L907.6 996.6L908.4 1007.9L909.2 1014.4L910.0 1017.4L910.8 1018.6L911.6 1019.5L912.4 1020.1L913.2 1021.0L914.0 1021.9L914.8 1021.5L915.6 1020.0L916.4 1018.7L917.2 1017.8L918.0 1015.0L918.8 1011.9L919.6 1006.3L920.4 1000.0L921.2 993.3L922.0 990.6L922.0 990.4L922.8 996.4L923.6 1006.4L924.4 1016.1L925.2 1024.2L926.0 1029.2L926.8 1033.4L927.6 1037.7L928.4 1041.0L929.2 1042.2L930.0 1043.8L930.8 1045.6L931.6 1047.4L932.4 1048.9L933.2 1049.6L934.0 1050.6L934.8 1051.7L935.6 1053.0L936.4 1054.1L937.2 1055.2L938.0 1055.9L938.8 1056.6L939.6 1057.0L940.4 1058.1L941.2 1059.4L942.0 1060.5L942.8 1061.3L943.6 1062.7L944.4 1064.4L945.2 1065.3L946.0 1065.8L946.8 1066.8L947.6 1067.9L948.4 1068.9L949.2 1069.6L950.0 1070.4L950.8 1071.4L951.6 1072.0L952.4 1073.5L953.2 1074.6L954.0 1075.1L954.8 1075.0L955.6 1076.0L956.4 1077.1L957.2 1077.5L958.0 1077.8L958.8 1078.2L959.6 1078.6L960.4 1078.3L961.2 1077.9L962.0 1078.6L962.8 1079.1L963.6 1078.1L964.4 1076.9L965.2 1075.3L966.0 1071.4L966.8 1066.3L967.6 1059.3L968.4 1048.7L969.2 1033.0L970.0 1011.2L970.8 988.6L971.6 978.3L971.6 978.0L972.4 988.0L973.2 1010.9L974.0 1034.0L974.8 1052.4L975.6 1065.1L976.4 1073.7L977.2 1080.6L978.0 1085.9L978.8 1088.8L979.6 1090.9L980.4 1093.8L981.2 1096.3L982.0 1097.5L982.8 1099.2L983.6 1099.6L984.4 1099.6L985.2 1101.2L986.0 1102.5L986.8 1102.4L987.6 1102.0L988.4 1102.6L989.2 1102.8L990.0 1101.8L990.8 1101.8L991.6 1101.5L992.4 1100.5L993.2 1098.3L994.0 1095.8L994.8 1092.9L995.6 1087.7L996.4 1079.7L997.2 1068.0L998.0 1051.3L998.8 1028.0L999.6 1001.6L1000.4 981.4L1000.7 979.3L1001.2 983.4L1002.0 1004.9L1002.8 1031.6L1003.6 1054.3L1004.4 1070.1L1005.2 1080.7L1006.0 1088.1L1006.8 1092.6L1007.6 1094.9L1008.4 1097.1L1009.2 1097.2L1010.0 1097.1L1010.8 1095.3L1011.6 1091.0L1012.4 1084.5L1013.2 1072.6L1014.0 1054.0L1014.8 1025.9L1015.6 987.9L1016.4 941.0L1017.2 891.4L1018.0 853.1L1018.6 843.6L1018.8 843.9L1019.6 870.5L1020.4 918.4L1021.2 969.2L1022.0 1014.2L1022.8 1049.6L1023.6 1074.3L1024.4 1091.7L1025.2 1103.9L1026.0 1111.6L1026.8 1116.5L1027.6 1120.6L1028.4 1123.9L1029.2 1126.2L1030.0 1127.9L1030.8 1129.3L1031.6 1130.9L1032.4 1133.1L1033.2 1134.2L1034.0 1134.8L1034.8 1135.7L1035.6 1136.7L1036.4 1137.2L1037.2 1137.0L1038.0 1136.7L1038.8 1137.0L1039.6 1136.1L1040.4 1134.9L1041.2 1134.2L1042.0 1131.7L1042.8 1126.6L1043.6 1119.2L1044.4 1109.1L1045.2 1096.4L1046.0 1084.9L1046.6 1081.5L1046.8 1081.9L1047.6 1090.6L1048.4 1104.6L1049.2 1117.6L1050.0 1127.4L1050.8 1134.0L1051.6 1139.0L1052.4 1141.8L1053.2 1144.0L1054.0 1145.8L1054.8 1146.2L1055.6 1146.8L1056.4 1146.4L1057.2 1146.3L1058.0 1145.7L1058.8 1143.6L1059.6 1139.8L1060.4 1135.7L1061.2 1131.1L1062.0 1125.4L1062.8 1121.8L1062.9 1121.0L1063.6 1122.7L1064.4 1126.4L1065.2 1130.0L1066.0 1133.8L1066.8 1136.7L1067.6 1137.9L1068.4 1138.0L1069.2 1138.8L1070.0 1140.7L1070.8 1141.9L1071.6 1143.4L1072.4 1145.6L1073.2 1147.8L1074.0 1150.2L1074.8 1153.1L1075.6 1155.6L1076.4 1157.4L1077.2 1159.7L1078.0 1160.9L1078.8 1161.9L1079.6 1162.4L1080.4 1162.3L1081.2 1161.6L1082.0 1159.6L1082.8 1157.8L1083.6 1156.1L1084.4 1153.8L1085.2 1149.8L1086.0 1143.1L1086.8 1133.7L1087.6 1120.8L1088.4 1103.6L1089.2 1084.7L1090.0 1071.1L1090.3 1070.9L1090.8 1075.1L1091.6 1090.8L1092.4 1110.2L1093.2 1126.7L1094.0 1138.6L1094.8 1146.7L1095.6 1152.3L1096.4 1156.8L1097.2 1159.5L1098.0 1160.9L1098.8 1162.1L1099.6 1162.1L1100.4 1161.3L1101.2 1160.1L1102.0 1157.8L1102.8 1154.7L1103.6 1149.7L1104.4 1143.4L1105.2 1137.3L1105.8 1134.4L1106.0 1134.2L1106.8 1136.9L1107.6 1141.4L1108.4 1144.7L1109.2 1147.4L1110.0 1148.5L1110.8 1150.0L1111.6 1151.5L1112.4 1153.0L1113.2 1154.6L1114.0 1156.3L1114.8 1158.7L1115.6 1161.0L1116.4 1164.2L1117.2 1169.0L1118.0 1173.3L1118.8 1176.0L1119.6 1178.3L1120.4 1180.8L1121.2 1182.4L1122.0 1184.2L1122.8 1185.3L1123.6 1186.2L1124.4 1186.6L1125.2 1186.6L1126.0 1185.9L1126.8 1185.6L1127.6 1184.8L1128.4 1183.8L1129.2 1181.3L1130.0 1178.4L1130.8 1176.6L1131.0 1177.4L1131.6 1178.1L1132.4 1181.0L1133.2 1184.9L1134.0 1187.3L1134.8 1188.6L1135.6 1189.7L1136.4 1190.1L1137.2 1191.0L1138.0 1191.8L1138.8 1191.8L1139.6 1191.7L1140.4 1191.5L1141.2 1191.6L1142.0 1191.6L1142.8 1192.0L1143.6 1192.7L1144.4 1192.0L1145.2 1191.3L1146.0 1190.2L1146.8 1187.5L1147.6 1183.2L1148.4 1176.3L1149.2 1168.0L1150.0 1158.3L1150.8 1150.8L1151.2 1150.2L1151.6 1152.0L1152.4 1161.5L1153.2 1173.4L1154.0 1183.0L1154.8 1190.2L1155.6 1195.8L1156.4 1199.7L1157.2 1201.9L1158.0 1202.9L1158.8 1204.5L1159.6 1205.1L1160.4 1204.7L1161.2 1204.6L1162.0 1204.2L1162.8 1203.6L1163.6 1203.6L1164.4 1203.6L1165.2 1203.2L1166.0 1202.7L1166.8 1202.7L1167.6 1202.9L1168.4 1202.8L1169.2 1202.1L1170.0 1200.9L1170.8 1200.2L1171.6 1199.8L1171.6 1199.9L1172.4 1200.7L1173.2 1202.9L1174.0 1204.5L1174.8 1205.2L1175.6 1205.3L1176.4 1205.8L1177.2 1205.8L1178.0 1205.4L1178.8 1205.2L1179.6 1205.0L1180.4 1205.1L1181.2 1205.0L1182.0 1204.6L1182.8 1204.2L1183.6 1203.3L1184.4 1201.7L1185.2 1199.8L1186.0 1196.2L1186.8 1192.3L1187.6 1187.1L1188.4 1178.2L1189.2 1167.6L1190.0 1159.8L1190.5 1157.3L1190.8 1157.8L1191.6 1165.3L1192.4 1176.4L1193.2 1185.8L1194.0 1192.9L1194.8 1198.5L1195.6 1203.0L1196.4 1206.4L1197.2 1208.5L1198.0 1210.2L1198.8 1211.2L1199.6 1212.2L1200.4 1213.6L1201.2 1213.9L1202.0 1214.5L1202.8 1214.8L1203.6 1215.2L1204.4 1215.7L1205.2 1216.1L1206.0 1216.9L1206.8 1217.2L1207.6 1217.8L1208.4 1218.3L1209.2 1218.2L1210.0 1218.2L1210.8 1218.3L1211.6 1218.1L1212.4 1218.0L1213.2 1217.2L1214.0 1217.4L1214.8 1217.6L1215.6 1216.9L1216.4 1216.9L1217.2 1217.0L1218.0 1216.2L1218.8 1215.3L1219.6 1215.0L1220.4 1214.0L1221.2 1211.2L1222.0 1206.7L1222.8 1202.1L1223.6 1194.4L1224.4 1185.3L1225.2 1175.1L1226.0 1169.3L1226.2 1169.1L1226.8 1171.1L1227.6 1180.4L1228.4 1190.4L1229.2 1199.0L1230.0 1205.1L1230.8 1209.2L1231.6 1212.0L1232.4 1214.5L1233.2 1216.4L1234.0 1217.2L1234.8 1218.5L1235.6 1219.2L1236.4 1219.3L1237.2 1220.3L1238.0 1221.2L1238.8 1221.5L1239.6 1222.1L1240.4 1222.0L1241.2 1221.3L1242.0 1220.7L1242.8 1219.5L1243.6 1217.7L1244.4 1215.5L1245.2 1211.7L1246.0 1206.8L1246.8 1201.2L1247.6 1196.4L1248.0 1196.3L1248.4 1197.0L1249.2 1201.4L1250.0 1207.5L1250.8 1212.7L1251.6 1216.4L1252.4 1218.5L1253.2 1220.5L1254.0 1221.7L1254.8 1221.8L1255.6 1221.4L1256.4 1220.4L1257.2 1219.4L1258.0 1216.4L1258.8 1212.4L1259.6 1207.1L1260.4 1200.8L1261.2 1196.6L1261.5 1196.1L1262.0 1197.5L1262.8 1202.3L1263.6 1207.4L1264.4 1211.6L1265.2 1215.8L1266.0 1218.5L1266.8 1219.5L1267.6 1219.8L1268.4 1220.3L1269.2 1221.2L1270.0 1221.6L1270.8 1222.6L1271.6 1223.4L1272.4 1223.4L1273.2 1223.0L1274.0 1222.6L1274.8 1222.1L1275.6 1221.0L1276.4 1220.0L1277.2 1219.8L1278.0 1218.0L1278.8 1214.7L1279.6 1212.2L1280.4 1207.7L1281.2 1201.8L1282.0 1196.1L1282.8 1191.2L1283.1 1190.7L1283.6 1191.8L1284.4 1196.8L1285.2 1202.4L1286.0 1207.7L1286.8 1211.7L1287.6 1214.9L1288.4 1217.4L1289.2 1218.6L1290.0 1218.9L1290.8 1219.0L1291.6 1219.0L1292.4 1219.5L1293.2 1219.0L1294.0 1217.9L1294.8 1215.7L1295.6 1213.3L1296.0 1212.5L1296.4 1212.3L1297.2 1214.3L1298.0 1215.7L1298.8 1215.5L1299.6 1214.9L1300.4 1212.8L1301.2 1209.1L1302.0 1204.2L1302.8 1198.2L1303.6 1193.4L1304.3 1192.8L1304.4 1192.9L1305.2 1196.6L1306.0 1203.5L1306.8 1209.9L1307.6 1215.1L1308.4 1219.3L1309.2 1222.1L1310.0 1224.0L1310.8 1225.4L1311.6 1226.1L1312.4 1227.2L1313.2 1227.2L1314.0 1226.9L1314.8 1226.7L1315.6 1225.5L1316.4 1224.4L1317.2 1223.8L1317.8 1223.6L1318.0 1223.2L1318.8 1223.6L1319.6 1225.1L1320.4 1225.0L1321.2 1224.4L1322.0 1224.7L1322.8 1224.9L1323.6 1224.2L1324.4 1223.4L1325.2 1223.6L1326.0 1221.9L1326.8 1218.5L1327.6 1215.6L1328.4 1211.2L1329.2 1205.2L1330.0 1200.4L1330.7 1198.9L1330.8 1199.6L1331.6 1203.1L1332.4 1208.1L1333.2 1213.4L1334.0 1218.3L1334.8 1221.1L1335.6 1222.9L1336.4 1224.6L1337.2 1226.0L1338.0 1227.4L1338.8 1228.2L1339.6 1228.7L1340.4 1228.7L1341.2 1228.3L1342.0 1228.7L1342.8 1228.4L1343.6 1228.6L1344.4 1228.3L1345.2 1227.1L1346.0 1225.8L1346.8 1224.2L1347.6 1222.1L1348.4 1219.0L1349.2 1214.8L1350.0 1209.1L1350.8 1203.2L1351.6 1199.2L1351.9 1198.9L1352.4 1200.2L1353.2 1204.7L1354.0 1210.7L1354.8 1215.7L1355.6 1219.5L1356.4 1221.8L1357.2 1223.9L1358.0 1226.1L1358.8 1227.3L1359.6 1228.0L1360.4 1228.3L1361.2 1228.8L1362.0 1229.9L1362.8 1230.6L1363.6 1230.3L1364.4 1230.3L1365.2 1231.4L1366.0 1232.2L1366.8 1232.2L1367.6 1232.9L1368.4 1234.3L1369.2 1235.4L1370.0 1235.9L1370.8 1235.7L1371.6 1236.0L1372.4 1236.1L1373.2 1236.1L1374.0 1236.6L1374.8 1237.2L1375.6 1237.0L1376.4 1237.2L1377.2 1237.6L1378.0 1237.8L1378.8 1237.9L1379.6 1238.7L1380.4 1239.5L1381.2 1239.3L1382.0 1238.9L1382.8 1238.8L1383.6 1238.3L1384.4 1237.8L1385.2 1236.6L1386.0 1234.9L1386.8 1233.4L1387.6 1231.7L1388.4 1228.8L1389.2 1225.0L1390.0 1221.1L1390.8 1217.7L1391.2 1217.2L1391.6 1217.4L1392.4 1219.6L1393.2 1223.9L1394.0 1227.1L1394.8 1229.6L1395.6 1231.4L1396.4 1233.1L1397.2 1233.8L1398.0 1234.6L1398.8 1235.7L1399.6 1235.9L1400.4 1236.5L1401.2 1238.2L1402.0 1238.6L1402.8 1239.0L1403.6 1240.1L1404.4 1241.2L1405.2 1241.3L1406.0 1241.1L1406.8 1241.9L1407.6 1243.0L1408.4 1242.9L1409.2 1242.8L1410.0 1242.5L1410.8 1242.7L1411.6 1243.4L1412.4 1242.9L1413.2 1243.1L1414.0 1243.4L1414.8 1243.3L1415.6 1243.0L1416.4 1243.1L1417.2 1242.5L1418.0 1242.2L1418.8 1242.6L1419.6 1242.4L1420.4 1242.4L1421.2 1242.5L1422.0 1242.4L1422.8 1243.1L1423.6 1243.4L1424.4 1242.5L1425.2 1242.4L1426.0 1242.5L1426.8 1242.2L1427.6 1242.3L1428.4 1241.9L1429.2 1240.3L1430.0 1238.5L1430.8 1235.7L1431.6 1233.1L1432.4 1231.7L1432.5 1231.6L1433.2 1232.4L1434.0 1235.3L1434.8 1237.3L1435.6 1239.5L1436.4 1241.5L1437.2 1242.5L1438.0 1243.5L1438.8 1243.8L1439.6 1243.3L1440.4 1242.3L1441.2 1242.0L1442.0 1241.2L1442.8 1239.4L1443.6 1236.8L1444.4 1233.0L1445.2 1228.1L1446.0 1222.0L1446.8 1214.7L1447.6 1208.7L1448.1 1207.7L1448.4 1208.4L1449.2 1212.9L1450.0 1219.8L1450.8 1226.9L1451.6 1231.5L1452.4 1236.0L1453.2 1239.1L1454.0 1241.1L1454.8 1242.6L1455.6 1243.7L1456.4 1244.6L1457.2 1244.8L1458.0 1244.9L1458.8 1245.0L1459.6 1245.1L1460.4 1245.7L1461.2 1246.1L1462.0 1246.1L1462.8 1246.7L1463.6 1247.5L1464.4 1247.5L1465.2 1248.3L1466.0 1248.9L1466.8 1249.6L1467.6 1250.4L1468.4 1251.0L1469.2 1250.9L1470.0 1251.5L1470.8 1251.8L1471.6 1252.5L1472.4 1252.5L1473.2 1253.5L1474.0 1254.3L1474.8 1254.5L1475.6 1254.1L1476.4 1253.3L1477.2 1252.9L1478.0 1253.1L1478.8 1252.6L1479.6 1251.5L1480.4 1251.3L1481.2 1251.5L1482.0 1250.9L1482.8 1249.8L1483.6 1249.4L1484.4 1249.1L1485.2 1248.8L1486.0 1247.8L1486.8 1246.0L1487.6 1243.6L1488.4 1240.7L1489.2 1237.8L1490.0 1236.0L1490.4 1235.1L1490.8 1236.0L1491.6 1238.4L1492.4 1240.8L1493.2 1242.7L1494.0 1245.2L1494.8 1246.4L1495.6 1246.4L1496.4 1246.0L1497.2 1245.0L1498.0 1242.5L1498.8 1237.2L1499.6 1228.4L1500.4 1214.7L1501.2 1197.5L1502.0 1179.9L1502.7 1173.8L1502.8 1173.9L1503.6 1184.6L1504.4 1204.3L1505.2 1222.6L1506.0 1235.5L1506.8 1244.2L1507.6 1249.2L1508.4 1251.9L1509.2 1252.4L1510.0 1253.5L1510.8 1253.5L1511.6 1253.1L1512.4 1252.3L1513.2 1251.7L1514.0 1252.0L1514.8 1251.5L1515.6 1250.3L1516.4 1249.0L1517.2 1247.1L1518.0 1244.1L1518.8 1241.8L1519.6 1239.9L1520.2 1239.3L1520.4 1239.1L1521.2 1240.7L1522.0 1244.0L1522.8 1247.1L1523.6 1250.0L1524.4 1252.8L1525.2 1255.0L1526.0 1255.2L1526.8 1255.9L1527.6 1256.7L1528.4 1257.6L1529.2 1258.6L1530.0 1258.8L1530.8 1259.3L1531.6 1259.4L1532.4 1259.3L1533.2 1259.9L1534.0 1259.1L1534.8 1259.0L1535.6 1259.1L1536.4 1258.0L1537.2 1256.9L1538.0 1257.6L1538.8 1257.8L1539.6 1257.4L1540.4 1257.2L1541.2 1257.0L1542.0 1257.3L1542.8 1256.9L1543.6 1255.9L1544.4 1255.2L1545.2 1253.8L1546.0 1252.7L1546.8 1250.9L1547.6 1247.9L1548.4 1245.4L1549.2 1243.3L1549.5 1243.4L1550.0 1243.9L1550.8 1246.6L1551.6 1249.3L1552.4 1252.3L1553.2 1253.6L1554.0 1254.7L1554.8 1255.7L1555.6 1256.6L1556.4 1257.0L1557.2 1257.2L1558.0 1257.4L1558.8 1256.9L1559.6 1256.6L1560.4 1256.3L1561.2 1256.5L1562.0 1256.4L1562.8 1254.9L1563.6 1252.2L1564.4 1248.2L1565.2 1243.7L1566.0 1237.5L1566.8 1231.2L1567.6 1227.7L1567.8 1227.2L1568.4 1228.5L1569.2 1233.6L1570.0 1239.6L1570.8 1244.9L1571.6 1248.7L1572.4 1251.4L1573.2 1254.3L1574.0 1256.3L1574.8 1256.7L1575.6 1257.6L1576.4 1258.1L1577.2 1259.3L1578.0 1260.7L1578.8 1260.7L1579.6 1260.3L1580.4 1260.4L1581.2 1261.0L1582.0 1261.7L1582.8 1261.7L1583.6 1261.8L1584.4 1262.2L1585.2 1261.9L1586.0 1262.6L1586.8 1263.5L1587.6 1263.1L1588.4 1262.7L1589.2 1262.2L1590.0 1261.7L1590.8 1261.2L1591.6 1260.7L1592.4 1259.9L1593.2 1259.0L1594.0 1259.2L1594.8 1258.8L1595.6 1258.8L1596.4 1258.3L1597.2 1257.7L1598.0 1257.2L1598.8 1256.2L1599.6 1254.6L1600.4 1253.6L1601.2 1251.7L1602.0 1248.0L1602.8 1242.9L1603.6 1237.2L1604.4 1229.7L1605.2 1220.4L1606.0 1212.5L1606.8 1210.0L1606.8 1209.8L1607.6 1213.6L1608.4 1222.3L1609.2 1231.6L1610.0 1240.2L1610.8 1246.1L1611.6 1250.2L1612.4 1252.9L1613.2 1255.4L1614.0 1257.6L1614.8 1258.6L1615.6 1258.9L1616.4 1259.0L1617.2 1258.5L1618.0 1256.9L1618.8 1255.6L1619.6 1251.7L1620.4 1245.4L1621.2 1238.7L1621.7 1238.2L1622.0 1239.5L1622.8 1244.8L1623.6 1250.9L1624.4 1255.4L1625.2 1258.8L1626.0 1260.7L1626.8 1260.9L1627.6 1261.5L1628.4 1262.1L1629.2 1261.2L1630.0 1260.3L1630.8 1258.5L1631.6 1255.6L1632.4 1251.8L1633.0 1250.7L1633.2 1251.0L1634.0 1254.1L1634.8 1257.4L1635.6 1260.2L1636.4 1261.2L1637.2 1262.4L1638.0 1263.5L1638.8 1263.9L1639.6 1264.2L1640.4 1264.4L1641.2 1264.8L1642.0 1265.1L1642.8 1265.5L1643.6 1265.8L1644.4 1265.7L1645.2 1264.8L1646.0 1263.7L1646.8 1263.8L1647.6 1263.0L1648.4 1261.4L1649.2 1259.3L1650.0 1256.9L1650.8 1255.9L1651.4 1256.5L1651.6 1256.8L1652.4 1257.2L1653.2 1258.5L1654.0 1260.5L1654.8 1262.2L1655.6 1262.9L1656.4 1264.1L1657.2 1265.1L1658.0 1265.6L1658.8 1265.2L1659.6 1265.1L1660.4 1265.5L1661.2 1265.4L1662.0 1265.4L1662.8 1265.4L1663.6 1265.5L1664.4 1265.6L1665.2 1266.1L1666.0 1266.4L1666.8 1266.9L1667.6 1268.2L1668.4 1268.7L1669.2 1269.0L1670.0 1269.2L1670.8 1269.6L1671.6 1271.2L1672.4 1272.0L1673.2 1272.3L1674.0 1272.9L1674.8 1273.2L1675.6 1273.5L1676.4 1273.5L1677.2 1272.9L1678.0 1272.6L1678.8 1272.3L1679.6 1271.2L1680.4 1270.1L1681.2 1269.5L1682.0 1269.8L1682.8 1270.1L1683.6 1269.4L1684.4 1268.9L1685.2 1268.4L1686.0 1267.5L1686.8 1266.5L1687.6 1264.5L1688.4 1264.0L1689.1 1264.5L1689.2 1264.3L1690.0 1265.3L1690.8 1266.8L1691.6 1267.7L1692.4 1268.4L1693.2 1269.7L1694.0 1271.5L1694.8 1273.1L1695.6 1272.9L1696.4 1272.6L1697.2 1273.6L1698.0 1274.4L1698.8 1274.8L1699.6 1274.7L1700.4 1274.1L1701.2 1275.9L1702.0 1276.2L1702.8 1275.9L1703.6 1275.6L1704.4 1275.1L1705.2 1275.4L1706.0 1276.0L1706.8 1275.4L1707.6 1274.6L1708.4 1273.5L1709.2 1272.1L1710.0 1270.7L1710.8 1268.8L1711.6 1265.7L1712.4 1261.0L1713.2 1254.8L1714.0 1249.0L1714.8 1244.7L1715.3 1243.6L1715.6 1244.2L1716.4 1247.9L1717.2 1254.5L1718.0 1259.9L1718.8 1264.1L1719.6 1267.5L1720.4 1270.5L1721.2 1272.8L1722.0 1273.2L1722.8 1274.4L1723.6 1275.3L1724.4 1274.8L1725.2 1275.5L1726.0 1275.9L1726.8 1276.6L1727.6 1276.2L1728.4 1276.0L1729.2 1276.4L1730.0 1276.6L1730.8 1275.6L1731.2 1275.4L1731.6 1275.4L1732.4 1275.8L1733.2 1276.7L1734.0 1277.3L1734.8 1277.8L1735.6 1277.8L1736.4 1277.5L1737.2 1277.1L1738.0 1277.5L1738.8 1276.5L1739.6 1275.6L1740.4 1275.1L1741.2 1274.4L1742.0 1272.9L1742.8 1271.1L1743.6 1268.7L1744.4 1265.8L1745.2 1260.9L1746.0 1253.0L1746.8 1242.5L1747.6 1231.4L1748.3 1228.4L1748.4 1228.2L1749.2 1236.8L1750.0 1249.4L1750.8 1260.7L1751.6 1268.5L1752.4 1272.7L1753.2 1276.2L1754.0 1278.2L1754.8 1279.0L1755.6 1279.8L1756.4 1280.3L1757.2 1279.4L1758.0 1278.8L1758.8 1278.0L1759.6 1277.5L1760.4 1277.6L1761.2 1276.8L1762.0 1274.8L1762.8 1273.4L1763.6 1271.1L1764.4 1268.2L1765.2 1267.3L1765.5 1267.0L1766.0 1267.3L1766.8 1269.5L1767.6 1272.4L1768.4 1275.3L1769.2 1277.7L1770.0 1279.1L1770.8 1279.7L1771.6 1281.1L1772.4 1281.1L1773.2 1281.2L1774.0 1282.5L1774.8 1283.2L1775.6 1283.6L1776.4 1283.8L1777.2 1283.5L1778.0 1282.6L1778.8 1282.1L1779.6 1281.8L1780.4 1281.5L1781.2 1280.9L1782.0 1280.9L1782.8 1280.2L1783.6 1279.5L1784.4 1278.5L1785.2 1277.8L1786.0 1277.4L1786.8 1276.7L1787.6 1275.3L1788.4 1274.7L1789.2 1274.0L1790.0 1272.4L1790.8 1270.7L1791.6 1269.3L1791.9 1269.0L1792.4 1269.7L1793.2 1271.6L1794.0 1274.5L1794.8 1276.9L1795.6 1279.1L1796.4 1280.7L1797.2 1281.5L1798.0 1282.3L1798.8 1283.1L1799.6 1283.9L1800.4 1284.4L1801.2 1283.8L1802.0 1283.4L1802.8 1283.4L1803.6 1282.8L1804.4 1281.4L1805.2 1280.0L1806.0 1278.1L1806.8 1276.3L1807.6 1275.4L1807.8 1275.5L1808.4 1275.5L1809.2 1276.0L1810.0 1276.7L1810.8 1277.7L1811.6 1278.7L1812.4 1279.4L1813.2 1280.1L1814.0 1280.1L1814.8 1280.5L1815.6 1280.5L1816.4 1280.5L1817.2 1281.2L1818.0 1282.5L1818.8 1283.5L1819.6 1284.4L1820.4 1286.0L1821.2 1287.1L1822.0 1287.8L1822.8 1288.2L1823.6 1288.7L1824.4 1288.4L1825.2 1287.3L1826.0 1287.4L1826.8 1287.6L1827.6 1286.3L1828.4 1285.4L1829.2 1284.3L1830.0 1282.5L1830.8 1281.1L1831.6 1280.2L1832.0 1278.7L1832.4 1278.8L1833.2 1280.8L1834.0 1282.2L1834.8 1283.1L1835.6 1284.5L1836.4 1284.6L1837.2 1285.0L1838.0 1285.7L1838.8 1285.9L1839.6 1286.1L1840.4 1286.0L1841.2 1286.0L1842.0 1286.2L1842.8 1286.4L1843.6 1285.7L1844.4 1285.4L1845.2 1285.2L1846.0 1284.0L1846.8 1282.6L1847.6 1280.6L1847.9 1279.3L1848.4 1279.4L1849.2 1282.5L1850.0 1285.3L1850.8 1286.3L1851.6 1286.7L1852.4 1285.7L1853.2 1284.8L1854.0 1283.8L1854.8 1282.1L1855.6 1279.3L1856.4 1277.3L1857.2 1276.1L1857.4 1276.0L1858.0 1276.2L1858.8 1277.9L1859.6 1280.1L1860.4 1281.9L1861.2 1283.1L1862.0 1284.5L1862.8 1285.7L1863.6 1286.5L1864.4 1287.1L1865.2 1288.0L1866.0 1287.8L1866.8 1288.3L1867.6 1289.6L1868.4 1290.9L1869.2 1292.1L1870.0 1292.6L1870.8 1293.0L1871.6 1293.2L1872.4 1293.5L1873.2 1294.6L1874.0 1294.4L1874.8 1293.5L1875.6 1293.1L1876.4 1292.9L1877.2 1292.5L1878.0 1291.6L1878.8 1290.2L1879.6 1288.3L1880.4 1287.0L1881.2 1285.9L1881.5 1285.5L1882.0 1285.8L1882.8 1286.9L1883.6 1288.5L1884.4 1290.0L1885.2 1291.2L1886.0 1293.0L1886.8 1293.4L1887.6 1293.7L1888.4 1294.2L1889.2 1294.3L1890.0 1294.5L1890.8 1294.0L1891.6 1295.0L1892.4 1295.3L1893.2 1295.6L1894.0 1297.1L1894.8 1297.8L1895.6 1298.0L1896.4 1299.1L1897.2 1299.8L1898.0 1299.5L1898.8 1299.9L1899.6 1300.0L1900.4 1299.5L1901.2 1299.6L1902.0 1300.0L1902.8 1299.5L1903.6 1299.9L1904.4 1300.4L1905.2 1300.5L1906.0 1300.3L1906.8 1300.5L1907.6 1300.9L1908.4 1300.9L1909.2 1301.1L1910.0 1301.0L1910.8 1300.7L1911.6 1300.4L1912.4 1300.6L1913.2 1301.0L1914.0 1301.5L1914.8 1301.2L1915.6 1301.2L1916.4 1301.3L1917.2 1301.2L1918.0 1301.9L1918.8 1302.5L1919.6 1301.9L1920.4 1302.4L1921.2 1301.9L1922.0 1302.0L1922.8 1302.4L1923.6 1302.6L1924.4 1302.8L1925.2 1303.2L1926.0 1303.9L1926.8 1304.2L1927.6 1303.6L1928.4 1303.2L1929.2 1303.2L1930.0 1303.8L1930.8 1303.6L1931.6 1303.1L1932.4 1302.3L1933.2 1302.5L1934.0 1301.5L1934.8 1299.0L1935.6 1295.3L1936.4 1289.1L1937.2 1282.4L1938.0 1278.2L1938.1 1278.1L1938.8 1282.3L1939.6 1289.5L1940.4 1296.0L1941.2 1300.3L1942.0 1302.0L1942.8 1302.4L1943.6 1300.5L1944.4 1295.9L1945.2 1289.2L1946.0 1279.8L1946.8 1269.0L1947.6 1260.0L1948.0 1258.2L1948.4 1258.1L1949.2 1261.9L1950.0 1268.8L1950.8 1275.0L1951.6 1280.1L1952.4 1284.1L1953.2 1287.5L1954.0 1290.8L1954.8 1294.4L1955.6 1297.4L1956.4 1300.3L1957.2 1303.1L1958.0 1304.2L1958.8 1304.4L1959.6 1304.8L1960.4 1304.7L1961.2 1305.1L1962.0 1304.6L1962.8 1303.7L1963.6 1303.0L1964.4 1303.0L1965.2 1303.6L1966.0 1302.6L1966.8 1301.6L1967.6 1301.8L1968.4 1301.8L1969.2 1301.0L1970.0 1299.8L1970.8 1299.6L1971.6 1297.9L1972.4 1295.9L1973.2 1293.6L1974.0 1290.7L1974.8 1288.2L1975.6 1286.8L1975.8 1287.0L1976.4 1286.8L1977.2 1288.3L1978.0 1291.0L1978.8 1293.9L1979.6 1295.8L1980.4 1296.6L1981.2 1297.5L1982.0 1298.6L1982.8 1299.4L1983.6 1300.2L1984.4 1301.3L1985.2 1301.7L1986.0 1302.6L1986.8 1303.5L1987.6 1304.7L1988.4 1305.8L1989.2 1306.5L1990.0 1307.0L1990.8 1307.1L1991.6 1307.6L1992.4 1307.3L1993.2 1306.9L1994.0 1306.6L1994.8 1306.6L1995.6 1306.3L1996.4 1305.5L1997.2 1304.7L1998.0 1304.4L1998.8 1303.8L1999.6 1303.3L2000.4 1302.9L2001.2 1303.0L2002.0 1303.3L2002.8 1302.6L2003.6 1301.9L2004.4 1301.5L2005.2 1300.3L2006.0 1299.2L2006.8 1298.4L2006.9 1298.1L2007.6 1299.0L2008.4 1301.0L2009.2 1302.4L2010.0 1304.7L2010.8 1306.4L2011.6 1307.0L2012.4 1307.5L2013.2 1308.0L2014.0 1308.2L2014.8 1308.7L2015.6 1308.4L2016.4 1308.0L2017.2 1307.3L2018.0 1307.0L2018.8 1305.9L2019.6 1304.6L2020.4 1304.2L2020.8 1304.0L2021.2 1303.7L2022.0 1304.3L2022.8 1305.4L2023.6 1306.3L2024.4 1307.7L2025.2 1308.2L2026.0 1308.9L2026.8 1308.1L2027.6 1307.8L2028.4 1308.4L2029.2 1309.4L2030.0 1309.4L2030.8 1310.1L2031.6 1310.3L2032.4 1310.4L2033.2 1311.1L2034.0 1312.0L2034.8 1312.7L2035.6 1313.1L2036.4 1313.0L2037.2 1313.8L2038.0 1314.1L2038.8 1314.4L2039.6 1314.8L2040.4 1314.6L2041.2 1314.8L2042.0 1314.9L2042.8 1314.0L2043.6 1314.0L2044.4 1313.8L2045.2 1313.7L2046.0 1314.5L2046.8 1314.7L2047.6 1313.9L2048.4 1312.9L2049.2 1312.6L2050.0 1311.9L2050.8 1311.3L2051.5 1310.9L2051.6 1310.1L2052.4 1310.0L2053.2 1310.8L2054.0 1311.6L2054.8 1311.4L2055.6 1312.5L2056.4 1313.6L2057.2 1313.6L2058.0 1313.7L2058.8 1314.0L2059.6 1313.9L2060.4 1313.8L2061.2 1314.2L2062.0 1314.5L2062.8 1314.7L2063.6 1314.4L2064.4 1313.2L2065.2 1311.7L2066.0 1310.6L2066.8 1310.6L2067.6 1309.7L2068.4 1308.7L2069.2 1307.7L2070.0 1306.1L2070.8 1303.8L2071.6 1301.0L2072.4 1297.3L2073.2 1293.5L2073.8 1293.3L2074.0 1294.1L2074.8 1297.6L2075.6 1301.3L2076.4 1305.0L2077.2 1308.5L2078.0 1310.9L2078.8 1312.1L2079.6 1313.9L2080.4 1314.7L2081.2 1314.5L2082.0 1315.1L2082.8 1316.5L2083.6 1317.1L2084.4 1317.8L2085.2 1317.5L2086.0 1317.1L2086.8 1317.8L2087.6 1318.2L2088.4 1318.8L2089.2 1318.5L2090.0 1317.8L2090.8 1317.8L2091.6 1318.5L2092.4 1319.0L2093.2 1318.4L2094.0 1317.7L2094.8 1316.4L2095.6 1316.6L2096.2 1316.9L2096.4 1317.0L2097.2 1316.7L2098.0 1316.5L2098.8 1317.6L2099.6 1318.6L2100.4 1319.3L2101.2 1319.5L2102.0 1319.6L2102.8 1319.4L2103.6 1319.7L2104.4 1319.8L2105.2 1319.5L2106.0 1319.1L2106.8 1319.1L2107.6 1319.0L2108.4 1318.2L2109.2 1316.9L2110.0 1317.5L2110.8 1318.0L2111.6 1317.7L2112.4 1317.1L2113.2 1317.2L2114.0 1316.9L2114.8 1316.9L2115.6 1316.5L2116.4 1316.3L2117.2 1315.8L2118.0 1315.8L2118.8 1315.6L2119.6 1315.3L2120.4 1315.0L2121.2 1314.7L2122.0 1313.2L2122.8 1311.2L2123.6 1307.7L2124.4 1303.8L2125.0 1302.6L2125.2 1302.8L2126.0 1307.9L2126.8 1313.2L2127.6 1316.4L2128.4 1318.5L2129.2 1319.8L2130.0 1319.7L2130.8 1319.5L2131.6 1319.6L2132.4 1319.4L2133.2 1319.6L2134.0 1319.6L2134.8 1319.4L2135.6 1320.3L2136.4 1321.4L2137.2 1322.0L2138.0 1322.7L2138.8 1323.4L2139.6 1324.2L2140.4 1324.3L2141.2 1324.2L2142.0 1324.0L2142.8 1325.5L2143.6 1326.3L2144.4 1325.7L2145.2 1325.6L2146.0 1325.6L2146.8 1324.7L2147.6 1324.2L2148.4 1324.1L2149.2 1324.7L2150.0 1324.0L2150.8 1323.1L2151.6 1323.2L2152.4 1322.9L2153.2 1323.0L2154.0 1323.2L2154.8 1322.6L2155.6 1322.7L2156.4 1321.7L2157.2 1321.3L2158.0 1321.1L2158.8 1320.2L2159.6 1319.7L2160.4 1319.7L2161.0 1319.4L2161.2 1319.5L2162.0 1320.1L2162.8 1321.2L2163.6 1322.1L2164.4 1322.8L2165.2 1323.9L2166.0 1324.6L2166.8 1324.9L2167.6 1325.4L2168.4 1324.7L2169.2 1322.5L2170.0 1319.9L2170.8 1318.4L2170.8 1319.1L2171.6 1321.7L2172.4 1323.8L2173.2 1325.2L2174.0 1326.6L2174.8 1327.7L2175.6 1327.7L2176.4 1328.2L2177.2 1328.7L2178.0 1328.4L2178.8 1328.4L2179.6 1328.8L2180.4 1329.8L2181.2 1329.9L2182.0 1329.6L2182.8 1329.4L2183.6 1329.6L2184.4 1329.5L2185.2 1329.4L2186.0 1330.5L2186.8 1330.1L2187.6 1330.0L2188.4 1330.2L2189.2 1330.3L2190.0 1330.3L2190.8 1329.9L2191.6 1329.8L2192.4 1329.4L2193.2 1330.0L2194.0 1330.7L2194.8 1330.7L2195.6 1330.6L2196.4 1329.7L2197.2 1329.3L2198.0 1329.4L2198.8 1329.1L2199.6 1329.5L2200.4 1329.7L2201.2 1329.4L2202.0 1329.3L2202.8 1329.0L2203.6 1329.2L2204.4 1329.3L2205.2 1329.3L2206.0 1328.8L2206.8 1328.8L2207.6 1329.5L2208.4 1330.5L2209.2 1331.3L2210.0 1331.9L2210.8 1331.8L2211.6 1332.0L2212.4 1332.6L2213.2 1331.7L2214.0 1331.4L2214.8 1331.6L2215.6 1331.5L2216.4 1331.1L2217.2 1330.2L2218.0 1328.8L2218.8 1327.3L2219.6 1325.9L2220.4 1323.5L2221.2 1321.3L2222.0 1319.3L2222.3 1319.2L2222.8 1320.1L2223.6 1322.7L2224.4 1325.0L2225.2 1326.8L2226.0 1328.1L2226.8 1330.4L2227.6 1331.6L2228.4 1332.6L2229.2 1333.3L2230.0 1333.3L2230.8 1333.8L2231.6 1334.0L2232.4 1334.0L2233.2 1334.5L2234.0 1334.8L2234.8 1334.5L2235.6 1335.0L2236.4 1335.6L2237.2 1335.6L2238.0 1335.8L2238.8 1335.9L2239.6 1335.7L2240.4 1335.7L2241.2 1335.4L2242.0 1335.1L2242.8 1335.1L2243.6 1334.6L2244.4 1333.8L2245.2 1333.4L2246.0 1333.0L2246.8 1333.1L2247.6 1332.8L2248.4 1332.3L2249.2 1330.6L2250.0 1328.4L2250.8 1323.9L2251.3 1322.5L2251.6 1324.0L2252.4 1328.4L2253.2 1332.1L2254.0 1334.1L2254.8 1334.1L2255.6 1334.0L2256.4 1332.5L2257.2 1329.5L2258.0 1326.8L2258.3 1326.8L2258.8 1328.1L2259.6 1330.8L2260.4 1333.0L2261.2 1334.3L2262.0 1335.2L2262.8 1335.7L2263.6 1335.9L2264.4 1336.8L2265.2 1336.8L2266.0 1336.8L2266.8 1336.8L2267.6 1337.6L2268.4 1338.1L2269.2 1338.2L2270.0 1339.1L2270.8 1338.9L2271.6 1338.4L2272.4 1338.6L2273.2 1339.3L2274.0 1339.5L2274.8 1339.3L2275.6 1339.3L2276.4 1339.2L2277.2 1338.8L2278.0 1337.9L2278.8 1338.0L2279.6 1338.8L2280.4 1338.2L2281.2 1337.8L2282.0 1338.2L2282.8 1338.7L2283.6 1338.5L2284.4 1339.0L2285.2 1339.0L2286.0 1339.7L2286.8 1340.1L2287.6 1340.7L2288.4 1341.2L2289.2 1341.5L2290.0 1341.5L2290.8 1342.0L2291.6 1342.4L2292.4 1343.1L2293.2 1343.9L2294.0 1344.4L2294.8 1343.8L2295.6 1343.8L2296.4 1344.0L2297.2 1344.6L2298.0 1344.9L2298.8 1345.0L2299.6 1345.8L2300.4 1345.9L2301.2 1345.5L2302.0 1346.2L2302.8 1346.8L2303.6 1346.4L2304.4 1346.1L2305.2 1346.4L2306.0 1347.2L2306.8 1347.4L2307.6 1346.5L2308.4 1344.6L2309.2 1342.6L2309.8 1341.6L2310.0 1341.3L2310.8 1343.4L2311.6 1345.8L2312.4 1346.7L2313.2 1347.1L2314.0 1347.9L2314.8 1348.0L2315.6 1348.6L2316.4 1349.2L2317.2 1349.0L2318.0 1348.6L2318.8 1347.6L2319.6 1347.7L2320.4 1348.4L2321.2 1347.8L2322.0 1347.4L2322.8 1348.8L2323.6 1348.9L2324.4 1349.0L2325.2 1350.0L2326.0 1350.3L2326.8 1349.5L2327.6 1349.5L2328.4 1350.4L2329.2 1350.6L2330.0 1350.4L2330.8 1349.7L2331.6 1349.0L2332.4 1348.5L2333.2 1348.4L2334.0 1348.8L2334.8 1348.5L2335.6 1347.5L2336.0 1346.9L2336.4 1347.2L2337.2 1348.7L2338.0 1348.6L2338.8 1348.5L2339.6 1349.7L2340.4 1350.5L2341.2 1350.2L2342.0 1350.2L2342.8 1351.0L2343.6 1351.6L2344.4 1351.3L2345.2 1350.8L2346.0 1351.3L2346.8 1351.4L2347.6 1351.7L2348.4 1352.2L2349.2 1352.8L2350.0 1353.3L2350.8 1353.7L2351.6 1353.0L2352.4 1352.8L2353.2 1352.9L2354.0 1353.0L2354.8 1354.2L2355.6 1354.3L2356.4 1353.8L2357.2 1354.4L2357.4 1354.6" stroke="#ff00ff" stroke-width="2.5" style="stroke-linejoin:miter;stroke-miterlimit:3"/>
<path d="M492.7 608.5V1394.5M594.4 392V1059.4M1500.9 998V1529.7" stroke="#000" stroke-width="2.5" fill="none"/>
<rect x="409.6" y="2134.0" width="1997.2" height="1455.4" fill="none" stroke="#000" stroke-width="6"/>
<path d="M409.6 2284.4h18M409.6 2831.5h32M409.6 3378.6h18M423.7 3589.4v-32M496.8 3589.4v-18M569.8 3589.4v-32M642.8 3589.4v-18M715.9 3589.4v-32M789.0 3589.4v-18M862.0 3589.4v-32M935.1 3589.4v-18M1008.1 3589.4v-32M1081.1 3589.4v-18M1154.2 3589.4v-32M1227.3 3589.4v-18M1300.3 3589.4v-32M1373.3 3589.4v-18M1446.4 3589.4v-32M1519.5 3589.4v-18M1592.5 3589.4v-32M1665.6 3589.4v-18M1738.6 3589.4v-32M1811.6 3589.4v-18M1884.7 3589.4v-32M1957.8 3589.4v-18M2030.8 3589.4v-32M2103.8 3589.4v-18M2176.9 3589.4v-32M2249.9 3589.4v-18M2323.0 3589.4v-32M2396.1 3589.4v-18" stroke="#000" stroke-width="6" fill="none"/>
<text x="376.1" y="2847.4" font-size="67" text-anchor="end" letter-spacing="-5" >1000</text>
<text x="364.4 398.3 432.2 447.4" y="3666.6" font-size="67">29.7</text>
<text x="510.6 544.4 578.3 593.5" y="3666.6" font-size="67">29.8</text>
<text x="656.6 690.5 724.4 739.6" y="3666.6" font-size="67">29.9</text>
<text x="802.8 836.6 870.5 885.7" y="3666.6" font-size="67">30.0</text>
<text x="948.8 982.7 1016.6 1031.8" y="3666.6" font-size="67">30.1</text>
<text x="1095.0 1128.8 1162.7 1177.9" y="3666.6" font-size="67">30.2</text>
<text x="1241.1 1274.9 1308.8 1324.0" y="3666.6" font-size="67">30.3</text>
<text x="1387.1 1421.0 1454.9 1470.1" y="3666.6" font-size="67">30.4</text>
<text x="1533.3 1567.1 1601.0 1616.2" y="3666.6" font-size="67">30.5</text>
<text x="1679.3 1713.2 1747.1 1762.3" y="3666.6" font-size="67">30.6</text>
<text x="1825.5 1859.3 1893.2 1908.4" y="3666.6" font-size="67">30.7</text>
<text x="1971.6 2005.4 2039.3 2054.5" y="3666.6" font-size="67">30.8</text>
<text x="2117.6 2151.5 2185.4 2200.6" y="3666.6" font-size="67">30.9</text>
<text x="2263.8 2297.6 2331.5 2346.7" y="3666.6" font-size="67">31.0</text>
<text font-size="81" ><tspan x="1117.3" y="3781.0">2</tspan><tspan x="1158.3" y="3781.0" textLength="43.62" lengthAdjust="spacingAndGlyphs" class="sym">θ</tspan><tspan x="1195.3 1225.5" y="3778.7" font-size="74">( </tspan><tspan x="1250.8" y="3781.0" textLength="43.29" lengthAdjust="spacingAndGlyphs" class="sym">λ</tspan><tspan x="1293.3 1324.2 1354.5 1373.8 1408.7 1441.8 1474.8 1507.4 1542.5 1578.0" y="3781.0" textLength="407.36" lengthAdjust="spacingAndGlyphs">=0.09537nm</tspan><tspan x="1641.1" y="3778.7" font-size="74">)</tspan></text>
<text transform="rotate(-90)" font-size="81" ><tspan x="-3112.5 -3092.5 -3051.9 -3033.9 -2993.8 -2953.6 -2918.6 -2902.2 -2879.7 -2843.5 -2827.5 -2802.9 -2764.6 -2744.7 -2704.6 -2681.0" y="130.8">Intensity (a.u.)</tspan></text>
<text font-size="85.3" ><tspan x="1194.1" y="3997.6" class="cap">(</tspan><tspan x="1220.8" y="3997.6" textLength="51.20" lengthAdjust="spacingAndGlyphs" class="capb">b</tspan><tspan x="1271.9" y="3997.6" class="cap">)</tspan></text>
<path class="c" d="M410.6 3396.4L419.0 3396.7L444.4 3397.2L469.9 3396.4L495.4 3396.4L520.9 3397.2L546.3 3397.2L571.8 3397.2L597.3 3396.5L622.7 3395.6L648.2 3395.6L673.7 3395.6L699.1 3395.6L724.6 3395.6L750.1 3394.8L775.5 3392.2L801.0 3388.9L826.5 3386.5L852.0 3382.6L877.4 3376.8L902.9 3367.9L928.4 3356.3L953.8 3341.4L979.3 3328.9L1004.8 3317.1L1030.2 3310.9L1055.7 3310.9L1081.2 3316.3L1106.7 3326.4L1132.1 3338.5L1157.6 3350.2L1183.1 3362.4L1208.5 3371.1L1234.0 3375.6L1259.5 3372.0L1285.0 3359.5L1310.4 3329.4L1335.9 3275.5L1361.4 3197.1L1386.8 3110.5L1412.3 3059.7L1437.8 3074.1L1463.2 3139.5L1488.7 3219.2L1514.2 3295.4L1539.6 3347.0L1565.1 3373.1L1590.6 3384.2L1616.1 3387.3L1641.5 3387.3L1667.0 3388.1L1692.5 3388.1L1717.9 3390.1L1743.4 3391.7L1768.9 3391.7L1794.3 3391.7L1819.8 3390.1L1845.3 3386.9L1870.8 3382.5L1896.2 3375.0L1921.7 3365.9L1947.2 3354.7L1972.6 3341.2L1998.1 3332.5L2023.6 3327.0L2049.1 3327.0L2074.5 3333.8L2100.0 3345.3L2125.5 3358.7L2150.9 3372.0L2176.4 3385.4L2201.9 3395.0L2227.3 3402.6L2252.8 3408.7L2278.3 3412.5L2303.8 3416.1L2329.2 3418.4L2354.7 3421.2L2380.2 3422.8L2404.8 3424.2" stroke="#000000" stroke-width="2.4" style="stroke-linejoin:miter"/>
<path class="c" d="M410.6 3169.1L416.2 3169.2L441.6 3169.8L467.1 3169.8L492.6 3170.6L518.1 3170.6L543.5 3170.6L569.0 3170.6L594.5 3170.6L619.9 3170.6L645.4 3169.1L670.9 3168.1L696.3 3167.1L721.8 3165.2L747.3 3163.4L772.8 3162.8L798.2 3162.1L823.7 3161.2L849.2 3157.8L874.6 3153.5L900.1 3147.6L925.6 3139.8L951.0 3129.1L976.5 3118.9L1002.0 3107.6L1027.5 3099.9L1052.9 3097.4L1078.4 3100.5L1103.9 3108.1L1129.3 3116.9L1154.8 3125.8L1180.3 3135.2L1205.7 3139.4L1231.2 3137.9L1256.7 3125.2L1282.2 3095.0L1307.6 3040.0L1333.1 2960.0L1358.6 2890.9L1384.0 2858.1L1409.5 2862.5L1435.0 2899.9L1460.4 2966.8L1485.9 3041.7L1511.4 3100.1L1536.8 3136.6L1562.3 3156.0L1587.8 3164.3L1613.3 3165.9L1638.7 3167.1L1664.2 3167.1L1689.7 3167.1L1715.1 3166.3L1740.6 3166.3L1766.1 3166.3L1791.5 3166.3L1817.0 3164.2L1842.5 3161.0L1868.0 3158.2L1893.4 3153.9L1918.9 3147.5L1944.4 3138.7L1969.8 3129.1L1995.3 3118.9L2020.8 3113.4L2046.2 3111.9L2071.7 3115.7L2097.2 3125.3L2122.7 3136.6L2148.1 3149.1L2173.6 3159.0L2199.1 3167.1L2224.5 3173.5L2250.0 3178.9L2275.5 3183.2L2300.9 3186.3L2326.4 3187.9L2351.9 3190.6L2377.4 3191.3L2404.8 3192.8" stroke="#ff0000" stroke-width="2.4" style="stroke-linejoin:miter"/>
<path class="c" d="M410.6 3010.0L419.0 3010.6L444.4 3010.7L469.9 3010.7L495.4 3009.6L520.9 3009.5L546.3 3009.5L571.8 3009.5L597.3 3009.5L622.7 3008.7L648.2 3007.0L673.7 3005.2L699.1 3004.1L724.6 3002.7L750.1 3001.1L775.5 2999.3L801.0 2998.4L826.5 2995.8L852.0 2994.5L877.4 2991.0L902.9 2985.2L928.4 2978.6L953.8 2968.0L979.3 2957.5L1004.8 2946.8L1030.2 2940.1L1055.7 2935.5L1081.2 2938.9L1106.7 2945.5L1132.1 2954.4L1157.6 2963.4L1183.1 2971.9L1208.5 2978.7L1234.0 2980.3L1259.5 2973.6L1285.0 2954.5L1310.4 2915.0L1335.9 2852.1L1361.4 2772.0L1386.8 2704.1L1412.3 2680.7L1437.8 2715.0L1463.2 2800.2L1488.7 2879.6L1514.2 2940.2L1539.6 2977.9L1565.1 2997.3L1590.6 3005.2L1616.1 3006.7L1641.5 3005.2L1667.0 3004.4L1692.5 3005.2L1717.9 3005.2L1743.4 3004.4L1768.9 3002.8L1794.3 3001.2L1819.8 3000.4L1845.3 3001.2L1870.8 3001.2L1896.2 2998.4L1921.7 2990.9L1947.2 2981.7L1972.6 2971.4L1998.1 2961.8L2023.6 2954.0L2049.1 2951.6L2074.5 2953.3L2100.0 2960.9L2125.5 2971.3L2150.9 2983.5L2176.4 2995.7L2201.9 3006.1L2227.3 3012.4L2252.8 3017.7L2278.3 3020.9L2303.8 3025.3L2329.2 3028.7L2354.7 3030.2L2380.2 3031.0L2404.8 3031.7" stroke="#0000ff" stroke-width="2.4" style="stroke-linejoin:miter"/>
<path class="c" d="M410.6 2770.3L419.0 2770.5L444.4 2771.3L469.9 2771.8L495.4 2771.8L520.9 2771.8L546.3 2772.4L571.8 2773.4L597.3 2773.7L622.7 2773.8L648.2 2773.1L673.7 2773.0L699.1 2773.0L724.6 2772.2L750.1 2770.6L775.5 2769.4L801.0 2767.8L826.5 2764.9L852.0 2763.1L877.4 2760.8L902.9 2755.0L928.4 2748.3L953.8 2742.3L979.3 2733.7L1004.8 2723.9L1030.2 2715.1L1055.7 2710.1L1081.2 2709.3L1106.7 2711.5L1132.1 2718.3L1157.6 2727.3L1183.1 2736.6L1208.5 2743.4L1234.0 2749.7L1259.5 2751.3L1285.0 2749.4L1310.4 2739.0L1335.9 2713.8L1361.4 2666.8L1386.8 2595.6L1412.3 2526.8L1437.8 2485.1L1463.2 2481.6L1488.7 2529.2L1514.2 2608.9L1539.6 2681.3L1565.1 2728.9L1590.6 2755.2L1616.1 2765.4L1641.5 2769.7L1667.0 2769.8L1692.5 2771.4L1717.9 2772.5L1743.4 2773.0L1768.9 2773.0L1794.3 2773.0L1819.8 2771.9L1845.3 2769.8L1870.8 2767.6L1896.2 2764.7L1921.7 2760.7L1947.2 2753.5L1972.6 2744.4L1998.1 2735.2L2023.6 2726.6L2049.1 2722.2L2074.5 2722.2L2100.0 2727.0L2125.5 2737.1L2150.9 2748.1L2176.4 2758.3L2201.9 2767.1L2227.3 2772.7L2252.8 2778.1L2278.3 2782.4L2303.8 2786.4L2329.2 2789.5L2354.7 2791.7L2380.2 2792.6L2404.8 2794.0" stroke="#ff00ff" stroke-width="2.4" style="stroke-linejoin:miter"/>
<path d="M1412.8 2377.5V3483" stroke="#000" stroke-width="2.3" fill="none"/>
</svg>
</body></html>
